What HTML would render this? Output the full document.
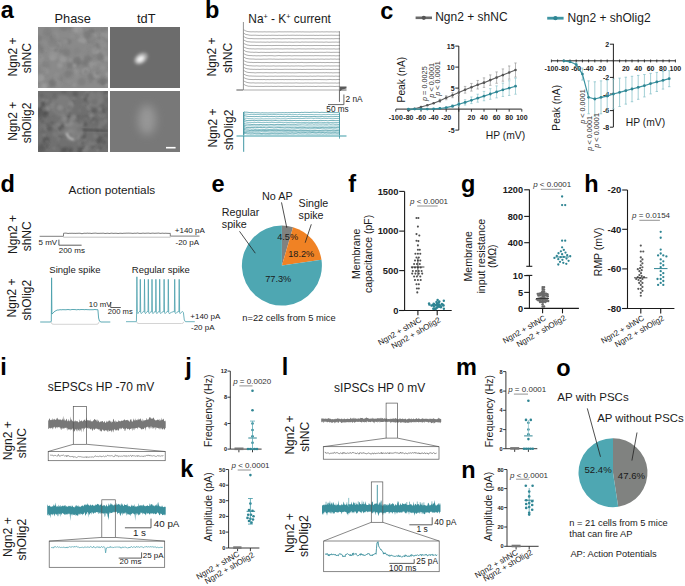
<!DOCTYPE html>
<html><head><meta charset="utf-8"><style>
html,body{margin:0;padding:0;background:#fff;}
svg{display:block;}
text{font-family:"Liberation Sans", sans-serif;}
</style></head><body>
<svg width="685" height="586" viewBox="0 0 685 586">
<rect width="685" height="586" fill="#fff"/>
<text x="0.82" y="18.16" font-size="23.5" font-weight="bold" fill="#000">a</text>
<text x="205.05" y="17.8" font-size="23.5" font-weight="bold" fill="#000">b</text>
<text x="380.3" y="18.5" font-size="23.5" font-weight="bold" fill="#000">c</text>
<text x="0.44" y="192.06" font-size="23.5" font-weight="bold" fill="#000">d</text>
<text x="211.4" y="191.56" font-size="23.5" font-weight="bold" fill="#000">e</text>
<text x="348.2" y="191.7" font-size="23.5" font-weight="bold" fill="#000">f</text>
<text x="461.1" y="191.8" font-size="23.5" font-weight="bold" fill="#000">g</text>
<text x="584.35" y="191.8" font-size="23.5" font-weight="bold" fill="#000">h</text>
<text x="0.35" y="375" font-size="23.5" font-weight="bold" fill="#000">i</text>
<text x="185.2" y="374.8" font-size="23.5" font-weight="bold" fill="#000">j</text>
<text x="180.35" y="476.8" font-size="23.5" font-weight="bold" fill="#000">k</text>
<text x="281.65" y="375.3" font-size="23.5" font-weight="bold" fill="#000">l</text>
<text x="456.05" y="374.5" font-size="23.5" font-weight="bold" fill="#000">m</text>
<text x="461.15" y="477.7" font-size="23.5" font-weight="bold" fill="#000">n</text>
<text x="556.2" y="375.8" font-size="23.5" font-weight="bold" fill="#000">o</text>
<text x="72.7" y="22.7" font-size="12.8" text-anchor="middle" fill="#1a1a1a">Phase</text>
<text x="146.3" y="22.7" font-size="12.8" text-anchor="middle" fill="#1a1a1a">tdT</text>
<defs>
<filter id="tex" x="0" y="0" width="1" height="1"><feTurbulence type="fractalNoise" baseFrequency="0.35" numOctaves="2" seed="3"/><feColorMatrix type="matrix" values="0 0 0 0 0.5  0 0 0 0 0.5  0 0 0 0 0.5  0 0 0 0.5 0"/><feComposite in2="SourceGraphic" operator="in"/></filter>
<filter id="grain" x="0" y="0" width="100%" height="100%"><feTurbulence type="fractalNoise" baseFrequency="0.55" numOctaves="2" seed="5" result="n"/><feColorMatrix in="n" type="matrix" values="0.33 0.33 0.33 0 0  0.33 0.33 0.33 0 0  0.33 0.33 0.33 0 0  0 0 0 0 1"/></filter>
<filter id="blur1" x="-50%" y="-50%" width="200%" height="200%"><feGaussianBlur stdDeviation="1.5"/></filter>
<filter id="blur05" x="-50%" y="-50%" width="200%" height="200%"><feGaussianBlur stdDeviation="0.8"/></filter>
<filter id="blur3" x="-100%" y="-100%" width="300%" height="300%"><feGaussianBlur stdDeviation="4"/></filter>
<clipPath id="c1"><rect x="38" y="27" width="70" height="61"/></clipPath>
<clipPath id="c2"><rect x="110" y="27" width="70" height="61"/></clipPath>
<clipPath id="c3"><rect x="38" y="91" width="70" height="61"/></clipPath>
<clipPath id="c4"><rect x="110" y="91" width="70" height="61"/></clipPath>
</defs>
<rect x="38" y="27" width="70" height="61" fill="#8a8a8a" stroke="none" stroke-width="1"/>
<g clip-path="url(#c1)">
<circle cx="81.76" cy="81.73" r="3.91" fill="rgb(119,119,119)" opacity="0.5" filter="url(#blur05)"/>
<circle cx="59.01" cy="80.29" r="1.22" fill="rgb(158,158,158)" opacity="0.5" filter="url(#blur05)"/>
<circle cx="93.79" cy="55.54" r="2.26" fill="rgb(123,123,123)" opacity="0.5" filter="url(#blur05)"/>
<circle cx="55.84" cy="54.15" r="2.97" fill="rgb(140,140,140)" opacity="0.5" filter="url(#blur05)"/>
<circle cx="107.69" cy="75.35" r="3.38" fill="rgb(169,169,169)" opacity="0.5" filter="url(#blur05)"/>
<circle cx="53.07" cy="36.77" r="3.34" fill="rgb(107,107,107)" opacity="0.5" filter="url(#blur05)"/>
<circle cx="40.5" cy="58.41" r="2.83" fill="rgb(164,164,164)" opacity="0.5" filter="url(#blur05)"/>
<circle cx="82.05" cy="58.36" r="2.94" fill="rgb(121,121,121)" opacity="0.5" filter="url(#blur05)"/>
<circle cx="38.83" cy="38.74" r="3.62" fill="rgb(118,118,118)" opacity="0.5" filter="url(#blur05)"/>
<circle cx="63.87" cy="27.23" r="4.11" fill="rgb(115,115,115)" opacity="0.5" filter="url(#blur05)"/>
<circle cx="56.73" cy="80.7" r="2.98" fill="rgb(160,160,160)" opacity="0.5" filter="url(#blur05)"/>
<circle cx="82.78" cy="72.25" r="1.52" fill="rgb(140,140,140)" opacity="0.5" filter="url(#blur05)"/>
<circle cx="73.54" cy="80.15" r="2.46" fill="rgb(143,143,143)" opacity="0.5" filter="url(#blur05)"/>
<circle cx="42.15" cy="50.65" r="2.33" fill="rgb(114,114,114)" opacity="0.5" filter="url(#blur05)"/>
<circle cx="95.14" cy="50.15" r="4.63" fill="rgb(143,143,143)" opacity="0.5" filter="url(#blur05)"/>
<circle cx="80.35" cy="65.92" r="3.57" fill="rgb(114,114,114)" opacity="0.5" filter="url(#blur05)"/>
<circle cx="68.82" cy="41.61" r="2.61" fill="rgb(111,111,111)" opacity="0.5" filter="url(#blur05)"/>
<circle cx="105.75" cy="40.12" r="3.55" fill="rgb(124,124,124)" opacity="0.5" filter="url(#blur05)"/>
<circle cx="99.19" cy="67.4" r="1.66" fill="rgb(159,159,159)" opacity="0.5" filter="url(#blur05)"/>
<circle cx="104.15" cy="82.14" r="3.19" fill="rgb(114,114,114)" opacity="0.5" filter="url(#blur05)"/>
<circle cx="51.47" cy="83.6" r="3.13" fill="rgb(116,116,116)" opacity="0.5" filter="url(#blur05)"/>
<circle cx="99.88" cy="66.14" r="3.19" fill="rgb(129,129,129)" opacity="0.5" filter="url(#blur05)"/>
<circle cx="66.77" cy="41.61" r="1.33" fill="rgb(161,161,161)" opacity="0.5" filter="url(#blur05)"/>
<circle cx="70.74" cy="60.41" r="2.33" fill="rgb(153,153,153)" opacity="0.5" filter="url(#blur05)"/>
<circle cx="39.76" cy="49.7" r="1.31" fill="rgb(112,112,112)" opacity="0.5" filter="url(#blur05)"/>
<circle cx="105.7" cy="67.12" r="2.7" fill="rgb(139,139,139)" opacity="0.5" filter="url(#blur05)"/>
<circle cx="99.1" cy="48" r="3.27" fill="rgb(149,149,149)" opacity="0.5" filter="url(#blur05)"/>
<circle cx="62.88" cy="58.67" r="3.88" fill="rgb(164,164,164)" opacity="0.5" filter="url(#blur05)"/>
<circle cx="48.57" cy="83.94" r="1.22" fill="rgb(153,153,153)" opacity="0.5" filter="url(#blur05)"/>
<circle cx="94.74" cy="35.34" r="2.67" fill="rgb(157,157,157)" opacity="0.5" filter="url(#blur05)"/>
<circle cx="39" cy="65.34" r="3.98" fill="rgb(138,138,138)" opacity="0.5" filter="url(#blur05)"/>
<circle cx="88.81" cy="40.81" r="1.89" fill="rgb(128,128,128)" opacity="0.5" filter="url(#blur05)"/>
<circle cx="50.56" cy="48.11" r="4.52" fill="rgb(142,142,142)" opacity="0.5" filter="url(#blur05)"/>
<circle cx="61.8" cy="43.56" r="4.53" fill="rgb(133,133,133)" opacity="0.5" filter="url(#blur05)"/>
<circle cx="106.63" cy="58.45" r="3.02" fill="rgb(163,163,163)" opacity="0.5" filter="url(#blur05)"/>
<circle cx="89.99" cy="62.42" r="2.69" fill="rgb(162,162,162)" opacity="0.5" filter="url(#blur05)"/>
<circle cx="66.82" cy="83.29" r="1.44" fill="rgb(132,132,132)" opacity="0.5" filter="url(#blur05)"/>
<circle cx="74.37" cy="85.01" r="2.08" fill="rgb(157,157,157)" opacity="0.5" filter="url(#blur05)"/>
<circle cx="85.35" cy="70.74" r="3.4" fill="rgb(168,168,168)" opacity="0.5" filter="url(#blur05)"/>
<circle cx="61.29" cy="51.29" r="1.91" fill="rgb(108,108,108)" opacity="0.5" filter="url(#blur05)"/>
<circle cx="52.9" cy="82.84" r="4.14" fill="rgb(112,112,112)" opacity="0.5" filter="url(#blur05)"/>
<circle cx="80.26" cy="56.23" r="3.28" fill="rgb(147,147,147)" opacity="0.5" filter="url(#blur05)"/>
<circle cx="59.47" cy="85.64" r="2.83" fill="rgb(145,145,145)" opacity="0.5" filter="url(#blur05)"/>
<circle cx="82.47" cy="38.22" r="1.42" fill="rgb(131,131,131)" opacity="0.5" filter="url(#blur05)"/>
<circle cx="91.48" cy="76.73" r="3.75" fill="rgb(112,112,112)" opacity="0.5" filter="url(#blur05)"/>
<circle cx="101.93" cy="75.92" r="4.27" fill="rgb(139,139,139)" opacity="0.5" filter="url(#blur05)"/>
<circle cx="102.09" cy="29.85" r="1.31" fill="rgb(106,106,106)" opacity="0.5" filter="url(#blur05)"/>
<circle cx="55.69" cy="42.16" r="1.86" fill="rgb(141,141,141)" opacity="0.5" filter="url(#blur05)"/>
<circle cx="40.73" cy="63.01" r="1.78" fill="rgb(149,149,149)" opacity="0.5" filter="url(#blur05)"/>
<circle cx="39.48" cy="45.94" r="4.48" fill="rgb(139,139,139)" opacity="0.5" filter="url(#blur05)"/>
<circle cx="94.81" cy="67.14" r="3.34" fill="rgb(117,117,117)" opacity="0.5" filter="url(#blur05)"/>
<circle cx="78.21" cy="29.42" r="4.01" fill="rgb(167,167,167)" opacity="0.5" filter="url(#blur05)"/>
<circle cx="97.78" cy="30.09" r="2.39" fill="rgb(125,125,125)" opacity="0.5" filter="url(#blur05)"/>
<circle cx="45.89" cy="65.22" r="3.99" fill="rgb(125,125,125)" opacity="0.5" filter="url(#blur05)"/>
<circle cx="98.4" cy="75.62" r="1.65" fill="rgb(154,154,154)" opacity="0.5" filter="url(#blur05)"/>
<circle cx="99.78" cy="39.03" r="3.21" fill="rgb(146,146,146)" opacity="0.5" filter="url(#blur05)"/>
<circle cx="80.65" cy="32.87" r="3.51" fill="rgb(146,146,146)" opacity="0.5" filter="url(#blur05)"/>
<circle cx="95.67" cy="76.01" r="2.35" fill="rgb(151,151,151)" opacity="0.5" filter="url(#blur05)"/>
<circle cx="98.71" cy="81.47" r="1.77" fill="rgb(106,106,106)" opacity="0.5" filter="url(#blur05)"/>
<circle cx="83.56" cy="40.1" r="3.17" fill="rgb(166,166,166)" opacity="0.5" filter="url(#blur05)"/>
<circle cx="64.55" cy="42.42" r="2.8" fill="rgb(147,147,147)" opacity="0.5" filter="url(#blur05)"/>
<circle cx="45.08" cy="50.22" r="1.67" fill="rgb(148,148,148)" opacity="0.5" filter="url(#blur05)"/>
<circle cx="96.14" cy="49.99" r="2.5" fill="rgb(140,140,140)" opacity="0.5" filter="url(#blur05)"/>
<circle cx="53.05" cy="42.09" r="2.35" fill="rgb(134,134,134)" opacity="0.5" filter="url(#blur05)"/>
<circle cx="43.71" cy="72.92" r="3.23" fill="rgb(124,124,124)" opacity="0.5" filter="url(#blur05)"/>
<circle cx="43.43" cy="73.55" r="1.66" fill="rgb(113,113,113)" opacity="0.5" filter="url(#blur05)"/>
<circle cx="47.15" cy="31.96" r="4.37" fill="rgb(122,122,122)" opacity="0.5" filter="url(#blur05)"/>
<circle cx="59.45" cy="77.8" r="3.37" fill="rgb(117,117,117)" opacity="0.5" filter="url(#blur05)"/>
<circle cx="68.44" cy="80.92" r="2.51" fill="rgb(151,151,151)" opacity="0.5" filter="url(#blur05)"/>
<circle cx="44.78" cy="71.37" r="3.92" fill="rgb(158,158,158)" opacity="0.5" filter="url(#blur05)"/>
<circle cx="85.19" cy="49.61" r="1.42" fill="rgb(138,138,138)" opacity="0.5" filter="url(#blur05)"/>
<circle cx="91.02" cy="38.64" r="2.13" fill="rgb(139,139,139)" opacity="0.5" filter="url(#blur05)"/>
<circle cx="90.38" cy="81.69" r="1.64" fill="rgb(116,116,116)" opacity="0.5" filter="url(#blur05)"/>
<circle cx="93.97" cy="66.32" r="3.72" fill="rgb(169,169,169)" opacity="0.5" filter="url(#blur05)"/>
<circle cx="103.74" cy="78.42" r="3.92" fill="rgb(130,130,130)" opacity="0.5" filter="url(#blur05)"/>
<circle cx="82.89" cy="38.25" r="3.86" fill="rgb(154,154,154)" opacity="0.5" filter="url(#blur05)"/>
<circle cx="88.49" cy="54.13" r="2.52" fill="rgb(132,132,132)" opacity="0.5" filter="url(#blur05)"/>
<circle cx="40.33" cy="78.5" r="3.1" fill="rgb(130,130,130)" opacity="0.5" filter="url(#blur05)"/>
<circle cx="76.36" cy="71.02" r="2.54" fill="rgb(158,158,158)" opacity="0.5" filter="url(#blur05)"/>
<circle cx="102.36" cy="50.63" r="1.68" fill="rgb(154,154,154)" opacity="0.5" filter="url(#blur05)"/>
<circle cx="107.51" cy="36.03" r="3.69" fill="rgb(158,158,158)" opacity="0.5" filter="url(#blur05)"/>
<circle cx="102.44" cy="34.53" r="1.52" fill="rgb(169,169,169)" opacity="0.5" filter="url(#blur05)"/>
<circle cx="46.17" cy="37.79" r="3.21" fill="rgb(134,134,134)" opacity="0.5" filter="url(#blur05)"/>
<circle cx="90.53" cy="38.62" r="4.4" fill="rgb(119,119,119)" opacity="0.5" filter="url(#blur05)"/>
<circle cx="91.84" cy="31.12" r="2.86" fill="rgb(107,107,107)" opacity="0.5" filter="url(#blur05)"/>
<circle cx="59.97" cy="46.05" r="3.72" fill="rgb(134,134,134)" opacity="0.5" filter="url(#blur05)"/>
<circle cx="41.97" cy="87.72" r="4.31" fill="rgb(164,164,164)" opacity="0.5" filter="url(#blur05)"/>
<circle cx="55.26" cy="51.04" r="2" fill="rgb(113,113,113)" opacity="0.5" filter="url(#blur05)"/>
<circle cx="40.31" cy="57.7" r="1.63" fill="rgb(116,116,116)" opacity="0.5" filter="url(#blur05)"/>
<circle cx="98.23" cy="56.54" r="1.84" fill="rgb(148,148,148)" opacity="0.5" filter="url(#blur05)"/>
<circle cx="56.61" cy="59.14" r="2.19" fill="rgb(138,138,138)" opacity="0.5" filter="url(#blur05)"/>
<circle cx="82" cy="59.71" r="2.58" fill="rgb(156,156,156)" opacity="0.5" filter="url(#blur05)"/>
<circle cx="99.14" cy="37.94" r="1.68" fill="rgb(112,112,112)" opacity="0.5" filter="url(#blur05)"/>
<circle cx="106.57" cy="84.44" r="2.01" fill="rgb(168,168,168)" opacity="0.5" filter="url(#blur05)"/>
<circle cx="52.55" cy="57.9" r="2.94" fill="rgb(164,164,164)" opacity="0.5" filter="url(#blur05)"/>
<circle cx="40.84" cy="46.24" r="3.3" fill="rgb(109,109,109)" opacity="0.5" filter="url(#blur05)"/>
<circle cx="54.56" cy="55.37" r="4.28" fill="rgb(154,154,154)" opacity="0.5" filter="url(#blur05)"/>
<circle cx="96.03" cy="73.43" r="3.68" fill="rgb(160,160,160)" opacity="0.5" filter="url(#blur05)"/>
<circle cx="85.7" cy="71.88" r="2.26" fill="rgb(115,115,115)" opacity="0.5" filter="url(#blur05)"/>
<circle cx="90.96" cy="37.12" r="4.42" fill="rgb(143,143,143)" opacity="0.5" filter="url(#blur05)"/>
<circle cx="61.06" cy="84.14" r="1.74" fill="rgb(138,138,138)" opacity="0.5" filter="url(#blur05)"/>
<circle cx="44.41" cy="85.89" r="3.21" fill="rgb(157,157,157)" opacity="0.5" filter="url(#blur05)"/>
<circle cx="57.73" cy="75.91" r="3.66" fill="rgb(146,146,146)" opacity="0.5" filter="url(#blur05)"/>
<circle cx="104.54" cy="53.44" r="2.65" fill="rgb(149,149,149)" opacity="0.5" filter="url(#blur05)"/>
<circle cx="96.45" cy="47.44" r="3.54" fill="rgb(118,118,118)" opacity="0.5" filter="url(#blur05)"/>
<circle cx="76.62" cy="73.92" r="1.43" fill="rgb(152,152,152)" opacity="0.5" filter="url(#blur05)"/>
<circle cx="39.08" cy="85.46" r="2.84" fill="rgb(131,131,131)" opacity="0.5" filter="url(#blur05)"/>
<circle cx="88.43" cy="58.92" r="3.76" fill="rgb(110,110,110)" opacity="0.5" filter="url(#blur05)"/>
<circle cx="77.4" cy="61.04" r="4.46" fill="rgb(107,107,107)" opacity="0.5" filter="url(#blur05)"/>
<circle cx="69.7" cy="65.5" r="3.13" fill="rgb(109,109,109)" opacity="0.5" filter="url(#blur05)"/>
<circle cx="79.53" cy="40.55" r="1.88" fill="rgb(162,162,162)" opacity="0.5" filter="url(#blur05)"/>
<circle cx="51.85" cy="54.71" r="3.83" fill="rgb(150,150,150)" opacity="0.5" filter="url(#blur05)"/>
<circle cx="76.74" cy="76.23" r="2.83" fill="rgb(145,145,145)" opacity="0.5" filter="url(#blur05)"/>
<circle cx="95.32" cy="68.36" r="3.45" fill="rgb(131,131,131)" opacity="0.5" filter="url(#blur05)"/>
<circle cx="77.08" cy="51.16" r="3.81" fill="rgb(129,129,129)" opacity="0.5" filter="url(#blur05)"/>
<circle cx="70.66" cy="73.08" r="2.96" fill="rgb(126,126,126)" opacity="0.5" filter="url(#blur05)"/>
<circle cx="95.88" cy="50.24" r="4.16" fill="rgb(156,156,156)" opacity="0.5" filter="url(#blur05)"/>
<circle cx="69.31" cy="70.49" r="1.32" fill="rgb(130,130,130)" opacity="0.5" filter="url(#blur05)"/>
<circle cx="98.22" cy="62.35" r="3.15" fill="rgb(148,148,148)" opacity="0.5" filter="url(#blur05)"/>
<circle cx="85.44" cy="62.6" r="2.67" fill="rgb(116,116,116)" opacity="0.5" filter="url(#blur05)"/>
<circle cx="58.48" cy="44.87" r="2.71" fill="rgb(169,169,169)" opacity="0.5" filter="url(#blur05)"/>
<circle cx="62.68" cy="54.29" r="2.5" fill="rgb(142,142,142)" opacity="0.5" filter="url(#blur05)"/>
<circle cx="104.35" cy="81.23" r="2.52" fill="rgb(122,122,122)" opacity="0.5" filter="url(#blur05)"/>
<circle cx="99.91" cy="57.12" r="3.6" fill="rgb(109,109,109)" opacity="0.5" filter="url(#blur05)"/>
<circle cx="98.66" cy="46.09" r="2.93" fill="rgb(117,117,117)" opacity="0.5" filter="url(#blur05)"/>
<circle cx="67.42" cy="77.51" r="4.1" fill="rgb(135,135,135)" opacity="0.5" filter="url(#blur05)"/>
<circle cx="91.75" cy="54.94" r="2.51" fill="rgb(140,140,140)" opacity="0.5" filter="url(#blur05)"/>
<circle cx="52.09" cy="46.31" r="3.67" fill="rgb(155,155,155)" opacity="0.5" filter="url(#blur05)"/>
<circle cx="41.97" cy="71.7" r="4.06" fill="rgb(133,133,133)" opacity="0.5" filter="url(#blur05)"/>
<circle cx="42.37" cy="68.66" r="2.06" fill="rgb(146,146,146)" opacity="0.5" filter="url(#blur05)"/>
<circle cx="64.36" cy="65.87" r="2.1" fill="rgb(135,135,135)" opacity="0.5" filter="url(#blur05)"/>
<circle cx="74.73" cy="65.49" r="1.91" fill="rgb(167,167,167)" opacity="0.5" filter="url(#blur05)"/>
<circle cx="58.24" cy="45.67" r="2.1" fill="rgb(109,109,109)" opacity="0.5" filter="url(#blur05)"/>
<circle cx="67.6" cy="74.08" r="3.68" fill="rgb(117,117,117)" opacity="0.5" filter="url(#blur05)"/>
<circle cx="47.59" cy="46.61" r="3.89" fill="rgb(136,136,136)" opacity="0.5" filter="url(#blur05)"/>
<circle cx="102.62" cy="67.04" r="3.37" fill="rgb(154,154,154)" opacity="0.5" filter="url(#blur05)"/>
<circle cx="90.52" cy="47.97" r="2.1" fill="rgb(133,133,133)" opacity="0.5" filter="url(#blur05)"/>
<circle cx="72.25" cy="35.65" r="2.74" fill="rgb(146,146,146)" opacity="0.5" filter="url(#blur05)"/>
<circle cx="47.5" cy="35.42" r="1.81" fill="rgb(123,123,123)" opacity="0.5" filter="url(#blur05)"/>
<circle cx="105.32" cy="28.57" r="1.84" fill="rgb(115,115,115)" opacity="0.5" filter="url(#blur05)"/>
<circle cx="71.2" cy="27.92" r="2.8" fill="rgb(115,115,115)" opacity="0.5" filter="url(#blur05)"/>
<circle cx="56.87" cy="75.34" r="1.84" fill="rgb(145,145,145)" opacity="0.5" filter="url(#blur05)"/>
<circle cx="66.44" cy="52.47" r="4.06" fill="rgb(115,115,115)" opacity="0.5" filter="url(#blur05)"/>
<circle cx="102.67" cy="81.5" r="3.54" fill="rgb(108,108,108)" opacity="0.5" filter="url(#blur05)"/>
<circle cx="84.43" cy="63.62" r="3.9" fill="rgb(118,118,118)" opacity="0.5" filter="url(#blur05)"/>
<circle cx="104.73" cy="81.06" r="1.6" fill="rgb(125,125,125)" opacity="0.5" filter="url(#blur05)"/>
<circle cx="40.27" cy="77.69" r="4.4" fill="rgb(169,169,169)" opacity="0.5" filter="url(#blur05)"/>
<circle cx="80.83" cy="67.63" r="3.57" fill="rgb(142,142,142)" opacity="0.5" filter="url(#blur05)"/>
<circle cx="104.67" cy="64.08" r="2.38" fill="rgb(138,138,138)" opacity="0.5" filter="url(#blur05)"/>
<circle cx="39.31" cy="71.17" r="3.63" fill="rgb(132,132,132)" opacity="0.5" filter="url(#blur05)"/>
<circle cx="97.6" cy="73.09" r="2.38" fill="rgb(110,110,110)" opacity="0.5" filter="url(#blur05)"/>
<circle cx="47.26" cy="38.24" r="2.26" fill="rgb(134,134,134)" opacity="0.5" filter="url(#blur05)"/>
<circle cx="102.96" cy="43.98" r="4.35" fill="rgb(149,149,149)" opacity="0.5" filter="url(#blur05)"/>
<circle cx="97.74" cy="51.6" r="1.21" fill="rgb(156,156,156)" opacity="0.5" filter="url(#blur05)"/>
<circle cx="55.18" cy="35.69" r="4" fill="rgb(149,149,149)" opacity="0.5" filter="url(#blur05)"/>
<circle cx="52.87" cy="43.32" r="4.49" fill="rgb(122,122,122)" opacity="0.5" filter="url(#blur05)"/>
<circle cx="87.17" cy="34.9" r="4.05" fill="rgb(112,112,112)" opacity="0.5" filter="url(#blur05)"/>
<circle cx="74.12" cy="29.15" r="3.13" fill="rgb(160,160,160)" opacity="0.5" filter="url(#blur05)"/>
<circle cx="43.91" cy="43.73" r="3.88" fill="rgb(144,144,144)" opacity="0.5" filter="url(#blur05)"/>
<circle cx="59.9" cy="65.36" r="2.79" fill="rgb(161,161,161)" opacity="0.5" filter="url(#blur05)"/>
</g>
<rect x="110" y="27" width="70" height="61" fill="#6c6c6c" stroke="none" stroke-width="1"/>
<g clip-path="url(#c2)">
<ellipse cx="141" cy="58.5" rx="7.5" ry="5" fill="#a8a8a8" filter="url(#blur1)" transform="rotate(-35 141 58.5)"/>
<ellipse cx="140.5" cy="59" rx="4.2" ry="2.8" fill="#f4f4f4" filter="url(#blur1)" transform="rotate(-35 140.5 59)"/>
</g>
<rect x="38" y="91" width="70" height="61" fill="#707070" stroke="none" stroke-width="1"/>
<g clip-path="url(#c3)">
<circle cx="58.51" cy="137.22" r="2.33" fill="rgb(132,132,132)" opacity="0.55" filter="url(#blur05)"/>
<circle cx="64.48" cy="135.22" r="2.48" fill="rgb(102,102,102)" opacity="0.55" filter="url(#blur05)"/>
<circle cx="39.85" cy="149.74" r="2.51" fill="rgb(87,87,87)" opacity="0.55" filter="url(#blur05)"/>
<circle cx="89.16" cy="108" r="1.93" fill="rgb(143,143,143)" opacity="0.55" filter="url(#blur05)"/>
<circle cx="69.37" cy="108.57" r="1.53" fill="rgb(76,76,76)" opacity="0.55" filter="url(#blur05)"/>
<circle cx="53.37" cy="107.54" r="1.22" fill="rgb(75,75,75)" opacity="0.55" filter="url(#blur05)"/>
<circle cx="70.61" cy="104.08" r="2.57" fill="rgb(148,148,148)" opacity="0.55" filter="url(#blur05)"/>
<circle cx="57.11" cy="125.91" r="2.02" fill="rgb(76,76,76)" opacity="0.55" filter="url(#blur05)"/>
<circle cx="46.74" cy="144.97" r="1.94" fill="rgb(138,138,138)" opacity="0.55" filter="url(#blur05)"/>
<circle cx="42.66" cy="127.28" r="2.88" fill="rgb(143,143,143)" opacity="0.55" filter="url(#blur05)"/>
<circle cx="38.4" cy="122.82" r="1.69" fill="rgb(134,134,134)" opacity="0.55" filter="url(#blur05)"/>
<circle cx="43.13" cy="107.16" r="2.75" fill="rgb(109,109,109)" opacity="0.55" filter="url(#blur05)"/>
<circle cx="69.72" cy="150.08" r="1.57" fill="rgb(73,73,73)" opacity="0.55" filter="url(#blur05)"/>
<circle cx="65.45" cy="100.36" r="1" fill="rgb(118,118,118)" opacity="0.55" filter="url(#blur05)"/>
<circle cx="104.75" cy="126.34" r="2.35" fill="rgb(97,97,97)" opacity="0.55" filter="url(#blur05)"/>
<circle cx="77.98" cy="136.89" r="2.21" fill="rgb(138,138,138)" opacity="0.55" filter="url(#blur05)"/>
<circle cx="76.53" cy="103.09" r="2.2" fill="rgb(111,111,111)" opacity="0.55" filter="url(#blur05)"/>
<circle cx="49.62" cy="128.77" r="2.76" fill="rgb(81,81,81)" opacity="0.55" filter="url(#blur05)"/>
<circle cx="76.15" cy="135.75" r="1.77" fill="rgb(92,92,92)" opacity="0.55" filter="url(#blur05)"/>
<circle cx="64.06" cy="124.04" r="2.45" fill="rgb(117,117,117)" opacity="0.55" filter="url(#blur05)"/>
<circle cx="45.49" cy="140.89" r="3.02" fill="rgb(78,78,78)" opacity="0.55" filter="url(#blur05)"/>
<circle cx="55.47" cy="101.59" r="2.84" fill="rgb(147,147,147)" opacity="0.55" filter="url(#blur05)"/>
<circle cx="41.1" cy="111.28" r="1.26" fill="rgb(109,109,109)" opacity="0.55" filter="url(#blur05)"/>
<circle cx="102.51" cy="95.28" r="1.21" fill="rgb(111,111,111)" opacity="0.55" filter="url(#blur05)"/>
<circle cx="74.68" cy="136.48" r="1.85" fill="rgb(81,81,81)" opacity="0.55" filter="url(#blur05)"/>
<circle cx="62.75" cy="150.91" r="2.6" fill="rgb(79,79,79)" opacity="0.55" filter="url(#blur05)"/>
<circle cx="94.57" cy="109.97" r="2.68" fill="rgb(71,71,71)" opacity="0.55" filter="url(#blur05)"/>
<circle cx="98.99" cy="100.9" r="1.89" fill="rgb(126,126,126)" opacity="0.55" filter="url(#blur05)"/>
<circle cx="73.55" cy="101.09" r="1.13" fill="rgb(94,94,94)" opacity="0.55" filter="url(#blur05)"/>
<circle cx="41.67" cy="104.21" r="1.11" fill="rgb(109,109,109)" opacity="0.55" filter="url(#blur05)"/>
<circle cx="62.96" cy="126.8" r="1.47" fill="rgb(72,72,72)" opacity="0.55" filter="url(#blur05)"/>
<circle cx="61.18" cy="137.07" r="1.41" fill="rgb(104,104,104)" opacity="0.55" filter="url(#blur05)"/>
<circle cx="90.85" cy="115.81" r="2.93" fill="rgb(148,148,148)" opacity="0.55" filter="url(#blur05)"/>
<circle cx="59.74" cy="135.89" r="1.41" fill="rgb(81,81,81)" opacity="0.55" filter="url(#blur05)"/>
<circle cx="68.65" cy="127.75" r="3.05" fill="rgb(82,82,82)" opacity="0.55" filter="url(#blur05)"/>
<circle cx="87.87" cy="120" r="1.12" fill="rgb(152,152,152)" opacity="0.55" filter="url(#blur05)"/>
<circle cx="86.7" cy="98.86" r="2.97" fill="rgb(78,78,78)" opacity="0.55" filter="url(#blur05)"/>
<circle cx="44.49" cy="111.22" r="3.05" fill="rgb(72,72,72)" opacity="0.55" filter="url(#blur05)"/>
<circle cx="102.27" cy="128.31" r="0.96" fill="rgb(118,118,118)" opacity="0.55" filter="url(#blur05)"/>
<circle cx="70.12" cy="125.4" r="2.57" fill="rgb(127,127,127)" opacity="0.55" filter="url(#blur05)"/>
<circle cx="107.81" cy="100.56" r="2.75" fill="rgb(104,104,104)" opacity="0.55" filter="url(#blur05)"/>
<circle cx="92.83" cy="145.4" r="3.18" fill="rgb(92,92,92)" opacity="0.55" filter="url(#blur05)"/>
<circle cx="69.71" cy="148.51" r="3.07" fill="rgb(101,101,101)" opacity="0.55" filter="url(#blur05)"/>
<circle cx="103.81" cy="115.76" r="1.7" fill="rgb(134,134,134)" opacity="0.55" filter="url(#blur05)"/>
<circle cx="70.98" cy="118.34" r="1.73" fill="rgb(106,106,106)" opacity="0.55" filter="url(#blur05)"/>
<circle cx="47.79" cy="94.72" r="2.61" fill="rgb(117,117,117)" opacity="0.55" filter="url(#blur05)"/>
<circle cx="85.03" cy="139.94" r="1.35" fill="rgb(89,89,89)" opacity="0.55" filter="url(#blur05)"/>
<circle cx="57.45" cy="109.54" r="2.63" fill="rgb(101,101,101)" opacity="0.55" filter="url(#blur05)"/>
<circle cx="60.62" cy="129.81" r="1.25" fill="rgb(79,79,79)" opacity="0.55" filter="url(#blur05)"/>
<circle cx="86.8" cy="137.14" r="1.51" fill="rgb(124,124,124)" opacity="0.55" filter="url(#blur05)"/>
<circle cx="40.39" cy="115.66" r="2.19" fill="rgb(91,91,91)" opacity="0.55" filter="url(#blur05)"/>
<circle cx="62.38" cy="128.18" r="2.22" fill="rgb(83,83,83)" opacity="0.55" filter="url(#blur05)"/>
<circle cx="87.46" cy="95.88" r="3.13" fill="rgb(87,87,87)" opacity="0.55" filter="url(#blur05)"/>
<circle cx="55.75" cy="103.22" r="3.18" fill="rgb(94,94,94)" opacity="0.55" filter="url(#blur05)"/>
<circle cx="80.37" cy="151.43" r="3.08" fill="rgb(73,73,73)" opacity="0.55" filter="url(#blur05)"/>
<circle cx="74.48" cy="127.68" r="2.49" fill="rgb(98,98,98)" opacity="0.55" filter="url(#blur05)"/>
<circle cx="60.95" cy="91.26" r="0.88" fill="rgb(116,116,116)" opacity="0.55" filter="url(#blur05)"/>
<circle cx="43.31" cy="103.35" r="1.6" fill="rgb(75,75,75)" opacity="0.55" filter="url(#blur05)"/>
<circle cx="40.16" cy="147.54" r="1.84" fill="rgb(87,87,87)" opacity="0.55" filter="url(#blur05)"/>
<circle cx="87.59" cy="91.58" r="1.39" fill="rgb(151,151,151)" opacity="0.55" filter="url(#blur05)"/>
<circle cx="100.84" cy="129.79" r="1.02" fill="rgb(97,97,97)" opacity="0.55" filter="url(#blur05)"/>
<circle cx="39.96" cy="104.37" r="0.86" fill="rgb(80,80,80)" opacity="0.55" filter="url(#blur05)"/>
<circle cx="82.33" cy="97.13" r="1.17" fill="rgb(146,146,146)" opacity="0.55" filter="url(#blur05)"/>
<circle cx="61.48" cy="111.31" r="1.01" fill="rgb(137,137,137)" opacity="0.55" filter="url(#blur05)"/>
<circle cx="85.35" cy="124.38" r="2.28" fill="rgb(78,78,78)" opacity="0.55" filter="url(#blur05)"/>
<circle cx="56.22" cy="126.6" r="3.09" fill="rgb(139,139,139)" opacity="0.55" filter="url(#blur05)"/>
<circle cx="82.85" cy="122.65" r="0.84" fill="rgb(145,145,145)" opacity="0.55" filter="url(#blur05)"/>
<circle cx="42.68" cy="98.87" r="2.46" fill="rgb(139,139,139)" opacity="0.55" filter="url(#blur05)"/>
<circle cx="93.06" cy="118.6" r="1.22" fill="rgb(73,73,73)" opacity="0.55" filter="url(#blur05)"/>
<circle cx="97.6" cy="150.64" r="1.39" fill="rgb(143,143,143)" opacity="0.55" filter="url(#blur05)"/>
<circle cx="66.18" cy="109.99" r="2.01" fill="rgb(70,70,70)" opacity="0.55" filter="url(#blur05)"/>
<circle cx="68.99" cy="103.17" r="2.51" fill="rgb(112,112,112)" opacity="0.55" filter="url(#blur05)"/>
<circle cx="98.82" cy="145.7" r="1.56" fill="rgb(93,93,93)" opacity="0.55" filter="url(#blur05)"/>
<circle cx="103.74" cy="121.74" r="1.03" fill="rgb(73,73,73)" opacity="0.55" filter="url(#blur05)"/>
<circle cx="107.33" cy="126.33" r="0.93" fill="rgb(113,113,113)" opacity="0.55" filter="url(#blur05)"/>
<circle cx="73.29" cy="117.56" r="3.08" fill="rgb(150,150,150)" opacity="0.55" filter="url(#blur05)"/>
<circle cx="46.75" cy="100.25" r="1.78" fill="rgb(140,140,140)" opacity="0.55" filter="url(#blur05)"/>
<circle cx="81.66" cy="135.52" r="2.18" fill="rgb(87,87,87)" opacity="0.55" filter="url(#blur05)"/>
<circle cx="95.24" cy="91.86" r="2.48" fill="rgb(86,86,86)" opacity="0.55" filter="url(#blur05)"/>
<circle cx="70.98" cy="150.48" r="2.09" fill="rgb(74,74,74)" opacity="0.55" filter="url(#blur05)"/>
<circle cx="68.01" cy="131.28" r="0.94" fill="rgb(91,91,91)" opacity="0.55" filter="url(#blur05)"/>
<circle cx="39.28" cy="123.94" r="1.72" fill="rgb(112,112,112)" opacity="0.55" filter="url(#blur05)"/>
<circle cx="58.71" cy="131.07" r="1.22" fill="rgb(147,147,147)" opacity="0.55" filter="url(#blur05)"/>
<circle cx="105.21" cy="121.07" r="1.92" fill="rgb(143,143,143)" opacity="0.55" filter="url(#blur05)"/>
<circle cx="58.29" cy="139.99" r="1.49" fill="rgb(131,131,131)" opacity="0.55" filter="url(#blur05)"/>
<circle cx="61.38" cy="127.76" r="3.02" fill="rgb(74,74,74)" opacity="0.55" filter="url(#blur05)"/>
<circle cx="94.51" cy="124.05" r="1.71" fill="rgb(99,99,99)" opacity="0.55" filter="url(#blur05)"/>
<circle cx="42.86" cy="106.76" r="2.3" fill="rgb(78,78,78)" opacity="0.55" filter="url(#blur05)"/>
<circle cx="84.86" cy="149.7" r="3.15" fill="rgb(145,145,145)" opacity="0.55" filter="url(#blur05)"/>
<circle cx="94.46" cy="101.86" r="3.13" fill="rgb(87,87,87)" opacity="0.55" filter="url(#blur05)"/>
<circle cx="98.83" cy="144.55" r="2.29" fill="rgb(114,114,114)" opacity="0.55" filter="url(#blur05)"/>
<circle cx="52.03" cy="122.69" r="1.5" fill="rgb(80,80,80)" opacity="0.55" filter="url(#blur05)"/>
<circle cx="46.97" cy="139.87" r="3.01" fill="rgb(82,82,82)" opacity="0.55" filter="url(#blur05)"/>
<circle cx="38.93" cy="107.08" r="1.12" fill="rgb(86,86,86)" opacity="0.55" filter="url(#blur05)"/>
<circle cx="78.83" cy="116.76" r="1.83" fill="rgb(87,87,87)" opacity="0.55" filter="url(#blur05)"/>
<circle cx="84.52" cy="108.66" r="1.76" fill="rgb(109,109,109)" opacity="0.55" filter="url(#blur05)"/>
<circle cx="101.31" cy="106.03" r="2.52" fill="rgb(96,96,96)" opacity="0.55" filter="url(#blur05)"/>
<circle cx="100.61" cy="115.04" r="2.01" fill="rgb(144,144,144)" opacity="0.55" filter="url(#blur05)"/>
<circle cx="85.09" cy="96.76" r="1.13" fill="rgb(154,154,154)" opacity="0.55" filter="url(#blur05)"/>
<circle cx="40.04" cy="109.35" r="3.1" fill="rgb(71,71,71)" opacity="0.55" filter="url(#blur05)"/>
<circle cx="49.3" cy="104.02" r="1.01" fill="rgb(110,110,110)" opacity="0.55" filter="url(#blur05)"/>
<circle cx="79.47" cy="110.42" r="1.06" fill="rgb(138,138,138)" opacity="0.55" filter="url(#blur05)"/>
<circle cx="94.31" cy="125.29" r="1.13" fill="rgb(116,116,116)" opacity="0.55" filter="url(#blur05)"/>
<circle cx="82.07" cy="117.13" r="2.87" fill="rgb(103,103,103)" opacity="0.55" filter="url(#blur05)"/>
<circle cx="73.76" cy="97.96" r="2.15" fill="rgb(135,135,135)" opacity="0.55" filter="url(#blur05)"/>
<circle cx="89.19" cy="106.68" r="3.18" fill="rgb(131,131,131)" opacity="0.55" filter="url(#blur05)"/>
<circle cx="67.66" cy="116.31" r="2.67" fill="rgb(84,84,84)" opacity="0.55" filter="url(#blur05)"/>
<circle cx="82.77" cy="134.85" r="2.04" fill="rgb(144,144,144)" opacity="0.55" filter="url(#blur05)"/>
<circle cx="70.8" cy="119.36" r="1.48" fill="rgb(148,148,148)" opacity="0.55" filter="url(#blur05)"/>
<circle cx="60.14" cy="133.41" r="1.78" fill="rgb(149,149,149)" opacity="0.55" filter="url(#blur05)"/>
<circle cx="104.36" cy="92.83" r="3.19" fill="rgb(121,121,121)" opacity="0.55" filter="url(#blur05)"/>
<circle cx="43.17" cy="121.32" r="0.92" fill="rgb(116,116,116)" opacity="0.55" filter="url(#blur05)"/>
<circle cx="50.98" cy="113.44" r="1.53" fill="rgb(121,121,121)" opacity="0.55" filter="url(#blur05)"/>
<circle cx="95.57" cy="148.13" r="1.59" fill="rgb(118,118,118)" opacity="0.55" filter="url(#blur05)"/>
<circle cx="38.41" cy="113.7" r="3.11" fill="rgb(80,80,80)" opacity="0.55" filter="url(#blur05)"/>
<circle cx="98.89" cy="130.8" r="1.51" fill="rgb(136,136,136)" opacity="0.55" filter="url(#blur05)"/>
<circle cx="58.25" cy="145.58" r="1" fill="rgb(80,80,80)" opacity="0.55" filter="url(#blur05)"/>
<circle cx="90.5" cy="118.4" r="1.15" fill="rgb(113,113,113)" opacity="0.55" filter="url(#blur05)"/>
<circle cx="58.79" cy="124.51" r="2.58" fill="rgb(142,142,142)" opacity="0.55" filter="url(#blur05)"/>
<circle cx="42.13" cy="127.13" r="3.16" fill="rgb(109,109,109)" opacity="0.55" filter="url(#blur05)"/>
<circle cx="91.87" cy="96.93" r="2.9" fill="rgb(119,119,119)" opacity="0.55" filter="url(#blur05)"/>
<circle cx="100.18" cy="139.01" r="2.89" fill="rgb(74,74,74)" opacity="0.55" filter="url(#blur05)"/>
<circle cx="88.09" cy="103.02" r="1.44" fill="rgb(97,97,97)" opacity="0.55" filter="url(#blur05)"/>
<circle cx="79.39" cy="129.3" r="3.04" fill="rgb(71,71,71)" opacity="0.55" filter="url(#blur05)"/>
<circle cx="51.54" cy="113.08" r="2.76" fill="rgb(116,116,116)" opacity="0.55" filter="url(#blur05)"/>
<circle cx="73.84" cy="137.37" r="2.37" fill="rgb(94,94,94)" opacity="0.55" filter="url(#blur05)"/>
<circle cx="44.1" cy="119.2" r="2.91" fill="rgb(120,120,120)" opacity="0.55" filter="url(#blur05)"/>
<circle cx="41.73" cy="117.84" r="1.72" fill="rgb(119,119,119)" opacity="0.55" filter="url(#blur05)"/>
<circle cx="79.1" cy="149.03" r="1.61" fill="rgb(104,104,104)" opacity="0.55" filter="url(#blur05)"/>
<circle cx="80.95" cy="145.07" r="2.49" fill="rgb(110,110,110)" opacity="0.55" filter="url(#blur05)"/>
<circle cx="95.02" cy="120.6" r="3.11" fill="rgb(94,94,94)" opacity="0.55" filter="url(#blur05)"/>
<circle cx="46.92" cy="141.65" r="1.51" fill="rgb(142,142,142)" opacity="0.55" filter="url(#blur05)"/>
<circle cx="80.66" cy="122.05" r="1.01" fill="rgb(136,136,136)" opacity="0.55" filter="url(#blur05)"/>
<circle cx="42.61" cy="149.87" r="2.9" fill="rgb(95,95,95)" opacity="0.55" filter="url(#blur05)"/>
<circle cx="46.95" cy="145.03" r="1.95" fill="rgb(80,80,80)" opacity="0.55" filter="url(#blur05)"/>
<circle cx="72.9" cy="106.06" r="1.78" fill="rgb(124,124,124)" opacity="0.55" filter="url(#blur05)"/>
<circle cx="102.08" cy="139.86" r="1.19" fill="rgb(110,110,110)" opacity="0.55" filter="url(#blur05)"/>
<circle cx="72.43" cy="151.36" r="1.01" fill="rgb(113,113,113)" opacity="0.55" filter="url(#blur05)"/>
<circle cx="102.01" cy="115.33" r="1.43" fill="rgb(117,117,117)" opacity="0.55" filter="url(#blur05)"/>
<circle cx="60.41" cy="147.55" r="1" fill="rgb(87,87,87)" opacity="0.55" filter="url(#blur05)"/>
<circle cx="43.87" cy="134.43" r="1.5" fill="rgb(146,146,146)" opacity="0.55" filter="url(#blur05)"/>
<circle cx="100.55" cy="148.12" r="1.41" fill="rgb(70,70,70)" opacity="0.55" filter="url(#blur05)"/>
<circle cx="65.13" cy="149.72" r="2.63" fill="rgb(75,75,75)" opacity="0.55" filter="url(#blur05)"/>
<circle cx="87.18" cy="146.94" r="3.12" fill="rgb(130,130,130)" opacity="0.55" filter="url(#blur05)"/>
<circle cx="98.41" cy="142.34" r="1.66" fill="rgb(78,78,78)" opacity="0.55" filter="url(#blur05)"/>
<circle cx="88.92" cy="99.35" r="1.72" fill="rgb(154,154,154)" opacity="0.55" filter="url(#blur05)"/>
<circle cx="77.18" cy="122.83" r="3.07" fill="rgb(94,94,94)" opacity="0.55" filter="url(#blur05)"/>
<circle cx="107.96" cy="146.63" r="1.67" fill="rgb(97,97,97)" opacity="0.55" filter="url(#blur05)"/>
<circle cx="46.86" cy="146.85" r="1.25" fill="rgb(70,70,70)" opacity="0.55" filter="url(#blur05)"/>
<circle cx="100.31" cy="127.49" r="2.41" fill="rgb(132,132,132)" opacity="0.55" filter="url(#blur05)"/>
<circle cx="40.99" cy="96.6" r="2" fill="rgb(74,74,74)" opacity="0.55" filter="url(#blur05)"/>
<circle cx="73.3" cy="135.92" r="2.38" fill="rgb(122,122,122)" opacity="0.55" filter="url(#blur05)"/>
<circle cx="41.25" cy="105.44" r="2.95" fill="rgb(80,80,80)" opacity="0.55" filter="url(#blur05)"/>
<circle cx="75.33" cy="94.05" r="3.05" fill="rgb(84,84,84)" opacity="0.55" filter="url(#blur05)"/>
<circle cx="66.7" cy="124.35" r="2.52" fill="rgb(149,149,149)" opacity="0.55" filter="url(#blur05)"/>
<circle cx="89.55" cy="112.19" r="0.98" fill="rgb(130,130,130)" opacity="0.55" filter="url(#blur05)"/>
<circle cx="106.08" cy="92.04" r="2.66" fill="rgb(84,84,84)" opacity="0.55" filter="url(#blur05)"/>
<circle cx="70.2" cy="122.88" r="2.27" fill="rgb(154,154,154)" opacity="0.55" filter="url(#blur05)"/>
<circle cx="86.12" cy="114.94" r="2.52" fill="rgb(109,109,109)" opacity="0.55" filter="url(#blur05)"/>
<circle cx="66.92" cy="113.3" r="1.98" fill="rgb(93,93,93)" opacity="0.55" filter="url(#blur05)"/>
<circle cx="54.95" cy="100.06" r="1.86" fill="rgb(94,94,94)" opacity="0.55" filter="url(#blur05)"/>
<circle cx="96.59" cy="142.72" r="1.63" fill="rgb(122,122,122)" opacity="0.55" filter="url(#blur05)"/>
<circle cx="101.16" cy="112.91" r="2.13" fill="rgb(107,107,107)" opacity="0.55" filter="url(#blur05)"/>
<circle cx="83.52" cy="149.55" r="1.13" fill="rgb(152,152,152)" opacity="0.55" filter="url(#blur05)"/>
<circle cx="84.6" cy="139.55" r="2.32" fill="rgb(143,143,143)" opacity="0.55" filter="url(#blur05)"/>
<circle cx="60.84" cy="134.19" r="1.43" fill="rgb(113,113,113)" opacity="0.55" filter="url(#blur05)"/>
<circle cx="85.7" cy="103.27" r="0.95" fill="rgb(137,137,137)" opacity="0.55" filter="url(#blur05)"/>
<circle cx="94.63" cy="131.61" r="1.57" fill="rgb(125,125,125)" opacity="0.55" filter="url(#blur05)"/>
<circle cx="43.87" cy="131.41" r="2.18" fill="rgb(122,122,122)" opacity="0.55" filter="url(#blur05)"/>
<circle cx="69.29" cy="104.73" r="2.54" fill="rgb(109,109,109)" opacity="0.55" filter="url(#blur05)"/>
<circle cx="90.18" cy="113.21" r="1.01" fill="rgb(116,116,116)" opacity="0.55" filter="url(#blur05)"/>
<circle cx="81.59" cy="147.23" r="2.93" fill="rgb(74,74,74)" opacity="0.55" filter="url(#blur05)"/>
<circle cx="92.03" cy="106.94" r="2.47" fill="rgb(102,102,102)" opacity="0.55" filter="url(#blur05)"/>
<circle cx="60.55" cy="120.79" r="2.07" fill="rgb(129,129,129)" opacity="0.55" filter="url(#blur05)"/>
<circle cx="82.65" cy="132.37" r="1.72" fill="rgb(127,127,127)" opacity="0.55" filter="url(#blur05)"/>
<circle cx="62.18" cy="128.06" r="1.9" fill="rgb(117,117,117)" opacity="0.55" filter="url(#blur05)"/>
<circle cx="39.23" cy="121.43" r="1.33" fill="rgb(102,102,102)" opacity="0.55" filter="url(#blur05)"/>
<circle cx="43.16" cy="131.07" r="2.94" fill="rgb(100,100,100)" opacity="0.55" filter="url(#blur05)"/>
<circle cx="45.35" cy="128.84" r="1.1" fill="rgb(145,145,145)" opacity="0.55" filter="url(#blur05)"/>
<circle cx="46.57" cy="113.07" r="1.99" fill="rgb(80,80,80)" opacity="0.55" filter="url(#blur05)"/>
<circle cx="60.31" cy="107.79" r="2.51" fill="rgb(153,153,153)" opacity="0.55" filter="url(#blur05)"/>
<circle cx="63.4" cy="139.23" r="1.14" fill="rgb(119,119,119)" opacity="0.55" filter="url(#blur05)"/>
<circle cx="68.29" cy="108.58" r="2.77" fill="rgb(133,133,133)" opacity="0.55" filter="url(#blur05)"/>
<circle cx="47.38" cy="108.84" r="2.77" fill="rgb(154,154,154)" opacity="0.55" filter="url(#blur05)"/>
<circle cx="80.81" cy="144.17" r="3.16" fill="rgb(132,132,132)" opacity="0.55" filter="url(#blur05)"/>
<circle cx="83.13" cy="104.5" r="1.69" fill="rgb(123,123,123)" opacity="0.55" filter="url(#blur05)"/>
<circle cx="102.85" cy="109.41" r="1.75" fill="rgb(71,71,71)" opacity="0.55" filter="url(#blur05)"/>
<circle cx="86.77" cy="118.06" r="2.71" fill="rgb(89,89,89)" opacity="0.55" filter="url(#blur05)"/>
<circle cx="84.18" cy="132.06" r="1.91" fill="rgb(86,86,86)" opacity="0.55" filter="url(#blur05)"/>
<circle cx="66.2" cy="136.45" r="1.25" fill="rgb(77,77,77)" opacity="0.55" filter="url(#blur05)"/>
<circle cx="70.39" cy="105.31" r="2.72" fill="rgb(139,139,139)" opacity="0.55" filter="url(#blur05)"/>
<circle cx="104.17" cy="142.23" r="2.35" fill="rgb(85,85,85)" opacity="0.55" filter="url(#blur05)"/>
<circle cx="95.61" cy="135.41" r="2.59" fill="rgb(129,129,129)" opacity="0.55" filter="url(#blur05)"/>
<circle cx="96.1" cy="109.17" r="2.41" fill="rgb(113,113,113)" opacity="0.55" filter="url(#blur05)"/>
<circle cx="61.65" cy="110.94" r="1.17" fill="rgb(111,111,111)" opacity="0.55" filter="url(#blur05)"/>
<circle cx="63.81" cy="116.71" r="2.84" fill="rgb(127,127,127)" opacity="0.55" filter="url(#blur05)"/>
<circle cx="85.62" cy="151.03" r="1.32" fill="rgb(113,113,113)" opacity="0.55" filter="url(#blur05)"/>
<circle cx="44.48" cy="114.96" r="3.08" fill="rgb(77,77,77)" opacity="0.55" filter="url(#blur05)"/>
<circle cx="91.04" cy="143.79" r="2.02" fill="rgb(137,137,137)" opacity="0.55" filter="url(#blur05)"/>
<circle cx="68.87" cy="112.55" r="2.01" fill="rgb(86,86,86)" opacity="0.55" filter="url(#blur05)"/>
<circle cx="59.52" cy="109.63" r="3.17" fill="rgb(98,98,98)" opacity="0.55" filter="url(#blur05)"/>
<circle cx="54.02" cy="148.33" r="1.13" fill="rgb(152,152,152)" opacity="0.55" filter="url(#blur05)"/>
<circle cx="97.73" cy="130.47" r="1.83" fill="rgb(86,86,86)" opacity="0.55" filter="url(#blur05)"/>
<circle cx="45.43" cy="97.32" r="1.64" fill="rgb(104,104,104)" opacity="0.55" filter="url(#blur05)"/>
<circle cx="102.66" cy="123.71" r="3.18" fill="rgb(131,131,131)" opacity="0.55" filter="url(#blur05)"/>
<circle cx="48.24" cy="124.77" r="1.18" fill="rgb(73,73,73)" opacity="0.55" filter="url(#blur05)"/>
<circle cx="104.07" cy="111.61" r="1.26" fill="rgb(78,78,78)" opacity="0.55" filter="url(#blur05)"/>
<circle cx="83.65" cy="119.13" r="0.83" fill="rgb(130,130,130)" opacity="0.55" filter="url(#blur05)"/>
<circle cx="55.97" cy="138.61" r="1.97" fill="rgb(115,115,115)" opacity="0.55" filter="url(#blur05)"/>
<circle cx="70" cy="132.23" r="3.18" fill="rgb(137,137,137)" opacity="0.55" filter="url(#blur05)"/>
<circle cx="42.84" cy="121.18" r="1.36" fill="rgb(78,78,78)" opacity="0.55" filter="url(#blur05)"/>
<circle cx="51.66" cy="106.13" r="3.1" fill="rgb(133,133,133)" opacity="0.55" filter="url(#blur05)"/>
<circle cx="97.71" cy="133.63" r="1.56" fill="rgb(103,103,103)" opacity="0.55" filter="url(#blur05)"/>
<circle cx="68.85" cy="108.9" r="1.81" fill="rgb(135,135,135)" opacity="0.55" filter="url(#blur05)"/>
<circle cx="43.3" cy="107.87" r="1.95" fill="rgb(127,127,127)" opacity="0.55" filter="url(#blur05)"/>
<circle cx="83.21" cy="135.22" r="1.05" fill="rgb(85,85,85)" opacity="0.55" filter="url(#blur05)"/>
<circle cx="59.63" cy="108.18" r="2.61" fill="rgb(154,154,154)" opacity="0.55" filter="url(#blur05)"/>
<circle cx="85.82" cy="93.02" r="1.51" fill="rgb(138,138,138)" opacity="0.55" filter="url(#blur05)"/>
<circle cx="102.7" cy="127.29" r="1.64" fill="rgb(100,100,100)" opacity="0.55" filter="url(#blur05)"/>
<circle cx="82.34" cy="143.72" r="1.62" fill="rgb(86,86,86)" opacity="0.55" filter="url(#blur05)"/>
<circle cx="38.2" cy="99.39" r="2.84" fill="rgb(123,123,123)" opacity="0.55" filter="url(#blur05)"/>
<circle cx="107.34" cy="95.24" r="1.68" fill="rgb(137,137,137)" opacity="0.55" filter="url(#blur05)"/>
<circle cx="84.28" cy="95.07" r="1.76" fill="rgb(124,124,124)" opacity="0.55" filter="url(#blur05)"/>
<circle cx="86.14" cy="118.55" r="1.25" fill="rgb(152,152,152)" opacity="0.55" filter="url(#blur05)"/>
<circle cx="70.66" cy="134.76" r="2.08" fill="rgb(76,76,76)" opacity="0.55" filter="url(#blur05)"/>
<circle cx="54.57" cy="94.84" r="1.26" fill="rgb(87,87,87)" opacity="0.55" filter="url(#blur05)"/>
<circle cx="67.04" cy="110.62" r="1.67" fill="rgb(139,139,139)" opacity="0.55" filter="url(#blur05)"/>
<circle cx="39.5" cy="97.31" r="2.74" fill="rgb(115,115,115)" opacity="0.55" filter="url(#blur05)"/>
<circle cx="68.72" cy="107.31" r="2.1" fill="rgb(88,88,88)" opacity="0.55" filter="url(#blur05)"/>
<circle cx="98.09" cy="141.27" r="1.57" fill="rgb(72,72,72)" opacity="0.55" filter="url(#blur05)"/>
<circle cx="100.14" cy="109.22" r="2.38" fill="rgb(142,142,142)" opacity="0.55" filter="url(#blur05)"/>
<circle cx="93.89" cy="143.61" r="1.97" fill="rgb(141,141,141)" opacity="0.55" filter="url(#blur05)"/>
<circle cx="70.28" cy="107.09" r="1.95" fill="rgb(98,98,98)" opacity="0.55" filter="url(#blur05)"/>
<circle cx="91.7" cy="141.73" r="1.14" fill="rgb(83,83,83)" opacity="0.55" filter="url(#blur05)"/>
<circle cx="64.86" cy="119.26" r="3.1" fill="rgb(150,150,150)" opacity="0.55" filter="url(#blur05)"/>
<circle cx="105.69" cy="135.52" r="2.43" fill="rgb(92,92,92)" opacity="0.55" filter="url(#blur05)"/>
<circle cx="64.09" cy="91.16" r="2.8" fill="rgb(93,93,93)" opacity="0.55" filter="url(#blur05)"/>
<circle cx="43.55" cy="110.25" r="1.58" fill="rgb(131,131,131)" opacity="0.55" filter="url(#blur05)"/>
<circle cx="38.4" cy="105.03" r="2.95" fill="rgb(142,142,142)" opacity="0.55" filter="url(#blur05)"/>
<circle cx="82.03" cy="125.1" r="1.33" fill="rgb(144,144,144)" opacity="0.55" filter="url(#blur05)"/>
<circle cx="91.25" cy="122.29" r="1.19" fill="rgb(88,88,88)" opacity="0.55" filter="url(#blur05)"/>
<circle cx="64.55" cy="111.2" r="0.95" fill="rgb(104,104,104)" opacity="0.55" filter="url(#blur05)"/>
<circle cx="69.41" cy="108.51" r="1.72" fill="rgb(98,98,98)" opacity="0.55" filter="url(#blur05)"/>
<circle cx="64.38" cy="128.76" r="1.99" fill="rgb(86,86,86)" opacity="0.55" filter="url(#blur05)"/>
<circle cx="93.67" cy="122.3" r="1.9" fill="rgb(130,130,130)" opacity="0.55" filter="url(#blur05)"/>
<circle cx="90.65" cy="142.79" r="2.75" fill="rgb(126,126,126)" opacity="0.55" filter="url(#blur05)"/>
<circle cx="88.48" cy="100.58" r="2.48" fill="rgb(91,91,91)" opacity="0.55" filter="url(#blur05)"/>
<circle cx="56.05" cy="98.33" r="1.75" fill="rgb(71,71,71)" opacity="0.55" filter="url(#blur05)"/>
<circle cx="83.99" cy="136.63" r="2.66" fill="rgb(80,80,80)" opacity="0.55" filter="url(#blur05)"/>
<circle cx="82.88" cy="142.14" r="0.89" fill="rgb(86,86,86)" opacity="0.55" filter="url(#blur05)"/>
<circle cx="56.74" cy="119.18" r="1.21" fill="rgb(115,115,115)" opacity="0.55" filter="url(#blur05)"/>
<circle cx="62.08" cy="130.96" r="2.08" fill="rgb(128,128,128)" opacity="0.55" filter="url(#blur05)"/>
<circle cx="55.24" cy="134.13" r="2.56" fill="rgb(131,131,131)" opacity="0.55" filter="url(#blur05)"/>
<circle cx="42.79" cy="148.72" r="2.18" fill="rgb(93,93,93)" opacity="0.55" filter="url(#blur05)"/>
<circle cx="68.39" cy="122.57" r="2.04" fill="rgb(91,91,91)" opacity="0.55" filter="url(#blur05)"/>
<circle cx="56.55" cy="113.18" r="2.67" fill="rgb(107,107,107)" opacity="0.55" filter="url(#blur05)"/>
<circle cx="40.7" cy="118.58" r="1.28" fill="rgb(71,71,71)" opacity="0.55" filter="url(#blur05)"/>
<circle cx="106.39" cy="108.92" r="2.09" fill="rgb(100,100,100)" opacity="0.55" filter="url(#blur05)"/>
<circle cx="41.74" cy="145.95" r="3.05" fill="rgb(85,85,85)" opacity="0.55" filter="url(#blur05)"/>
<circle cx="67.26" cy="113.79" r="1.2" fill="rgb(126,126,126)" opacity="0.55" filter="url(#blur05)"/>
<circle cx="62" cy="106" r="10" fill="#8c8c8c" stroke="#a0a0a0" stroke-width="1.2" opacity="0.45" filter="url(#blur1)"/>
<circle cx="95" cy="99" r="7.5" fill="#858585" stroke="#a5a5a5" stroke-width="1" opacity="0.5" filter="url(#blur1)"/>
<circle cx="73" cy="131" r="9.5" fill="#929292" stroke="#a0a0a0" stroke-width="1" opacity="0.55" filter="url(#blur1)"/>
<path d="M66.5,133 A9,9 0 0 0 74,139.6" fill="none" stroke="#d0d0d0" stroke-width="1.3" filter="url(#blur05)"/>
<path d="M82.5,129.6 L108,131" stroke="#4a4a4a" stroke-width="1.6" filter="url(#blur05)"/>
</g>
<rect x="110" y="91" width="70" height="61" fill="#787878" stroke="none" stroke-width="1"/>
<g clip-path="url(#c4)">
<ellipse cx="147" cy="120" rx="9" ry="15" fill="#979797" filter="url(#blur3)"/>
</g>
<line x1="166" y1="147.7" x2="175.6" y2="147.7" stroke="#fff" stroke-width="1.6"/>
<text x="0" y="0" font-size="12" text-anchor="middle" fill="#1a1a1a" transform="translate(16.59,57) rotate(-90)">Ngn2 +</text>
<text x="0" y="0" font-size="12" text-anchor="middle" fill="#1a1a1a" transform="translate(30.75,58.2) rotate(-90)">shNC</text>
<text x="0" y="0" font-size="12" text-anchor="middle" fill="#1a1a1a" transform="translate(16.59,121.2) rotate(-90)">Ngn2 +</text>
<text x="0" y="0" font-size="12" text-anchor="middle" fill="#1a1a1a" transform="translate(30.85,123) rotate(-90)">shOlig2</text>
<text x="289.6" y="22.6" font-size="11.9" text-anchor="middle" fill="#1a1a1a">Na<tspan font-size="7.3" dy="-3.6">+</tspan><tspan dy="3.6"> - K</tspan><tspan font-size="7.3" dy="-3.6">+</tspan><tspan dy="3.6"> current</tspan></text>
<text x="0" y="0" font-size="12" text-anchor="middle" fill="#1a1a1a" transform="translate(216.49,57) rotate(-90)">Ngn2 +</text>
<text x="0" y="0" font-size="12" text-anchor="middle" fill="#1a1a1a" transform="translate(231.75,57.9) rotate(-90)">shNC</text>
<text x="0" y="0" font-size="12" text-anchor="middle" fill="#1a1a1a" transform="translate(216.99,128) rotate(-90)">Ngn2 +</text>
<text x="0" y="0" font-size="12" text-anchor="middle" fill="#1a1a1a" transform="translate(232.55,130) rotate(-90)">shOlig2</text>
<path d="M243.6,29.7 L244,29.86 L245,30.55 L246,31.05 L247,31.31 L248,31.64 L249,31.64 L250,31.82 L251,31.8 L252,31.86 L253,31.74 L254,31.85 L255,31.87 L256,31.87 L257,31.74 L258,31.95 L259,31.87 L260,31.87 L261,31.88 L262,31.88 L263,31.93 L264,31.81 L265,31.83 L266,31.92 L267,31.91 L268,31.87 L269,31.86 L270,31.84 L271,31.9 L272,31.98 L273,31.83 L274,32.01 L275,31.96 L276,31.87 L277,31.95 L278,31.8 L279,31.78 L280,31.81 L281,31.87 L282,31.88 L283,31.86 L284,31.91 L285,31.75 L286,31.93 L287,31.8 L288,31.85 L289,31.87 L290,31.82 L291,31.8 L292,31.83 L293,31.9 L294,31.94 L295,31.94 L296,31.83 L297,31.84 L298,31.84 L299,31.93 L300,31.76 L301,31.99 L302,31.87 L303,31.85 L304,31.92 L305,31.97 L306,31.92 L307,31.97 L308,31.91 L309,31.99 L310,31.99 L311,31.89 L312,32 L313,31.91 L314,31.91 L315,31.84 L316,31.88 L317,31.95 L318,31.81 L319,31.95 L320,31.92 L321,31.92 L322,31.75 L323,31.89 L324,31.95 L325,31.85 L326,31.91 L327,31.73 L328,31.95 L329,31.85 L330,31.96 L331,31.77 L332,31.95 L333,31.88 L334,31.96 L335,31.84 L336,31.86 L337,32.06 L338,31.84 L339,31.85 L340,31.88 L339.5,31.9" stroke="#6c6c6c" stroke-width="0.55" fill="none"/>
<path d="M243.6,33.11 L244,33.23 L245,34.05 L246,34.53 L247,34.65 L248,34.78 L249,35.12 L250,35.2 L251,35.24 L252,35.31 L253,35.19 L254,35.26 L255,35.18 L256,35.19 L257,35.36 L258,35.25 L259,35.46 L260,35.31 L261,35.26 L262,35.36 L263,35.43 L264,35.34 L265,35.22 L266,35.33 L267,35.4 L268,35.27 L269,35.25 L270,35.38 L271,35.32 L272,35.23 L273,35.28 L274,35.25 L275,35.33 L276,35.31 L277,35.39 L278,35.36 L279,35.2 L280,35.33 L281,35.37 L282,35.34 L283,35.38 L284,35.27 L285,35.24 L286,35.37 L287,35.23 L288,35.16 L289,35.38 L290,35.26 L291,35.28 L292,35.21 L293,35.21 L294,35.23 L295,35.28 L296,35.33 L297,35.15 L298,35.36 L299,35.22 L300,35.23 L301,35.35 L302,35.3 L303,35.2 L304,35.44 L305,35.25 L306,35.32 L307,35.32 L308,35.41 L309,35.27 L310,35.38 L311,35.25 L312,35.38 L313,35.25 L314,35.28 L315,35.44 L316,35.33 L317,35.31 L318,35.46 L319,35.33 L320,35.25 L321,35.36 L322,35.22 L323,35.39 L324,35.39 L325,35.27 L326,35.26 L327,35.32 L328,35.31 L329,35.24 L330,35.35 L331,35.16 L332,35.28 L333,35.28 L334,35.29 L335,35.33 L336,35.22 L337,35.35 L338,35.29 L339,35.26 L340,35.21 L339.5,35.31" stroke="#6c6c6c" stroke-width="0.55" fill="none"/>
<path d="M243.6,36.51 L244,36.63 L245,37.4 L246,37.75 L247,38.11 L248,38.38 L249,38.51 L250,38.64 L251,38.57 L252,38.56 L253,38.73 L254,38.7 L255,38.77 L256,38.7 L257,38.79 L258,38.76 L259,38.76 L260,38.74 L261,38.74 L262,38.73 L263,38.73 L264,38.78 L265,38.68 L266,38.83 L267,38.7 L268,38.78 L269,38.71 L270,38.7 L271,38.85 L272,38.69 L273,38.62 L274,38.66 L275,38.69 L276,38.86 L277,38.73 L278,38.78 L279,38.64 L280,38.74 L281,38.76 L282,38.84 L283,38.66 L284,38.75 L285,38.73 L286,38.64 L287,38.71 L288,38.69 L289,38.55 L290,38.75 L291,38.75 L292,38.68 L293,38.62 L294,38.82 L295,38.73 L296,38.78 L297,38.81 L298,38.68 L299,38.77 L300,38.7 L301,38.71 L302,38.71 L303,38.71 L304,38.79 L305,38.72 L306,38.7 L307,38.69 L308,38.74 L309,38.65 L310,38.68 L311,38.71 L312,38.67 L313,38.7 L314,38.67 L315,38.85 L316,38.81 L317,38.74 L318,38.71 L319,38.87 L320,38.74 L321,38.71 L322,38.73 L323,38.73 L324,38.81 L325,38.71 L326,38.86 L327,38.65 L328,38.76 L329,38.64 L330,38.84 L331,38.69 L332,38.71 L333,38.78 L334,38.8 L335,38.63 L336,38.69 L337,38.61 L338,38.72 L339,38.71 L340,38.69 L339.5,38.71" stroke="#6c6c6c" stroke-width="0.55" fill="none"/>
<path d="M243.6,39.92 L244,40.07 L245,40.75 L246,41.17 L247,41.55 L248,41.82 L249,41.71 L250,41.93 L251,41.97 L252,42.07 L253,42 L254,42.07 L255,42.02 L256,42.15 L257,42.11 L258,42.1 L259,42.14 L260,42.1 L261,42.01 L262,42.16 L263,42.14 L264,42.11 L265,42.19 L266,42.2 L267,42.04 L268,42.06 L269,42.23 L270,42.22 L271,42.07 L272,42.04 L273,42.07 L274,42.08 L275,42.01 L276,42.12 L277,42.03 L278,42.03 L279,42.18 L280,42.07 L281,42.11 L282,42.16 L283,42.18 L284,42.1 L285,42.12 L286,42.06 L287,42.24 L288,42.16 L289,42.04 L290,42.12 L291,42.17 L292,42.15 L293,42.25 L294,42.21 L295,42.08 L296,42.11 L297,42.03 L298,42.14 L299,42.13 L300,42.31 L301,42.13 L302,41.97 L303,42.07 L304,42.13 L305,42.03 L306,42.06 L307,42.09 L308,42.14 L309,42.11 L310,42.06 L311,42.17 L312,42.08 L313,42.08 L314,42.02 L315,42.06 L316,42.16 L317,42.01 L318,42.11 L319,42.17 L320,42.09 L321,42.14 L322,42.04 L323,42.21 L324,42.2 L325,42.14 L326,42 L327,42.05 L328,42.19 L329,42.24 L330,42.14 L331,42.21 L332,42.08 L333,42.11 L334,42.12 L335,42.15 L336,42.01 L337,42.18 L338,42.21 L339,42.04 L340,42.02 L339.5,42.12" stroke="#6c6c6c" stroke-width="0.55" fill="none"/>
<path d="M243.6,43.32 L244,43.55 L245,44.14 L246,44.46 L247,44.98 L248,45.13 L249,45.22 L250,45.49 L251,45.41 L252,45.39 L253,45.48 L254,45.42 L255,45.45 L256,45.54 L257,45.48 L258,45.49 L259,45.64 L260,45.58 L261,45.58 L262,45.56 L263,45.56 L264,45.63 L265,45.52 L266,45.65 L267,45.46 L268,45.51 L269,45.43 L270,45.5 L271,45.56 L272,45.63 L273,45.48 L274,45.53 L275,45.5 L276,45.47 L277,45.44 L278,45.53 L279,45.4 L280,45.53 L281,45.53 L282,45.48 L283,45.45 L284,45.43 L285,45.66 L286,45.43 L287,45.63 L288,45.57 L289,45.5 L290,45.44 L291,45.6 L292,45.65 L293,45.46 L294,45.5 L295,45.6 L296,45.55 L297,45.66 L298,45.49 L299,45.56 L300,45.44 L301,45.67 L302,45.47 L303,45.37 L304,45.52 L305,45.52 L306,45.66 L307,45.5 L308,45.52 L309,45.57 L310,45.64 L311,45.52 L312,45.6 L313,45.56 L314,45.5 L315,45.53 L316,45.53 L317,45.46 L318,45.61 L319,45.43 L320,45.61 L321,45.59 L322,45.52 L323,45.47 L324,45.51 L325,45.56 L326,45.58 L327,45.55 L328,45.59 L329,45.49 L330,45.54 L331,45.42 L332,45.58 L333,45.54 L334,45.5 L335,45.61 L336,45.57 L337,45.33 L338,45.53 L339,45.42 L340,45.6 L339.5,45.52" stroke="#6c6c6c" stroke-width="0.55" fill="none"/>
<path d="M243.6,46.73 L244,47.11 L245,47.55 L246,48.04 L247,48.31 L248,48.55 L249,48.71 L250,48.84 L251,48.74 L252,48.96 L253,48.81 L254,48.91 L255,48.99 L256,48.96 L257,48.85 L258,48.87 L259,48.89 L260,48.92 L261,49.01 L262,48.84 L263,48.96 L264,48.97 L265,48.97 L266,48.96 L267,49.04 L268,48.97 L269,48.99 L270,48.97 L271,49.06 L272,48.8 L273,49.02 L274,48.91 L275,48.91 L276,48.86 L277,48.8 L278,48.9 L279,48.88 L280,48.97 L281,48.83 L282,49.03 L283,48.95 L284,48.91 L285,48.88 L286,48.88 L287,48.85 L288,48.89 L289,48.93 L290,48.92 L291,48.83 L292,48.91 L293,48.87 L294,48.94 L295,49.06 L296,48.98 L297,48.91 L298,48.82 L299,48.83 L300,48.81 L301,48.98 L302,48.88 L303,48.94 L304,48.89 L305,48.94 L306,49.03 L307,48.88 L308,48.91 L309,48.87 L310,48.99 L311,48.86 L312,48.85 L313,48.83 L314,48.83 L315,48.96 L316,49.11 L317,48.86 L318,49 L319,48.95 L320,48.85 L321,48.91 L322,48.91 L323,48.88 L324,49.07 L325,48.8 L326,48.96 L327,48.95 L328,48.89 L329,48.94 L330,48.99 L331,48.94 L332,48.96 L333,48.98 L334,48.79 L335,49.03 L336,49.09 L337,49 L338,49 L339,48.83 L340,48.92 L339.5,48.93" stroke="#6c6c6c" stroke-width="0.55" fill="none"/>
<path d="M243.6,50.14 L244,50.28 L245,50.96 L246,51.51 L247,51.68 L248,51.92 L249,51.93 L250,52.14 L251,52.22 L252,52.21 L253,52.23 L254,52.43 L255,52.23 L256,52.25 L257,52.27 L258,52.41 L259,52.48 L260,52.36 L261,52.29 L262,52.31 L263,52.41 L264,52.27 L265,52.44 L266,52.44 L267,52.34 L268,52.38 L269,52.39 L270,52.45 L271,52.26 L272,52.42 L273,52.31 L274,52.28 L275,52.34 L276,52.32 L277,52.27 L278,52.23 L279,52.27 L280,52.44 L281,52.47 L282,52.38 L283,52.42 L284,52.3 L285,52.33 L286,52.36 L287,52.26 L288,52.27 L289,52.34 L290,52.32 L291,52.26 L292,52.36 L293,52.32 L294,52.41 L295,52.34 L296,52.32 L297,52.35 L298,52.33 L299,52.29 L300,52.31 L301,52.39 L302,52.38 L303,52.43 L304,52.22 L305,52.31 L306,52.31 L307,52.35 L308,52.31 L309,52.3 L310,52.39 L311,52.35 L312,52.26 L313,52.43 L314,52.41 L315,52.3 L316,52.4 L317,52.29 L318,52.42 L319,52.32 L320,52.28 L321,52.31 L322,52.28 L323,52.35 L324,52.35 L325,52.34 L326,52.3 L327,52.08 L328,52.34 L329,52.2 L330,52.35 L331,52.42 L332,52.36 L333,52.31 L334,52.32 L335,52.33 L336,52.3 L337,52.3 L338,52.27 L339,52.42 L340,52.34 L339.5,52.34" stroke="#6c6c6c" stroke-width="0.55" fill="none"/>
<path d="M243.6,53.54 L244,53.81 L245,54.39 L246,54.85 L247,55.13 L248,55.37 L249,55.53 L250,55.58 L251,55.57 L252,55.61 L253,55.81 L254,55.69 L255,55.7 L256,55.83 L257,55.81 L258,55.77 L259,55.71 L260,55.91 L261,55.77 L262,55.78 L263,55.73 L264,55.64 L265,55.65 L266,55.77 L267,55.77 L268,55.73 L269,55.66 L270,55.64 L271,55.72 L272,55.64 L273,55.81 L274,55.82 L275,55.94 L276,55.81 L277,55.7 L278,55.68 L279,55.5 L280,55.7 L281,55.73 L282,55.81 L283,55.79 L284,55.78 L285,55.76 L286,55.79 L287,55.85 L288,55.67 L289,55.71 L290,55.65 L291,55.86 L292,55.83 L293,55.8 L294,55.66 L295,55.76 L296,55.73 L297,55.75 L298,55.73 L299,55.78 L300,55.72 L301,55.8 L302,55.76 L303,55.72 L304,55.74 L305,55.71 L306,55.8 L307,55.72 L308,55.76 L309,55.72 L310,55.64 L311,55.81 L312,55.67 L313,55.79 L314,55.77 L315,55.63 L316,55.68 L317,55.71 L318,55.69 L319,55.66 L320,55.8 L321,55.73 L322,55.77 L323,55.71 L324,55.77 L325,55.69 L326,55.74 L327,55.78 L328,55.75 L329,55.71 L330,55.67 L331,55.76 L332,55.77 L333,55.73 L334,55.69 L335,55.78 L336,55.92 L337,55.72 L338,55.77 L339,55.77 L340,55.56 L339.5,55.74" stroke="#6c6c6c" stroke-width="0.55" fill="none"/>
<path d="M243.6,56.95 L244,57.16 L245,57.76 L246,58.35 L247,58.53 L248,58.69 L249,58.86 L250,58.98 L251,58.99 L252,59.06 L253,59 L254,59.1 L255,59.18 L256,59.27 L257,59.19 L258,59.16 L259,59.23 L260,59.22 L261,59.26 L262,59.22 L263,59.14 L264,59.17 L265,59.16 L266,59.17 L267,59.16 L268,59.1 L269,59 L270,59.1 L271,59.01 L272,59.15 L273,59.15 L274,59.03 L275,59.2 L276,59.21 L277,59.16 L278,59.27 L279,59.28 L280,59.07 L281,59.22 L282,59.18 L283,59.18 L284,59.22 L285,59.1 L286,59.11 L287,59.09 L288,59.1 L289,59.14 L290,59.05 L291,59.08 L292,59.19 L293,59.15 L294,59.18 L295,59.02 L296,59.1 L297,59.11 L298,59.15 L299,59.11 L300,59.22 L301,59.15 L302,59.15 L303,59.15 L304,59.2 L305,59.12 L306,59.23 L307,59.18 L308,59.16 L309,59.15 L310,59.19 L311,59.22 L312,59.22 L313,59.18 L314,59.21 L315,59.16 L316,59.24 L317,59.15 L318,59 L319,59.24 L320,59.16 L321,59.07 L322,59.14 L323,59.09 L324,59.3 L325,59.18 L326,59.04 L327,59.19 L328,59.12 L329,59.28 L330,59.08 L331,58.99 L332,59.15 L333,59.13 L334,59.12 L335,59 L336,59.18 L337,59.27 L338,59.02 L339,59.23 L340,59.11 L339.5,59.15" stroke="#6c6c6c" stroke-width="0.55" fill="none"/>
<path d="M243.6,60.36 L244,60.72 L245,61.25 L246,61.64 L247,62.03 L248,62.19 L249,62.24 L250,62.42 L251,62.4 L252,62.35 L253,62.64 L254,62.5 L255,62.49 L256,62.56 L257,62.44 L258,62.45 L259,62.52 L260,62.52 L261,62.56 L262,62.63 L263,62.52 L264,62.59 L265,62.6 L266,62.48 L267,62.57 L268,62.49 L269,62.63 L270,62.59 L271,62.56 L272,62.46 L273,62.56 L274,62.5 L275,62.61 L276,62.55 L277,62.5 L278,62.62 L279,62.61 L280,62.51 L281,62.64 L282,62.54 L283,62.53 L284,62.56 L285,62.5 L286,62.53 L287,62.55 L288,62.66 L289,62.66 L290,62.54 L291,62.67 L292,62.55 L293,62.58 L294,62.62 L295,62.58 L296,62.73 L297,62.57 L298,62.47 L299,62.65 L300,62.53 L301,62.53 L302,62.35 L303,62.63 L304,62.61 L305,62.61 L306,62.62 L307,62.67 L308,62.55 L309,62.62 L310,62.5 L311,62.53 L312,62.63 L313,62.58 L314,62.46 L315,62.58 L316,62.54 L317,62.5 L318,62.59 L319,62.53 L320,62.45 L321,62.48 L322,62.68 L323,62.45 L324,62.57 L325,62.6 L326,62.6 L327,62.47 L328,62.53 L329,62.57 L330,62.61 L331,62.51 L332,62.47 L333,62.63 L334,62.63 L335,62.58 L336,62.51 L337,62.58 L338,62.56 L339,62.61 L340,62.47 L339.5,62.56" stroke="#6c6c6c" stroke-width="0.55" fill="none"/>
<path d="M243.6,63.76 L244,63.97 L245,64.61 L246,64.99 L247,65.38 L248,65.56 L249,65.66 L250,65.81 L251,65.74 L252,65.88 L253,65.94 L254,65.95 L255,66.01 L256,65.86 L257,65.85 L258,65.97 L259,65.99 L260,66.11 L261,66 L262,65.9 L263,66.02 L264,65.9 L265,65.86 L266,66.14 L267,65.99 L268,66.01 L269,66 L270,66.09 L271,65.98 L272,66.05 L273,65.89 L274,65.87 L275,66.06 L276,66.07 L277,66 L278,65.98 L279,65.97 L280,65.91 L281,66.07 L282,66.01 L283,66 L284,65.99 L285,66.04 L286,66 L287,66.01 L288,65.88 L289,66 L290,66.12 L291,65.93 L292,65.95 L293,66.02 L294,66.03 L295,66.01 L296,65.85 L297,66 L298,65.88 L299,65.9 L300,66 L301,65.94 L302,66.02 L303,66.18 L304,66.02 L305,66.01 L306,65.9 L307,65.92 L308,65.89 L309,65.93 L310,65.89 L311,65.92 L312,65.95 L313,65.89 L314,65.86 L315,65.87 L316,65.99 L317,65.97 L318,66.03 L319,66.04 L320,65.94 L321,66.01 L322,65.86 L323,66.12 L324,66.05 L325,65.95 L326,65.88 L327,65.99 L328,65.83 L329,65.91 L330,66.01 L331,65.97 L332,65.93 L333,66.03 L334,65.89 L335,65.98 L336,65.93 L337,65.9 L338,65.99 L339,65.89 L340,66.1 L339.5,65.96" stroke="#6c6c6c" stroke-width="0.55" fill="none"/>
<path d="M243.6,67.17 L244,67.33 L245,68.17 L246,68.39 L247,68.81 L248,68.88 L249,69 L250,69.2 L251,69.29 L252,69.2 L253,69.4 L254,69.28 L255,69.35 L256,69.38 L257,69.4 L258,69.24 L259,69.48 L260,69.4 L261,69.34 L262,69.3 L263,69.25 L264,69.27 L265,69.41 L266,69.34 L267,69.29 L268,69.33 L269,69.48 L270,69.35 L271,69.33 L272,69.46 L273,69.4 L274,69.37 L275,69.33 L276,69.26 L277,69.29 L278,69.34 L279,69.35 L280,69.39 L281,69.41 L282,69.38 L283,69.38 L284,69.3 L285,69.22 L286,69.33 L287,69.3 L288,69.32 L289,69.35 L290,69.28 L291,69.29 L292,69.36 L293,69.38 L294,69.32 L295,69.4 L296,69.35 L297,69.3 L298,69.37 L299,69.5 L300,69.32 L301,69.45 L302,69.47 L303,69.47 L304,69.31 L305,69.51 L306,69.38 L307,69.35 L308,69.35 L309,69.41 L310,69.37 L311,69.36 L312,69.46 L313,69.32 L314,69.3 L315,69.42 L316,69.42 L317,69.45 L318,69.29 L319,69.44 L320,69.4 L321,69.49 L322,69.28 L323,69.38 L324,69.35 L325,69.26 L326,69.32 L327,69.45 L328,69.34 L329,69.32 L330,69.43 L331,69.44 L332,69.44 L333,69.31 L334,69.36 L335,69.44 L336,69.32 L337,69.32 L338,69.43 L339,69.48 L340,69.29 L339.5,69.37" stroke="#6c6c6c" stroke-width="0.55" fill="none"/>
<path d="M243.6,70.58 L244,70.59 L245,71.33 L246,71.81 L247,72.16 L248,72.41 L249,72.49 L250,72.54 L251,72.66 L252,72.63 L253,72.72 L254,72.69 L255,72.94 L256,72.82 L257,72.71 L258,72.7 L259,72.74 L260,72.66 L261,72.72 L262,72.72 L263,72.84 L264,72.74 L265,72.72 L266,72.68 L267,72.69 L268,72.77 L269,72.76 L270,72.85 L271,72.73 L272,72.85 L273,72.79 L274,72.77 L275,72.63 L276,72.68 L277,72.83 L278,72.87 L279,72.79 L280,72.83 L281,72.75 L282,72.75 L283,72.73 L284,72.84 L285,72.8 L286,72.76 L287,72.75 L288,72.81 L289,72.8 L290,72.72 L291,72.9 L292,72.79 L293,72.78 L294,72.88 L295,72.85 L296,72.77 L297,72.81 L298,72.7 L299,72.73 L300,72.62 L301,72.86 L302,72.64 L303,72.82 L304,72.72 L305,72.71 L306,72.76 L307,72.79 L308,72.82 L309,72.9 L310,72.8 L311,72.84 L312,72.73 L313,72.82 L314,72.79 L315,72.74 L316,72.77 L317,72.77 L318,72.79 L319,72.8 L320,72.74 L321,72.72 L322,72.83 L323,72.66 L324,72.73 L325,72.88 L326,72.59 L327,72.73 L328,72.82 L329,72.66 L330,72.96 L331,72.59 L332,72.88 L333,72.88 L334,72.84 L335,72.76 L336,72.8 L337,72.71 L338,72.83 L339,72.7 L340,72.76 L339.5,72.78" stroke="#6c6c6c" stroke-width="0.55" fill="none"/>
<path d="M243.6,73.98 L244,74.25 L245,74.76 L246,75.26 L247,75.59 L248,75.68 L249,75.99 L250,76.02 L251,75.95 L252,76.1 L253,76.07 L254,76.1 L255,76.16 L256,76.12 L257,76.24 L258,76.12 L259,76.25 L260,76.17 L261,76.24 L262,76.14 L263,76.14 L264,76.1 L265,76.22 L266,76.25 L267,76.33 L268,76.27 L269,76.2 L270,76.17 L271,76.21 L272,76.18 L273,76.28 L274,76.25 L275,76.12 L276,76.13 L277,76.28 L278,76.2 L279,76.17 L280,76.26 L281,76.15 L282,76.16 L283,76.15 L284,76.04 L285,76.24 L286,76.1 L287,76.14 L288,76.13 L289,76.23 L290,76.18 L291,76.18 L292,76.06 L293,76.18 L294,76.08 L295,76.2 L296,76.21 L297,76.18 L298,76.32 L299,76.22 L300,76.22 L301,76.19 L302,76.17 L303,76.25 L304,76.26 L305,76.09 L306,76.26 L307,76.22 L308,76.25 L309,76.21 L310,76.09 L311,76.1 L312,76.31 L313,76.2 L314,76.08 L315,76.21 L316,76.16 L317,76.05 L318,76.02 L319,76.07 L320,76.2 L321,76.18 L322,76.16 L323,76.2 L324,76.22 L325,76.03 L326,76.16 L327,76.12 L328,76.09 L329,76.14 L330,76.17 L331,76.16 L332,76.08 L333,76.15 L334,76.32 L335,76.11 L336,76.06 L337,76.2 L338,76.22 L339,76.21 L340,76.1 L339.5,76.18" stroke="#6c6c6c" stroke-width="0.55" fill="none"/>
<path d="M243.6,77.39 L244,77.66 L245,78.19 L246,78.61 L247,78.94 L248,79.18 L249,79.37 L250,79.45 L251,79.46 L252,79.57 L253,79.54 L254,79.61 L255,79.46 L256,79.46 L257,79.63 L258,79.48 L259,79.56 L260,79.58 L261,79.55 L262,79.55 L263,79.68 L264,79.41 L265,79.65 L266,79.75 L267,79.59 L268,79.59 L269,79.64 L270,79.72 L271,79.5 L272,79.59 L273,79.57 L274,79.63 L275,79.6 L276,79.63 L277,79.56 L278,79.59 L279,79.54 L280,79.54 L281,79.58 L282,79.58 L283,79.51 L284,79.7 L285,79.58 L286,79.49 L287,79.66 L288,79.54 L289,79.62 L290,79.59 L291,79.61 L292,79.6 L293,79.55 L294,79.59 L295,79.73 L296,79.43 L297,79.59 L298,79.62 L299,79.51 L300,79.49 L301,79.74 L302,79.56 L303,79.73 L304,79.63 L305,79.59 L306,79.62 L307,79.63 L308,79.67 L309,79.62 L310,79.6 L311,79.6 L312,79.68 L313,79.64 L314,79.52 L315,79.54 L316,79.61 L317,79.54 L318,79.56 L319,79.52 L320,79.57 L321,79.62 L322,79.66 L323,79.59 L324,79.73 L325,79.58 L326,79.81 L327,79.66 L328,79.62 L329,79.55 L330,79.39 L331,79.58 L332,79.6 L333,79.72 L334,79.49 L335,79.72 L336,79.57 L337,79.64 L338,79.41 L339,79.6 L340,79.56 L339.5,79.59" stroke="#6c6c6c" stroke-width="0.55" fill="none"/>
<path d="M243.6,80.79 L244,81.04 L245,81.66 L246,82.02 L247,82.46 L248,82.64 L249,82.76 L250,82.88 L251,82.95 L252,82.91 L253,82.84 L254,82.86 L255,83.06 L256,83.03 L257,82.99 L258,82.96 L259,82.99 L260,82.99 L261,82.97 L262,82.94 L263,83.14 L264,83.01 L265,82.95 L266,82.9 L267,82.94 L268,83.04 L269,83.05 L270,82.98 L271,83 L272,82.97 L273,82.92 L274,83.08 L275,83.02 L276,83.17 L277,82.94 L278,82.98 L279,83.06 L280,82.98 L281,82.9 L282,82.93 L283,83 L284,83.02 L285,82.99 L286,83.06 L287,83.06 L288,83.02 L289,83 L290,82.98 L291,83.03 L292,83.06 L293,83 L294,83.03 L295,82.97 L296,82.89 L297,82.92 L298,83.05 L299,83.03 L300,83.11 L301,83 L302,83.05 L303,83.09 L304,83.06 L305,82.95 L306,82.98 L307,83 L308,82.92 L309,83.03 L310,83.07 L311,82.96 L312,83.13 L313,82.97 L314,82.98 L315,82.98 L316,82.94 L317,83.02 L318,83 L319,83.11 L320,83.04 L321,83.03 L322,82.98 L323,82.89 L324,82.99 L325,82.93 L326,83.06 L327,82.99 L328,83.11 L329,83.05 L330,83.05 L331,83.01 L332,83.01 L333,83.04 L334,83.06 L335,82.94 L336,83.03 L337,83.18 L338,82.99 L339,82.98 L340,82.95 L339.5,82.99" stroke="#6c6c6c" stroke-width="0.55" fill="none"/>
<path d="M243.6,84.2 L244,84.3 L245,85.14 L246,85.51 L247,85.82 L248,86.13 L249,86.3 L250,86.16 L251,86.35 L252,86.36 L253,86.37 L254,86.4 L255,86.37 L256,86.49 L257,86.43 L258,86.42 L259,86.48 L260,86.46 L261,86.43 L262,86.42 L263,86.52 L264,86.44 L265,86.39 L266,86.34 L267,86.38 L268,86.33 L269,86.41 L270,86.42 L271,86.26 L272,86.4 L273,86.45 L274,86.41 L275,86.33 L276,86.49 L277,86.35 L278,86.31 L279,86.32 L280,86.4 L281,86.47 L282,86.48 L283,86.41 L284,86.32 L285,86.35 L286,86.34 L287,86.39 L288,86.28 L289,86.41 L290,86.45 L291,86.39 L292,86.43 L293,86.33 L294,86.3 L295,86.36 L296,86.48 L297,86.47 L298,86.37 L299,86.48 L300,86.38 L301,86.51 L302,86.43 L303,86.37 L304,86.46 L305,86.35 L306,86.33 L307,86.3 L308,86.42 L309,86.4 L310,86.39 L311,86.37 L312,86.5 L313,86.37 L314,86.35 L315,86.49 L316,86.5 L317,86.42 L318,86.28 L319,86.36 L320,86.44 L321,86.4 L322,86.51 L323,86.3 L324,86.45 L325,86.36 L326,86.49 L327,86.39 L328,86.47 L329,86.35 L330,86.3 L331,86.32 L332,86.36 L333,86.33 L334,86.48 L335,86.49 L336,86.42 L337,86.33 L338,86.39 L339,86.35 L340,86.5 L339.5,86.4" stroke="#6c6c6c" stroke-width="0.55" fill="none"/>
<line x1="244" y1="90" x2="339.5" y2="90" stroke="#c8c8c8" stroke-width="1.5"/>
<line x1="236.4" y1="90" x2="243.4" y2="90" stroke="#666" stroke-width="1.1"/>
<line x1="243.4" y1="22" x2="243.4" y2="90" stroke="#777" stroke-width="0.8"/>
<line x1="339.5" y1="90" x2="346.5" y2="90" stroke="#777" stroke-width="1.2"/>
<path d="M339.5,86.4 L346.5,86.4 L346.5,88.6 L342,89.4 L340.5,91 L339.5,91 Z" fill="#5a5a5a"/>
<line x1="339.4" y1="31.5" x2="339.4" y2="101.5" stroke="#777" stroke-width="0.7"/>
<line x1="339.5" y1="90" x2="339.5" y2="102" stroke="#666" stroke-width="0.8"/>
<path d="M328,104.6 L343.9,104.6 L343.9,94.5" stroke="#666" stroke-width="1" fill="none"/>
<text x="345.5" y="101.9" font-size="8.3" fill="#1a1a1a">2 nA</text>
<text x="337.5" y="111.7" font-size="8.2" text-anchor="middle" fill="#1a1a1a">50 ms</text>
<path d="M243.7,113.6 L244,111.84 L245,112.11 L246,112.18 L247,112.12 L248,112.38 L249,112.41 L250,112.65 L251,112.67 L252,112.6 L253,112.68 L254,112.94 L255,112.67 L256,112.69 L257,112.79 L258,112.75 L259,112.8 L260,112.92 L261,113.08 L262,112.66 L263,112.88 L264,112.9 L265,112.88 L266,112.88 L267,112.86 L268,113.02 L269,112.84 L270,112.88 L271,112.89 L272,112.9 L273,112.86 L274,112.99 L275,112.86 L276,112.87 L277,112.84 L278,112.71 L279,112.72 L280,112.68 L281,112.81 L282,112.69 L283,112.63 L284,112.77 L285,112.78 L286,112.49 L287,112.88 L288,112.67 L289,112.63 L290,112.75 L291,112.61 L292,112.51 L293,112.83 L294,112.41 L295,112.51 L296,112.61 L297,112.36 L298,112.46 L299,112.5 L300,112.72 L301,112.31 L302,112.4 L303,112.47 L304,112.38 L305,112.22 L306,112.4 L307,112.35 L308,112.38 L309,112.46 L310,112.44 L311,112.36 L312,112.34 L313,112.17 L314,112.28 L315,112.33 L316,112.25 L317,112.32 L318,112.21 L319,112.5 L320,112.58 L321,112.28 L322,112.38 L323,112.32 L324,112.51 L325,112.42 L326,112.39 L327,112.37 L328,112.43 L329,112.31 L330,112.52 L331,112.37 L332,112.54 L333,112.51 L334,112.65 L335,112.53 L336,112.68 L337,112.46 L338,112.67 L339,112.59 L339.5,112.6" stroke="#3f93a0" stroke-width="0.7" fill="none"/>
<path d="M243.7,115.6 L244,113.82 L245,114.04 L246,114.3 L247,114.06 L248,114.43 L249,114.27 L250,114.64 L251,114.29 L252,114.42 L253,114.36 L254,114.77 L255,114.42 L256,114.6 L257,114.53 L258,114.38 L259,114.55 L260,114.68 L261,114.58 L262,114.71 L263,114.56 L264,114.6 L265,114.55 L266,114.64 L267,114.83 L268,114.64 L269,114.62 L270,114.53 L271,114.51 L272,114.78 L273,114.47 L274,114.49 L275,114.59 L276,114.55 L277,114.83 L278,114.32 L279,114.64 L280,114.69 L281,114.47 L282,114.52 L283,114.65 L284,114.8 L285,114.49 L286,114.41 L287,114.72 L288,114.78 L289,114.56 L290,114.33 L291,114.77 L292,114.58 L293,114.73 L294,114.59 L295,114.55 L296,114.55 L297,114.78 L298,114.77 L299,114.34 L300,114.49 L301,114.81 L302,114.56 L303,114.44 L304,114.6 L305,114.59 L306,114.59 L307,114.54 L308,114.56 L309,114.55 L310,114.64 L311,114.5 L312,114.57 L313,114.58 L314,114.76 L315,114.64 L316,114.59 L317,114.66 L318,114.65 L319,114.73 L320,114.66 L321,114.82 L322,114.76 L323,114.6 L324,114.55 L325,114.71 L326,114.66 L327,114.59 L328,114.42 L329,114.38 L330,114.64 L331,114.69 L332,114.7 L333,114.45 L334,114.72 L335,114.54 L336,114.65 L337,114.65 L338,114.5 L339,114.53 L339.5,114.6" stroke="#5aa7b3" stroke-width="0.7" fill="none"/>
<path d="M243.7,117.6 L244,115.55 L245,115.92 L246,115.97 L247,116.36 L248,116.4 L249,116.56 L250,116.53 L251,116.45 L252,116.59 L253,116.51 L254,116.64 L255,116.62 L256,116.47 L257,116.59 L258,116.6 L259,116.56 L260,116.7 L261,116.8 L262,116.55 L263,116.56 L264,116.33 L265,116.58 L266,116.55 L267,116.34 L268,116.63 L269,116.67 L270,116.51 L271,116.56 L272,116.48 L273,116.69 L274,116.42 L275,116.56 L276,116.83 L277,116.61 L278,116.66 L279,116.58 L280,116.46 L281,116.6 L282,116.65 L283,116.48 L284,116.64 L285,116.75 L286,116.73 L287,116.41 L288,116.48 L289,116.41 L290,116.73 L291,116.67 L292,116.68 L293,116.49 L294,116.46 L295,116.61 L296,116.61 L297,116.5 L298,116.62 L299,116.68 L300,116.63 L301,116.48 L302,116.35 L303,116.57 L304,116.62 L305,116.57 L306,116.55 L307,116.52 L308,116.69 L309,116.59 L310,116.61 L311,116.48 L312,116.53 L313,116.62 L314,116.48 L315,116.45 L316,116.56 L317,116.74 L318,116.62 L319,116.78 L320,116.58 L321,116.56 L322,116.43 L323,116.53 L324,116.77 L325,116.64 L326,116.69 L327,116.68 L328,116.6 L329,116.58 L330,116.61 L331,116.68 L332,116.65 L333,116.66 L334,116.62 L335,116.51 L336,116.57 L337,116.49 L338,116.72 L339,116.35 L339.5,116.6" stroke="#3f93a0" stroke-width="0.7" fill="none"/>
<path d="M243.7,119.6 L244,117.77 L245,118.33 L246,118.19 L247,118.23 L248,118.47 L249,118.7 L250,118.59 L251,118.73 L252,118.71 L253,118.68 L254,119.14 L255,118.79 L256,118.74 L257,118.76 L258,118.88 L259,118.9 L260,118.95 L261,118.89 L262,118.71 L263,118.95 L264,118.85 L265,118.86 L266,118.72 L267,118.83 L268,118.81 L269,118.89 L270,118.72 L271,118.9 L272,118.9 L273,118.75 L274,118.8 L275,118.76 L276,118.96 L277,118.54 L278,118.79 L279,118.62 L280,118.75 L281,118.89 L282,118.7 L283,118.77 L284,118.64 L285,118.95 L286,118.81 L287,118.82 L288,118.5 L289,118.51 L290,118.75 L291,118.58 L292,118.55 L293,118.6 L294,118.39 L295,118.62 L296,118.51 L297,118.54 L298,118.39 L299,118.51 L300,118.35 L301,118.53 L302,118.54 L303,118.5 L304,118.43 L305,118.44 L306,118.02 L307,118.44 L308,118.3 L309,118.33 L310,118.28 L311,118.14 L312,118.24 L313,118.38 L314,118.47 L315,118.23 L316,118.19 L317,118.48 L318,118.2 L319,118.56 L320,118.32 L321,118.22 L322,118.45 L323,118.55 L324,118.18 L325,118.56 L326,118.35 L327,118.57 L328,118.36 L329,118.24 L330,118.5 L331,118.57 L332,118.73 L333,118.7 L334,118.6 L335,118.51 L336,118.49 L337,118.54 L338,118.5 L339,118.58 L339.5,118.6" stroke="#5aa7b3" stroke-width="0.7" fill="none"/>
<path d="M243.7,121.6 L244,119.49 L245,120.05 L246,120.19 L247,120.61 L248,120.48 L249,120.39 L250,120.56 L251,120.38 L252,120.47 L253,120.34 L254,120.74 L255,120.65 L256,120.44 L257,120.58 L258,120.71 L259,120.65 L260,120.64 L261,120.49 L262,120.52 L263,120.61 L264,120.71 L265,120.5 L266,120.46 L267,120.74 L268,120.49 L269,120.73 L270,120.63 L271,120.71 L272,120.81 L273,120.68 L274,120.69 L275,120.49 L276,120.52 L277,120.68 L278,120.78 L279,120.77 L280,120.88 L281,120.64 L282,120.62 L283,120.72 L284,120.6 L285,120.59 L286,120.47 L287,120.72 L288,120.47 L289,120.66 L290,120.43 L291,120.73 L292,120.48 L293,120.7 L294,120.41 L295,120.55 L296,120.74 L297,120.5 L298,120.61 L299,120.54 L300,120.32 L301,120.64 L302,120.65 L303,120.47 L304,120.67 L305,120.5 L306,120.48 L307,120.6 L308,120.52 L309,120.88 L310,120.41 L311,120.69 L312,120.72 L313,120.36 L314,120.39 L315,120.67 L316,120.54 L317,120.65 L318,120.74 L319,120.56 L320,120.47 L321,120.27 L322,120.62 L323,120.49 L324,120.64 L325,120.63 L326,120.43 L327,120.81 L328,120.73 L329,120.7 L330,120.46 L331,120.55 L332,120.53 L333,120.55 L334,120.47 L335,120.65 L336,120.63 L337,120.64 L338,120.54 L339,120.75 L339.5,120.6" stroke="#3f93a0" stroke-width="0.7" fill="none"/>
<path d="M243.7,123.5 L244,121.72 L245,121.6 L246,122.01 L247,122.2 L248,122.4 L249,122.31 L250,122.36 L251,122.34 L252,122.52 L253,122.41 L254,122.4 L255,122.39 L256,122.55 L257,122.43 L258,122.29 L259,122.57 L260,122.41 L261,122.54 L262,122.54 L263,122.64 L264,122.62 L265,122.43 L266,122.48 L267,122.34 L268,122.7 L269,122.55 L270,122.67 L271,122.46 L272,122.25 L273,122.68 L274,122.51 L275,122.52 L276,122.51 L277,122.58 L278,122.56 L279,122.31 L280,122.63 L281,122.44 L282,122.44 L283,122.71 L284,122.61 L285,122.46 L286,122.28 L287,122.52 L288,122.56 L289,122.49 L290,122.35 L291,122.41 L292,122.35 L293,122.53 L294,122.6 L295,122.62 L296,122.41 L297,122.53 L298,122.57 L299,122.44 L300,122.48 L301,122.75 L302,122.52 L303,122.61 L304,122.45 L305,122.51 L306,122.29 L307,122.5 L308,122.64 L309,122.75 L310,122.64 L311,122.58 L312,122.51 L313,122.43 L314,122.48 L315,122.57 L316,122.41 L317,122.61 L318,122.38 L319,122.29 L320,122.38 L321,122.3 L322,122.34 L323,122.64 L324,122.48 L325,122.53 L326,122.64 L327,122.65 L328,122.44 L329,122.66 L330,122.55 L331,122.5 L332,122.55 L333,122.33 L334,122.41 L335,122.49 L336,122.57 L337,122.46 L338,122.48 L339,122.62 L339.5,122.5" stroke="#5aa7b3" stroke-width="0.7" fill="none"/>
<path d="M243.7,125.3 L244,123.67 L245,123.84 L246,124.08 L247,124.02 L248,124.13 L249,124.29 L250,124.27 L251,124.3 L252,124.6 L253,124.41 L254,124.34 L255,124.54 L256,124.72 L257,124.53 L258,124.68 L259,124.49 L260,124.5 L261,124.49 L262,124.56 L263,124.81 L264,124.45 L265,124.79 L266,124.48 L267,124.57 L268,124.7 L269,124.67 L270,124.63 L271,124.39 L272,124.63 L273,124.46 L274,124.88 L275,124.54 L276,124.58 L277,124.4 L278,124.47 L279,124.36 L280,124.62 L281,124.46 L282,124.54 L283,124.37 L284,124.38 L285,124.57 L286,124.28 L287,124.17 L288,124.41 L289,124.21 L290,124.27 L291,124.41 L292,124.18 L293,124.37 L294,124.16 L295,124.4 L296,124.36 L297,124.13 L298,124.14 L299,124.05 L300,124.16 L301,124.25 L302,123.93 L303,124.2 L304,123.91 L305,123.96 L306,123.83 L307,124.29 L308,124.04 L309,124.05 L310,123.93 L311,124.14 L312,123.75 L313,124.01 L314,124.27 L315,123.95 L316,124 L317,124.08 L318,123.91 L319,124.02 L320,124.13 L321,124.05 L322,124.08 L323,124 L324,124.09 L325,124.07 L326,124.26 L327,124.18 L328,124.08 L329,123.83 L330,124.23 L331,124.25 L332,124.07 L333,123.96 L334,124.08 L335,124.35 L336,124.13 L337,124.22 L338,124.32 L339,124.46 L339.5,124.3" stroke="#3f93a0" stroke-width="0.7" fill="none"/>
<path d="M243.7,127 L244,125.2 L245,125.41 L246,125.52 L247,125.9 L248,125.92 L249,125.84 L250,125.72 L251,125.83 L252,126.01 L253,125.87 L254,126.08 L255,126.02 L256,126.02 L257,126.07 L258,126.05 L259,125.89 L260,125.96 L261,126.28 L262,125.85 L263,125.94 L264,126.13 L265,125.98 L266,125.9 L267,125.84 L268,126.06 L269,126.12 L270,126.17 L271,126.01 L272,126.13 L273,125.88 L274,126.02 L275,125.92 L276,126.02 L277,126.09 L278,126.13 L279,125.88 L280,126.15 L281,125.94 L282,125.88 L283,125.98 L284,125.82 L285,126 L286,126.03 L287,125.98 L288,126.06 L289,125.96 L290,126 L291,125.83 L292,126.01 L293,125.9 L294,125.95 L295,125.99 L296,126.02 L297,125.8 L298,125.81 L299,125.96 L300,126.06 L301,126.04 L302,126.11 L303,126.16 L304,126.06 L305,126 L306,125.88 L307,125.89 L308,125.94 L309,126.03 L310,126.03 L311,126 L312,125.98 L313,126.08 L314,126.02 L315,126.04 L316,126.04 L317,125.93 L318,125.88 L319,126.06 L320,126.05 L321,125.97 L322,125.95 L323,126.27 L324,125.91 L325,125.97 L326,126.03 L327,125.86 L328,126.01 L329,126.22 L330,126.11 L331,126.08 L332,126.07 L333,126.01 L334,126.12 L335,125.98 L336,125.95 L337,126.01 L338,126.11 L339,126.04 L339.5,126" stroke="#5aa7b3" stroke-width="0.7" fill="none"/>
<path d="M243.7,128.6 L244,126.88 L245,126.78 L246,127.33 L247,127.59 L248,127.55 L249,127.41 L250,127.39 L251,127.56 L252,127.43 L253,127.65 L254,127.51 L255,127.69 L256,127.75 L257,127.35 L258,127.63 L259,127.51 L260,127.43 L261,127.52 L262,127.57 L263,127.72 L264,127.42 L265,127.73 L266,127.84 L267,127.67 L268,127.67 L269,127.6 L270,127.46 L271,127.66 L272,127.65 L273,127.69 L274,127.91 L275,127.69 L276,127.65 L277,127.79 L278,127.44 L279,127.46 L280,127.55 L281,127.52 L282,127.68 L283,127.56 L284,127.81 L285,127.78 L286,127.69 L287,127.55 L288,127.67 L289,127.7 L290,127.47 L291,127.64 L292,127.68 L293,127.63 L294,127.79 L295,127.75 L296,127.5 L297,127.61 L298,127.5 L299,127.67 L300,127.5 L301,127.71 L302,127.65 L303,127.72 L304,127.58 L305,127.43 L306,127.81 L307,127.58 L308,127.77 L309,127.65 L310,127.68 L311,127.82 L312,127.64 L313,127.77 L314,127.42 L315,127.7 L316,127.57 L317,127.58 L318,127.6 L319,127.64 L320,127.8 L321,127.38 L322,127.61 L323,127.51 L324,127.74 L325,127.55 L326,127.65 L327,127.55 L328,127.68 L329,127.72 L330,127.55 L331,127.61 L332,127.43 L333,127.64 L334,127.7 L335,127.53 L336,127.73 L337,127.35 L338,127.38 L339,127.43 L339.5,127.6" stroke="#3f93a0" stroke-width="0.7" fill="none"/>
<path d="M243.7,130.1 L244,128.24 L245,128.55 L246,128.72 L247,128.86 L248,129.06 L249,128.99 L250,128.96 L251,129.01 L252,129.45 L253,128.95 L254,129.24 L255,129.46 L256,129.36 L257,129.22 L258,129.33 L259,129.45 L260,129.5 L261,129.26 L262,129.47 L263,129.42 L264,129.52 L265,129.56 L266,129.36 L267,129.23 L268,129.45 L269,129.61 L270,129.48 L271,129.42 L272,129.68 L273,129.26 L274,129.48 L275,129.3 L276,129.36 L277,129.35 L278,129.51 L279,129.2 L280,129.24 L281,129.1 L282,129.33 L283,129.2 L284,129.29 L285,129.09 L286,129.16 L287,129.31 L288,129.14 L289,129.22 L290,129.19 L291,129.06 L292,128.9 L293,129.18 L294,129.06 L295,129.14 L296,128.76 L297,128.79 L298,128.71 L299,128.84 L300,129.06 L301,128.98 L302,128.9 L303,128.9 L304,128.96 L305,128.82 L306,128.9 L307,128.86 L308,128.57 L309,128.78 L310,128.98 L311,128.76 L312,128.79 L313,128.73 L314,128.74 L315,128.93 L316,128.77 L317,128.68 L318,128.43 L319,128.74 L320,128.58 L321,128.61 L322,128.93 L323,128.93 L324,128.63 L325,128.97 L326,128.94 L327,128.8 L328,129 L329,128.73 L330,128.8 L331,128.79 L332,128.85 L333,129.1 L334,128.86 L335,128.9 L336,128.94 L337,129.1 L338,129.05 L339,129.22 L339.5,129.1" stroke="#5aa7b3" stroke-width="0.7" fill="none"/>
<path d="M243.7,131.5 L244,129.61 L245,129.77 L246,130.03 L247,130.21 L248,130.18 L249,130.38 L250,130.61 L251,130.35 L252,130.45 L253,130.62 L254,130.39 L255,130.38 L256,130.35 L257,130.54 L258,130.55 L259,130.48 L260,130.5 L261,130.65 L262,130.6 L263,130.33 L264,130.5 L265,130.51 L266,130.58 L267,130.47 L268,130.42 L269,130.44 L270,130.28 L271,130.49 L272,130.43 L273,130.55 L274,130.37 L275,130.44 L276,130.38 L277,130.37 L278,130.58 L279,130.44 L280,130.55 L281,130.36 L282,130.51 L283,130.29 L284,130.44 L285,130.44 L286,130.57 L287,130.52 L288,130.47 L289,130.6 L290,130.52 L291,130.56 L292,130.59 L293,130.49 L294,130.46 L295,130.53 L296,130.44 L297,130.54 L298,130.63 L299,130.6 L300,130.45 L301,130.34 L302,130.49 L303,130.48 L304,130.63 L305,130.45 L306,130.47 L307,130.58 L308,130.44 L309,130.48 L310,130.7 L311,130.67 L312,130.57 L313,130.53 L314,130.38 L315,130.56 L316,130.5 L317,130.52 L318,130.43 L319,130.49 L320,130.47 L321,130.53 L322,130.67 L323,130.54 L324,130.3 L325,130.38 L326,130.3 L327,130.4 L328,130.56 L329,130.54 L330,130.42 L331,130.53 L332,130.4 L333,130.32 L334,130.33 L335,130.39 L336,130.66 L337,130.33 L338,130.64 L339,130.65 L339.5,130.5" stroke="#3f93a0" stroke-width="0.7" fill="none"/>
<path d="M243.7,132.8 L244,130.97 L245,131.22 L246,131.31 L247,131.5 L248,131.66 L249,131.64 L250,131.81 L251,131.86 L252,131.78 L253,131.79 L254,131.76 L255,131.81 L256,131.65 L257,131.83 L258,131.81 L259,131.69 L260,132.05 L261,131.67 L262,131.69 L263,131.83 L264,131.56 L265,131.7 L266,131.61 L267,131.68 L268,131.78 L269,131.83 L270,131.93 L271,131.89 L272,131.94 L273,131.86 L274,131.74 L275,131.93 L276,131.74 L277,131.72 L278,131.98 L279,131.89 L280,131.82 L281,131.88 L282,131.9 L283,131.63 L284,131.78 L285,131.65 L286,131.81 L287,131.71 L288,131.96 L289,131.86 L290,131.7 L291,131.79 L292,131.65 L293,131.8 L294,131.86 L295,131.82 L296,131.56 L297,131.75 L298,131.85 L299,131.83 L300,131.93 L301,131.64 L302,131.86 L303,131.72 L304,131.82 L305,131.84 L306,131.88 L307,131.72 L308,131.82 L309,131.65 L310,131.62 L311,131.86 L312,131.79 L313,131.6 L314,131.69 L315,131.8 L316,131.98 L317,131.92 L318,131.89 L319,131.58 L320,131.78 L321,131.85 L322,131.84 L323,131.84 L324,131.77 L325,132 L326,131.97 L327,131.78 L328,131.68 L329,132.04 L330,131.73 L331,131.94 L332,132.02 L333,131.68 L334,131.83 L335,131.75 L336,131.85 L337,131.83 L338,132.03 L339,131.86 L339.5,131.8" stroke="#5aa7b3" stroke-width="0.7" fill="none"/>
<path d="M243.7,134 L244,132.19 L245,132.57 L246,132.59 L247,132.71 L248,133.13 L249,132.84 L250,132.94 L251,133.06 L252,132.96 L253,132.87 L254,133.28 L255,133.08 L256,133.13 L257,133.17 L258,133.11 L259,133.11 L260,133.27 L261,133.55 L262,133.36 L263,133.37 L264,133.1 L265,133.28 L266,133.15 L267,133.39 L268,133.27 L269,133.3 L270,133.28 L271,133.21 L272,133.1 L273,133.34 L274,133.1 L275,133.12 L276,133.21 L277,133.15 L278,133.25 L279,133.33 L280,133.23 L281,133.2 L282,133.17 L283,133.25 L284,132.91 L285,133.16 L286,132.98 L287,132.93 L288,133.06 L289,132.99 L290,133.09 L291,133.13 L292,132.7 L293,132.95 L294,133.17 L295,133.02 L296,133.07 L297,132.89 L298,132.69 L299,132.71 L300,132.91 L301,132.92 L302,132.71 L303,132.75 L304,132.8 L305,132.54 L306,132.7 L307,132.93 L308,132.98 L309,132.7 L310,132.93 L311,132.64 L312,132.6 L313,132.43 L314,132.81 L315,132.65 L316,132.97 L317,132.74 L318,132.72 L319,132.49 L320,132.89 L321,132.68 L322,132.71 L323,132.47 L324,132.86 L325,132.88 L326,132.7 L327,132.8 L328,132.85 L329,132.94 L330,132.85 L331,133.06 L332,132.84 L333,132.82 L334,132.85 L335,132.62 L336,132.85 L337,133.09 L338,133.02 L339,132.91 L339.5,133" stroke="#3f93a0" stroke-width="0.7" fill="none"/>
<path d="M243.7,135.1 L244,133.34 L245,133.28 L246,133.65 L247,133.86 L248,133.97 L249,133.85 L250,134.09 L251,134.24 L252,133.99 L253,134.14 L254,133.88 L255,133.84 L256,134.15 L257,134.09 L258,134.11 L259,134.02 L260,134.05 L261,134.19 L262,134.3 L263,134.07 L264,133.89 L265,134.25 L266,134.17 L267,134.18 L268,134.12 L269,134.37 L270,134.1 L271,134.16 L272,133.87 L273,134.02 L274,134.01 L275,134.09 L276,134.14 L277,134 L278,134.3 L279,133.97 L280,134.04 L281,134.12 L282,133.94 L283,134.16 L284,134.17 L285,134.06 L286,134.32 L287,134.1 L288,134.13 L289,133.98 L290,133.89 L291,134.02 L292,134.06 L293,134.04 L294,134.19 L295,133.81 L296,133.96 L297,133.87 L298,134.25 L299,134.03 L300,134.03 L301,133.96 L302,134.2 L303,134.04 L304,134.12 L305,133.85 L306,134.23 L307,134.14 L308,134.16 L309,134.24 L310,134.07 L311,134.07 L312,134.18 L313,134.15 L314,134.06 L315,134.1 L316,134.03 L317,134.18 L318,134.21 L319,134.09 L320,134.32 L321,133.91 L322,134.07 L323,134.3 L324,134.04 L325,133.9 L326,134.26 L327,134.16 L328,133.95 L329,134.19 L330,133.97 L331,133.93 L332,134.08 L333,134.04 L334,133.96 L335,134.05 L336,133.97 L337,134.1 L338,134.09 L339,134.18 L339.5,134.1" stroke="#5aa7b3" stroke-width="0.7" fill="none"/>
<line x1="243.7" y1="112" x2="243.7" y2="136" stroke="#3a8f9c" stroke-width="1"/>
<line x1="339.5" y1="112.6" x2="339.5" y2="136" stroke="#3a8f9c" stroke-width="0.9"/>
<line x1="236.5" y1="136" x2="346.5" y2="136" stroke="#7dbcc5" stroke-width="1.4"/>
<line x1="243.7" y1="136" x2="243.7" y2="151.8" stroke="#3f97a4" stroke-width="1"/>
<line x1="339.5" y1="136" x2="339.5" y2="138.7" stroke="#3f97a4" stroke-width="0.8"/>
<line x1="415.6" y1="17.8" x2="432" y2="17.8" stroke="#6a6a6a" stroke-width="2.6"/>
<circle cx="423.8" cy="17.8" r="2.1" fill="#555"/>
<text x="435.2" y="21.3" font-size="12" fill="#1a1a1a">Ngn2 + shNC</text>
<line x1="547.2" y1="18.2" x2="563.6" y2="18.2" stroke="#3f95a2" stroke-width="2.8"/>
<circle cx="555.4" cy="18.2" r="2.1" fill="#2f8593"/>
<text x="567.5" y="21.6" font-size="12" fill="#1a1a1a">Ngn2 + shOlig2</text>
<line x1="396" y1="109.1" x2="521.6" y2="109.1" stroke="#222" stroke-width="1"/>
<line x1="395.8" y1="109.1" x2="395.8" y2="111.7" stroke="#222" stroke-width="0.9"/>
<line x1="408.4" y1="109.1" x2="408.4" y2="111.7" stroke="#222" stroke-width="0.9"/>
<line x1="421" y1="109.1" x2="421" y2="111.7" stroke="#222" stroke-width="0.9"/>
<line x1="433.6" y1="109.1" x2="433.6" y2="111.7" stroke="#222" stroke-width="0.9"/>
<line x1="446.2" y1="109.1" x2="446.2" y2="111.7" stroke="#222" stroke-width="0.9"/>
<line x1="458.8" y1="109.1" x2="458.8" y2="111.7" stroke="#222" stroke-width="0.9"/>
<line x1="471.4" y1="109.1" x2="471.4" y2="111.7" stroke="#222" stroke-width="0.9"/>
<line x1="484" y1="109.1" x2="484" y2="111.7" stroke="#222" stroke-width="0.9"/>
<line x1="496.6" y1="109.1" x2="496.6" y2="111.7" stroke="#222" stroke-width="0.9"/>
<line x1="509.2" y1="109.1" x2="509.2" y2="111.7" stroke="#222" stroke-width="0.9"/>
<line x1="521.8" y1="109.1" x2="521.8" y2="111.7" stroke="#222" stroke-width="0.9"/>
<text x="395.8" y="119.8" font-size="7" font-weight="bold" text-anchor="middle" fill="#222">-100</text>
<text x="408.4" y="119.8" font-size="7" font-weight="bold" text-anchor="middle" fill="#222">-80</text>
<text x="421" y="119.8" font-size="7" font-weight="bold" text-anchor="middle" fill="#222">-60</text>
<text x="433.6" y="119.8" font-size="7" font-weight="bold" text-anchor="middle" fill="#222">-40</text>
<text x="446.2" y="119.8" font-size="7" font-weight="bold" text-anchor="middle" fill="#222">-20</text>
<text x="471.4" y="119.8" font-size="7" font-weight="bold" text-anchor="middle" fill="#222">20</text>
<text x="484" y="119.8" font-size="7" font-weight="bold" text-anchor="middle" fill="#222">40</text>
<text x="496.6" y="119.8" font-size="7" font-weight="bold" text-anchor="middle" fill="#222">60</text>
<text x="509.2" y="119.8" font-size="7" font-weight="bold" text-anchor="middle" fill="#222">80</text>
<text x="521.8" y="119.8" font-size="7" font-weight="bold" text-anchor="middle" fill="#222">100</text>
<line x1="458.8" y1="46" x2="458.8" y2="130.1" stroke="#222" stroke-width="1"/>
<line x1="455.3" y1="46.1" x2="458.8" y2="46.1" stroke="#222" stroke-width="1"/>
<text x="454.6" y="48.6" font-size="7" font-weight="bold" text-anchor="end" fill="#222">15</text>
<line x1="455.3" y1="67.1" x2="458.8" y2="67.1" stroke="#222" stroke-width="1"/>
<text x="454.6" y="69.6" font-size="7" font-weight="bold" text-anchor="end" fill="#222">10</text>
<line x1="455.3" y1="88.1" x2="458.8" y2="88.1" stroke="#222" stroke-width="1"/>
<text x="454.6" y="90.6" font-size="7" font-weight="bold" text-anchor="end" fill="#222">5</text>
<line x1="455.3" y1="130.1" x2="458.8" y2="130.1" stroke="#222" stroke-width="1"/>
<text x="454.6" y="132.6" font-size="7" font-weight="bold" text-anchor="end" fill="#222">-5</text>
<line x1="439.9" y1="99.19" x2="439.9" y2="102.21" stroke="#9a9a9a" stroke-width="0.7"/>
<line x1="438.7" y1="99.19" x2="441.1" y2="99.19" stroke="#9a9a9a" stroke-width="0.7"/>
<line x1="438.7" y1="102.21" x2="441.1" y2="102.21" stroke="#9a9a9a" stroke-width="0.7"/>
<line x1="446.2" y1="95.79" x2="446.2" y2="99.73" stroke="#9a9a9a" stroke-width="0.7"/>
<line x1="445" y1="95.79" x2="447.4" y2="95.79" stroke="#9a9a9a" stroke-width="0.7"/>
<line x1="445" y1="99.73" x2="447.4" y2="99.73" stroke="#9a9a9a" stroke-width="0.7"/>
<line x1="452.5" y1="92.8" x2="452.5" y2="97.68" stroke="#9a9a9a" stroke-width="0.7"/>
<line x1="451.3" y1="92.8" x2="453.7" y2="92.8" stroke="#9a9a9a" stroke-width="0.7"/>
<line x1="451.3" y1="97.68" x2="453.7" y2="97.68" stroke="#9a9a9a" stroke-width="0.7"/>
<line x1="458.8" y1="89.61" x2="458.8" y2="95.41" stroke="#9a9a9a" stroke-width="0.7"/>
<line x1="457.6" y1="89.61" x2="460" y2="89.61" stroke="#9a9a9a" stroke-width="0.7"/>
<line x1="457.6" y1="95.41" x2="460" y2="95.41" stroke="#9a9a9a" stroke-width="0.7"/>
<line x1="465.1" y1="86.42" x2="465.1" y2="93.14" stroke="#9a9a9a" stroke-width="0.7"/>
<line x1="463.9" y1="86.42" x2="466.3" y2="86.42" stroke="#9a9a9a" stroke-width="0.7"/>
<line x1="463.9" y1="93.14" x2="466.3" y2="93.14" stroke="#9a9a9a" stroke-width="0.7"/>
<line x1="471.4" y1="83.44" x2="471.4" y2="91.08" stroke="#9a9a9a" stroke-width="0.7"/>
<line x1="470.2" y1="83.44" x2="472.6" y2="83.44" stroke="#9a9a9a" stroke-width="0.7"/>
<line x1="470.2" y1="91.08" x2="472.6" y2="91.08" stroke="#9a9a9a" stroke-width="0.7"/>
<line x1="477.7" y1="80.46" x2="477.7" y2="89.02" stroke="#9a9a9a" stroke-width="0.7"/>
<line x1="476.5" y1="80.46" x2="478.9" y2="80.46" stroke="#9a9a9a" stroke-width="0.7"/>
<line x1="476.5" y1="89.02" x2="478.9" y2="89.02" stroke="#9a9a9a" stroke-width="0.7"/>
<line x1="484" y1="77.89" x2="484" y2="87.39" stroke="#9a9a9a" stroke-width="0.7"/>
<line x1="482.8" y1="77.89" x2="485.2" y2="77.89" stroke="#9a9a9a" stroke-width="0.7"/>
<line x1="482.8" y1="87.39" x2="485.2" y2="87.39" stroke="#9a9a9a" stroke-width="0.7"/>
<line x1="490.3" y1="74.91" x2="490.3" y2="85.33" stroke="#9a9a9a" stroke-width="0.7"/>
<line x1="489.1" y1="74.91" x2="491.5" y2="74.91" stroke="#9a9a9a" stroke-width="0.7"/>
<line x1="489.1" y1="85.33" x2="491.5" y2="85.33" stroke="#9a9a9a" stroke-width="0.7"/>
<line x1="496.6" y1="71.93" x2="496.6" y2="83.27" stroke="#9a9a9a" stroke-width="0.7"/>
<line x1="495.4" y1="71.93" x2="497.8" y2="71.93" stroke="#9a9a9a" stroke-width="0.7"/>
<line x1="495.4" y1="83.27" x2="497.8" y2="83.27" stroke="#9a9a9a" stroke-width="0.7"/>
<line x1="502.9" y1="68.95" x2="502.9" y2="81.21" stroke="#9a9a9a" stroke-width="0.7"/>
<line x1="501.7" y1="68.95" x2="504.1" y2="68.95" stroke="#9a9a9a" stroke-width="0.7"/>
<line x1="501.7" y1="81.21" x2="504.1" y2="81.21" stroke="#9a9a9a" stroke-width="0.7"/>
<line x1="509.2" y1="65.97" x2="509.2" y2="79.15" stroke="#9a9a9a" stroke-width="0.7"/>
<line x1="508" y1="65.97" x2="510.4" y2="65.97" stroke="#9a9a9a" stroke-width="0.7"/>
<line x1="508" y1="79.15" x2="510.4" y2="79.15" stroke="#9a9a9a" stroke-width="0.7"/>
<line x1="515.5" y1="62.98" x2="515.5" y2="77.1" stroke="#9a9a9a" stroke-width="0.7"/>
<line x1="514.3" y1="62.98" x2="516.7" y2="62.98" stroke="#9a9a9a" stroke-width="0.7"/>
<line x1="514.3" y1="77.1" x2="516.7" y2="77.1" stroke="#9a9a9a" stroke-width="0.7"/>
<line x1="452.5" y1="104.86" x2="452.5" y2="107.46" stroke="#8cc4cc" stroke-width="0.7"/>
<line x1="451.3" y1="104.86" x2="453.7" y2="104.86" stroke="#8cc4cc" stroke-width="0.7"/>
<line x1="451.3" y1="107.46" x2="453.7" y2="107.46" stroke="#8cc4cc" stroke-width="0.7"/>
<line x1="458.8" y1="102.3" x2="458.8" y2="106.24" stroke="#8cc4cc" stroke-width="0.7"/>
<line x1="457.6" y1="102.3" x2="460" y2="102.3" stroke="#8cc4cc" stroke-width="0.7"/>
<line x1="457.6" y1="106.24" x2="460" y2="106.24" stroke="#8cc4cc" stroke-width="0.7"/>
<line x1="465.1" y1="99.73" x2="465.1" y2="105.03" stroke="#8cc4cc" stroke-width="0.7"/>
<line x1="463.9" y1="99.73" x2="466.3" y2="99.73" stroke="#8cc4cc" stroke-width="0.7"/>
<line x1="463.9" y1="105.03" x2="466.3" y2="105.03" stroke="#8cc4cc" stroke-width="0.7"/>
<line x1="471.4" y1="96.96" x2="471.4" y2="103.6" stroke="#8cc4cc" stroke-width="0.7"/>
<line x1="470.2" y1="96.96" x2="472.6" y2="96.96" stroke="#8cc4cc" stroke-width="0.7"/>
<line x1="470.2" y1="103.6" x2="472.6" y2="103.6" stroke="#8cc4cc" stroke-width="0.7"/>
<line x1="477.7" y1="94.19" x2="477.7" y2="102.17" stroke="#8cc4cc" stroke-width="0.7"/>
<line x1="476.5" y1="94.19" x2="478.9" y2="94.19" stroke="#8cc4cc" stroke-width="0.7"/>
<line x1="476.5" y1="102.17" x2="478.9" y2="102.17" stroke="#8cc4cc" stroke-width="0.7"/>
<line x1="484" y1="91.42" x2="484" y2="100.74" stroke="#8cc4cc" stroke-width="0.7"/>
<line x1="482.8" y1="91.42" x2="485.2" y2="91.42" stroke="#8cc4cc" stroke-width="0.7"/>
<line x1="482.8" y1="100.74" x2="485.2" y2="100.74" stroke="#8cc4cc" stroke-width="0.7"/>
<line x1="490.3" y1="88.65" x2="490.3" y2="99.31" stroke="#8cc4cc" stroke-width="0.7"/>
<line x1="489.1" y1="88.65" x2="491.5" y2="88.65" stroke="#8cc4cc" stroke-width="0.7"/>
<line x1="489.1" y1="99.31" x2="491.5" y2="99.31" stroke="#8cc4cc" stroke-width="0.7"/>
<line x1="496.6" y1="85.87" x2="496.6" y2="97.89" stroke="#8cc4cc" stroke-width="0.7"/>
<line x1="495.4" y1="85.87" x2="497.8" y2="85.87" stroke="#8cc4cc" stroke-width="0.7"/>
<line x1="495.4" y1="97.89" x2="497.8" y2="97.89" stroke="#8cc4cc" stroke-width="0.7"/>
<line x1="502.9" y1="83.1" x2="502.9" y2="96.46" stroke="#8cc4cc" stroke-width="0.7"/>
<line x1="501.7" y1="83.1" x2="504.1" y2="83.1" stroke="#8cc4cc" stroke-width="0.7"/>
<line x1="501.7" y1="96.46" x2="504.1" y2="96.46" stroke="#8cc4cc" stroke-width="0.7"/>
<line x1="509.2" y1="80.75" x2="509.2" y2="95.45" stroke="#8cc4cc" stroke-width="0.7"/>
<line x1="508" y1="80.75" x2="510.4" y2="80.75" stroke="#8cc4cc" stroke-width="0.7"/>
<line x1="508" y1="95.45" x2="510.4" y2="95.45" stroke="#8cc4cc" stroke-width="0.7"/>
<line x1="515.5" y1="78.19" x2="515.5" y2="94.23" stroke="#8cc4cc" stroke-width="0.7"/>
<line x1="514.3" y1="78.19" x2="516.7" y2="78.19" stroke="#8cc4cc" stroke-width="0.7"/>
<line x1="514.3" y1="94.23" x2="516.7" y2="94.23" stroke="#8cc4cc" stroke-width="0.7"/>
<path d="M408.4,110.15 L414.7,108.68 L421,107 L427.3,105.32 L433.6,103.22 L439.9,100.7 L446.2,97.76 L452.5,95.24 L458.8,92.51 L465.1,89.78 L471.4,87.26 L477.7,84.74 L484,82.64 L490.3,80.12 L496.6,77.6 L502.9,75.08 L509.2,72.56 L515.5,70.04" stroke="#5c5c5c" stroke-width="1.1" fill="none"/>
<circle cx="408.4" cy="110.15" r="1.3" fill="#555"/>
<circle cx="414.7" cy="108.68" r="1.3" fill="#555"/>
<circle cx="421" cy="107" r="1.3" fill="#555"/>
<circle cx="427.3" cy="105.32" r="1.3" fill="#555"/>
<circle cx="433.6" cy="103.22" r="1.3" fill="#555"/>
<circle cx="439.9" cy="100.7" r="1.3" fill="#555"/>
<circle cx="446.2" cy="97.76" r="1.3" fill="#555"/>
<circle cx="452.5" cy="95.24" r="1.3" fill="#555"/>
<circle cx="458.8" cy="92.51" r="1.3" fill="#555"/>
<circle cx="465.1" cy="89.78" r="1.3" fill="#555"/>
<circle cx="471.4" cy="87.26" r="1.3" fill="#555"/>
<circle cx="477.7" cy="84.74" r="1.3" fill="#555"/>
<circle cx="484" cy="82.64" r="1.3" fill="#555"/>
<circle cx="490.3" cy="80.12" r="1.3" fill="#555"/>
<circle cx="496.6" cy="77.6" r="1.3" fill="#555"/>
<circle cx="502.9" cy="75.08" r="1.3" fill="#555"/>
<circle cx="509.2" cy="72.56" r="1.3" fill="#555"/>
<circle cx="515.5" cy="70.04" r="1.3" fill="#555"/>
<path d="M408.4,109.1 L414.7,109.1 L421,109.1 L427.3,109.1 L433.6,108.89 L439.9,108.47 L446.2,107.63 L452.5,106.16 L458.8,104.27 L465.1,102.38 L471.4,100.28 L477.7,98.18 L484,96.08 L490.3,93.98 L496.6,91.88 L502.9,89.78 L509.2,88.1 L515.5,86.21" stroke="#3a93a0" stroke-width="1.2" fill="none"/>
<circle cx="408.4" cy="109.1" r="1.4" fill="#2f8593"/>
<circle cx="414.7" cy="109.1" r="1.4" fill="#2f8593"/>
<circle cx="421" cy="109.1" r="1.4" fill="#2f8593"/>
<circle cx="427.3" cy="109.1" r="1.4" fill="#2f8593"/>
<circle cx="433.6" cy="108.89" r="1.4" fill="#2f8593"/>
<circle cx="439.9" cy="108.47" r="1.4" fill="#2f8593"/>
<circle cx="446.2" cy="107.63" r="1.4" fill="#2f8593"/>
<circle cx="452.5" cy="106.16" r="1.4" fill="#2f8593"/>
<circle cx="458.8" cy="104.27" r="1.4" fill="#2f8593"/>
<circle cx="465.1" cy="102.38" r="1.4" fill="#2f8593"/>
<circle cx="471.4" cy="100.28" r="1.4" fill="#2f8593"/>
<circle cx="477.7" cy="98.18" r="1.4" fill="#2f8593"/>
<circle cx="484" cy="96.08" r="1.4" fill="#2f8593"/>
<circle cx="490.3" cy="93.98" r="1.4" fill="#2f8593"/>
<circle cx="496.6" cy="91.88" r="1.4" fill="#2f8593"/>
<circle cx="502.9" cy="89.78" r="1.4" fill="#2f8593"/>
<circle cx="509.2" cy="88.1" r="1.4" fill="#2f8593"/>
<circle cx="515.5" cy="86.21" r="1.4" fill="#2f8593"/>
<text x="0" y="0" font-size="10.3" text-anchor="middle" fill="#1a1a1a" transform="translate(405.4,79.6) rotate(-90)">Peak (nA)</text>
<text x="505.5" y="138.6" font-size="10.3" text-anchor="middle" fill="#1a1a1a">HP (mV)</text>
<text x="0" y="0" font-size="7.3" fill="#333" transform="translate(427,101) rotate(-90)"><tspan font-style="italic">p</tspan> = 0.0025</text>
<text x="0" y="0" font-size="7.3" fill="#333" transform="translate(434.2,97.7) rotate(-90)"><tspan font-style="italic">p</tspan> &lt; 0.0001</text>
<text x="0" y="0" font-size="7.3" fill="#333" transform="translate(440.4,95.8) rotate(-90)"><tspan font-style="italic">p</tspan> &lt; 0.0001</text>
<line x1="551.6" y1="60.8" x2="675.4" y2="60.8" stroke="#222" stroke-width="1"/>
<line x1="551.4" y1="59.5" x2="551.4" y2="62.4" stroke="#222" stroke-width="0.9"/>
<line x1="557.6" y1="59.5" x2="557.6" y2="62.4" stroke="#222" stroke-width="0.9"/>
<line x1="563.8" y1="59.5" x2="563.8" y2="62.4" stroke="#222" stroke-width="0.9"/>
<line x1="570" y1="59.5" x2="570" y2="62.4" stroke="#222" stroke-width="0.9"/>
<line x1="576.2" y1="59.5" x2="576.2" y2="62.4" stroke="#222" stroke-width="0.9"/>
<line x1="582.4" y1="59.5" x2="582.4" y2="62.4" stroke="#222" stroke-width="0.9"/>
<line x1="588.6" y1="59.5" x2="588.6" y2="62.4" stroke="#222" stroke-width="0.9"/>
<line x1="594.8" y1="59.5" x2="594.8" y2="62.4" stroke="#222" stroke-width="0.9"/>
<line x1="601" y1="59.5" x2="601" y2="62.4" stroke="#222" stroke-width="0.9"/>
<line x1="607.2" y1="59.5" x2="607.2" y2="62.4" stroke="#222" stroke-width="0.9"/>
<line x1="613.4" y1="59.5" x2="613.4" y2="62.4" stroke="#222" stroke-width="0.9"/>
<line x1="619.6" y1="59.5" x2="619.6" y2="62.4" stroke="#222" stroke-width="0.9"/>
<line x1="625.8" y1="59.5" x2="625.8" y2="62.4" stroke="#222" stroke-width="0.9"/>
<line x1="632" y1="59.5" x2="632" y2="62.4" stroke="#222" stroke-width="0.9"/>
<line x1="638.2" y1="59.5" x2="638.2" y2="62.4" stroke="#222" stroke-width="0.9"/>
<line x1="644.4" y1="59.5" x2="644.4" y2="62.4" stroke="#222" stroke-width="0.9"/>
<line x1="650.6" y1="59.5" x2="650.6" y2="62.4" stroke="#222" stroke-width="0.9"/>
<line x1="656.8" y1="59.5" x2="656.8" y2="62.4" stroke="#222" stroke-width="0.9"/>
<line x1="663" y1="59.5" x2="663" y2="62.4" stroke="#222" stroke-width="0.9"/>
<line x1="669.2" y1="59.5" x2="669.2" y2="62.4" stroke="#222" stroke-width="0.9"/>
<line x1="675.4" y1="59.5" x2="675.4" y2="62.4" stroke="#222" stroke-width="0.9"/>
<text x="551.4" y="70.9" font-size="7" font-weight="bold" text-anchor="middle" fill="#222">-100</text>
<text x="563.8" y="70.9" font-size="7" font-weight="bold" text-anchor="middle" fill="#222">-80</text>
<text x="576.2" y="70.9" font-size="7" font-weight="bold" text-anchor="middle" fill="#222">-60</text>
<text x="588.6" y="70.9" font-size="7" font-weight="bold" text-anchor="middle" fill="#222">-40</text>
<text x="601" y="70.9" font-size="7" font-weight="bold" text-anchor="middle" fill="#222">-20</text>
<text x="625.8" y="70.9" font-size="7" font-weight="bold" text-anchor="middle" fill="#222">20</text>
<text x="638.2" y="70.9" font-size="7" font-weight="bold" text-anchor="middle" fill="#222">40</text>
<text x="650.6" y="70.9" font-size="7" font-weight="bold" text-anchor="middle" fill="#222">60</text>
<text x="663" y="70.9" font-size="7" font-weight="bold" text-anchor="middle" fill="#222">80</text>
<text x="675.4" y="70.9" font-size="7" font-weight="bold" text-anchor="middle" fill="#222">100</text>
<line x1="613.4" y1="43.8" x2="613.4" y2="127" stroke="#222" stroke-width="1"/>
<line x1="609.9" y1="44.2" x2="613.4" y2="44.2" stroke="#222" stroke-width="1"/>
<text x="609.2" y="46.7" font-size="7" font-weight="bold" text-anchor="end" fill="#222">2</text>
<line x1="609.9" y1="77.4" x2="613.4" y2="77.4" stroke="#222" stroke-width="1"/>
<text x="609.2" y="79.9" font-size="7" font-weight="bold" text-anchor="end" fill="#222">-2</text>
<line x1="609.9" y1="94" x2="613.4" y2="94" stroke="#222" stroke-width="1"/>
<text x="609.2" y="96.5" font-size="7" font-weight="bold" text-anchor="end" fill="#222">-4</text>
<line x1="609.9" y1="110.6" x2="613.4" y2="110.6" stroke="#222" stroke-width="1"/>
<text x="609.2" y="113.1" font-size="7" font-weight="bold" text-anchor="end" fill="#222">-6</text>
<line x1="609.9" y1="127.2" x2="613.4" y2="127.2" stroke="#222" stroke-width="1"/>
<text x="609.2" y="129.7" font-size="7" font-weight="bold" text-anchor="end" fill="#222">-8</text>
<line x1="576.2" y1="62.85" x2="576.2" y2="66.22" stroke="#8cc4cc" stroke-width="0.8"/>
<line x1="575" y1="62.85" x2="577.4" y2="62.85" stroke="#8cc4cc" stroke-width="0.8"/>
<line x1="575" y1="66.22" x2="577.4" y2="66.22" stroke="#8cc4cc" stroke-width="0.8"/>
<line x1="582.4" y1="68.1" x2="582.4" y2="80.06" stroke="#8cc4cc" stroke-width="0.8"/>
<line x1="581.2" y1="68.1" x2="583.6" y2="68.1" stroke="#8cc4cc" stroke-width="0.8"/>
<line x1="581.2" y1="80.06" x2="583.6" y2="80.06" stroke="#8cc4cc" stroke-width="0.8"/>
<line x1="588.6" y1="80.89" x2="588.6" y2="113.75" stroke="#8cc4cc" stroke-width="0.8"/>
<line x1="587.4" y1="80.89" x2="589.8" y2="80.89" stroke="#8cc4cc" stroke-width="0.8"/>
<line x1="587.4" y1="113.75" x2="589.8" y2="113.75" stroke="#8cc4cc" stroke-width="0.8"/>
<line x1="594.8" y1="81.8" x2="594.8" y2="116.16" stroke="#8cc4cc" stroke-width="0.8"/>
<line x1="593.6" y1="81.8" x2="596" y2="81.8" stroke="#8cc4cc" stroke-width="0.8"/>
<line x1="593.6" y1="116.16" x2="596" y2="116.16" stroke="#8cc4cc" stroke-width="0.8"/>
<line x1="601" y1="80.89" x2="601" y2="113.75" stroke="#8cc4cc" stroke-width="0.8"/>
<line x1="599.8" y1="80.89" x2="602.2" y2="80.89" stroke="#8cc4cc" stroke-width="0.8"/>
<line x1="599.8" y1="113.75" x2="602.2" y2="113.75" stroke="#8cc4cc" stroke-width="0.8"/>
<line x1="607.2" y1="80.2" x2="607.2" y2="111.95" stroke="#8cc4cc" stroke-width="0.8"/>
<line x1="606" y1="80.2" x2="608.4" y2="80.2" stroke="#8cc4cc" stroke-width="0.8"/>
<line x1="606" y1="111.95" x2="608.4" y2="111.95" stroke="#8cc4cc" stroke-width="0.8"/>
<line x1="613.4" y1="79.06" x2="613.4" y2="108.94" stroke="#8cc4cc" stroke-width="0.8"/>
<line x1="612.2" y1="79.06" x2="614.6" y2="79.06" stroke="#8cc4cc" stroke-width="0.8"/>
<line x1="612.2" y1="108.94" x2="614.6" y2="108.94" stroke="#8cc4cc" stroke-width="0.8"/>
<line x1="619.6" y1="78.15" x2="619.6" y2="106.53" stroke="#8cc4cc" stroke-width="0.8"/>
<line x1="618.4" y1="78.15" x2="620.8" y2="78.15" stroke="#8cc4cc" stroke-width="0.8"/>
<line x1="618.4" y1="106.53" x2="620.8" y2="106.53" stroke="#8cc4cc" stroke-width="0.8"/>
<line x1="625.8" y1="77.23" x2="625.8" y2="104.13" stroke="#8cc4cc" stroke-width="0.8"/>
<line x1="624.6" y1="77.23" x2="627" y2="77.23" stroke="#8cc4cc" stroke-width="0.8"/>
<line x1="624.6" y1="104.13" x2="627" y2="104.13" stroke="#8cc4cc" stroke-width="0.8"/>
<line x1="632" y1="76.32" x2="632" y2="101.72" stroke="#8cc4cc" stroke-width="0.8"/>
<line x1="630.8" y1="76.32" x2="633.2" y2="76.32" stroke="#8cc4cc" stroke-width="0.8"/>
<line x1="630.8" y1="101.72" x2="633.2" y2="101.72" stroke="#8cc4cc" stroke-width="0.8"/>
<line x1="638.2" y1="75.41" x2="638.2" y2="99.31" stroke="#8cc4cc" stroke-width="0.8"/>
<line x1="637" y1="75.41" x2="639.4" y2="75.41" stroke="#8cc4cc" stroke-width="0.8"/>
<line x1="637" y1="99.31" x2="639.4" y2="99.31" stroke="#8cc4cc" stroke-width="0.8"/>
<line x1="644.4" y1="74.5" x2="644.4" y2="96.91" stroke="#8cc4cc" stroke-width="0.8"/>
<line x1="643.2" y1="74.5" x2="645.6" y2="74.5" stroke="#8cc4cc" stroke-width="0.8"/>
<line x1="643.2" y1="96.91" x2="645.6" y2="96.91" stroke="#8cc4cc" stroke-width="0.8"/>
<line x1="650.6" y1="73.35" x2="650.6" y2="93.9" stroke="#8cc4cc" stroke-width="0.8"/>
<line x1="649.4" y1="73.35" x2="651.8" y2="73.35" stroke="#8cc4cc" stroke-width="0.8"/>
<line x1="649.4" y1="93.9" x2="651.8" y2="93.9" stroke="#8cc4cc" stroke-width="0.8"/>
<line x1="656.8" y1="72.44" x2="656.8" y2="91.49" stroke="#8cc4cc" stroke-width="0.8"/>
<line x1="655.6" y1="72.44" x2="658" y2="72.44" stroke="#8cc4cc" stroke-width="0.8"/>
<line x1="655.6" y1="91.49" x2="658" y2="91.49" stroke="#8cc4cc" stroke-width="0.8"/>
<line x1="663" y1="71.53" x2="663" y2="89.08" stroke="#8cc4cc" stroke-width="0.8"/>
<line x1="661.8" y1="71.53" x2="664.2" y2="71.53" stroke="#8cc4cc" stroke-width="0.8"/>
<line x1="661.8" y1="89.08" x2="664.2" y2="89.08" stroke="#8cc4cc" stroke-width="0.8"/>
<line x1="669.2" y1="70.61" x2="669.2" y2="86.68" stroke="#8cc4cc" stroke-width="0.8"/>
<line x1="668" y1="70.61" x2="670.4" y2="70.61" stroke="#8cc4cc" stroke-width="0.8"/>
<line x1="668" y1="86.68" x2="670.4" y2="86.68" stroke="#8cc4cc" stroke-width="0.8"/>
<path d="M563.8,60.8 L570,61.8 L576.2,64.53 L582.4,74.08 L588.6,97.32 L594.8,98.98 L601,97.32 L607.2,96.08 L613.4,94 L619.6,92.34 L625.8,90.68 L632,89.02 L638.2,87.36 L644.4,85.7 L650.6,83.62 L656.8,81.97 L663,80.31 L669.2,78.64" stroke="#3a93a0" stroke-width="1.2" fill="none"/>
<circle cx="563.8" cy="60.8" r="1.4" fill="#2f8593"/>
<circle cx="570" cy="61.8" r="1.4" fill="#2f8593"/>
<circle cx="576.2" cy="64.53" r="1.4" fill="#2f8593"/>
<circle cx="582.4" cy="74.08" r="1.4" fill="#2f8593"/>
<circle cx="588.6" cy="97.32" r="1.4" fill="#2f8593"/>
<circle cx="594.8" cy="98.98" r="1.4" fill="#2f8593"/>
<circle cx="601" cy="97.32" r="1.4" fill="#2f8593"/>
<circle cx="607.2" cy="96.08" r="1.4" fill="#2f8593"/>
<circle cx="613.4" cy="94" r="1.4" fill="#2f8593"/>
<circle cx="619.6" cy="92.34" r="1.4" fill="#2f8593"/>
<circle cx="625.8" cy="90.68" r="1.4" fill="#2f8593"/>
<circle cx="632" cy="89.02" r="1.4" fill="#2f8593"/>
<circle cx="638.2" cy="87.36" r="1.4" fill="#2f8593"/>
<circle cx="644.4" cy="85.7" r="1.4" fill="#2f8593"/>
<circle cx="650.6" cy="83.62" r="1.4" fill="#2f8593"/>
<circle cx="656.8" cy="81.97" r="1.4" fill="#2f8593"/>
<circle cx="663" cy="80.31" r="1.4" fill="#2f8593"/>
<circle cx="669.2" cy="78.64" r="1.4" fill="#2f8593"/>
<text x="0" y="0" font-size="7.3" text-anchor="middle" fill="#333" transform="translate(584.5,106.5) rotate(-90)"><tspan font-style="italic">p</tspan> &lt; 0.0001</text>
<text x="0" y="0" font-size="7.3" text-anchor="middle" fill="#333" transform="translate(592.2,133.3) rotate(-90)"><tspan font-style="italic">p</tspan> &lt; 0.0001</text>
<text x="0" y="0" font-size="7.3" text-anchor="middle" fill="#333" transform="translate(598.6,130.4) rotate(-90)"><tspan font-style="italic">p</tspan> &lt; 0.0001</text>
<text x="0" y="0" font-size="10.3" text-anchor="middle" fill="#1a1a1a" transform="translate(559.5,107.8) rotate(-90)">Peak (nA)</text>
<text x="645.5" y="125.6" font-size="10.3" text-anchor="middle" fill="#1a1a1a">HP (mV)</text>
<text x="68.6" y="194.4" font-size="11.8" fill="#1a1a1a">Action potentials</text>
<text x="0" y="0" font-size="12" text-anchor="middle" fill="#1a1a1a" transform="translate(16.69,234.4) rotate(-90)">Ngn2 +</text>
<text x="0" y="0" font-size="12" text-anchor="middle" fill="#1a1a1a" transform="translate(31.05,236.3) rotate(-90)">shNC</text>
<text x="0" y="0" font-size="12" text-anchor="middle" fill="#1a1a1a" transform="translate(16.49,297.9) rotate(-90)">Ngn2 +</text>
<text x="0" y="0" font-size="12" text-anchor="middle" fill="#1a1a1a" transform="translate(31.15,300.2) rotate(-90)">shOlig2</text>
<path d="M39.6,236.3 L63.5,236.3 L63.5,233.3 L64,233.24 L65,233.13 L66,233.14 L67,233.26 L68,233.48 L69,233.4 L70,233.22 L71,233.41 L72,233.15 L73,233.42 L74,233.25 L75,233.39 L76,233.37 L77,233.26 L78,233.33 L79,233.17 L80,233.29 L81,233.42 L82,233.79 L83,233.38 L84,233.3 L85,233.17 L86,233.42 L87,233.1 L88,233.2 L89,233.34 L90,233.15 L91,233.48 L92,233.43 L93,233.23 L94,233.23 L95,233.14 L96,233.13 L97,233.35 L98,233.37 L99,233.34 L100,233.33 L101,233.23 L102,233.34 L103,233.12 L104,233.3 L105,233.47 L106,233.45 L107,233.24 L108,233.25 L109,233.46 L110,233.51 L111,233.11 L112,233.24 L113,233.32 L114,233.44 L115,233.19 L116,233.37 L117,233.26 L118,233.58 L119,233.35 L120,233.28 L121,233.25 L122,233.42 L123,233.38 L124,233.16 L125,233.32 L126,233.13 L127,233.2 L128,233.14 L129,233.13 L130,233.21 L131,233.18 L132,233.36 L133,233.39 L134,233.27 L135,233.16 L136,233.39 L137,233.05 L138,233.06 L139,233.38 L140,233.37 L141,233.41 L142,233.27 L143,233.14 L144,233.23 L145,233.36 L146,233.2 L147,233.21 L148,233.13 L149,233.15 L150,233.4 L151,233.35 L152,233.15 L153,233.16 L154,233.23 L155,233.36 L156,233.15 L157,233.27 L158,233.04 L159,233.14 L160,233.35 L161,233.4 L162,233.16 L163,233.2 L164,233.39 L165,233.25 L166,233.23 L167,233.36 L168,233.32 L169,233.43 L170,233.39 L170.3,233.3 L170.3,236.1 L199.5,236.1" stroke="#707070" stroke-width="0.9" fill="none"/>
<path d="M63.5,236.3 L63.5,237.2 L170.3,237.2 L170.3,236.1" stroke="#bbbbbb" stroke-width="0.9" fill="none"/>
<text x="38.5" y="245.3" font-size="8" fill="#1a1a1a">5 mV</text>
<path d="M58.9,239.6 L58.9,245.2 L81.6,245.2" stroke="#333" stroke-width="0.8" fill="none"/>
<text x="58.7" y="253.2" font-size="8" fill="#1a1a1a">200 ms</text>
<text x="174.8" y="233" font-size="8" fill="#1a1a1a">+140 pA</text>
<text x="175.5" y="244.6" font-size="8" fill="#1a1a1a">-20 pA</text>
<text x="49.3" y="272.8" font-size="9.5" fill="#1a1a1a">Single spike</text>
<text x="131.8" y="273.1" font-size="9.5" fill="#1a1a1a">Regular spike</text>
<path d="M40.2,322 L50.8,322 L51.3,321 L51.6,277.8 L51.9,314 L53,313.2 L54,311.92 L55,311.19 L56,310.67 L57,310.12 L58,309.93 L59,310.07 L60,309.57 L61,309.89 L62,309.73 L63,309.64 L64,309.72 L65,309.69 L66,309.8 L67,309.55 L68,309.57 L69,309.56 L70,309.88 L71,309.74 L72,309.46 L73,309.54 L74,309.49 L75,309.6 L76,309.63 L77,309.94 L78,309.32 L79,309.75 L80,309.66 L81,309.49 L82,309.57 L83,309.52 L84,309.6 L85,309.75 L86,309.37 L87,309.79 L88,309.54 L89,309.82 L90,309.66 L91,309.78 L92,309.68 L93,309.76 L94,309.6 L95,309.47 L96,309.7 L97,309.7 L97.9,309.7 L98.6,318 L99.5,321.2 L101,322 L110.3,322" stroke="#4a9fac" stroke-width="0.9" fill="none"/>
<path d="M51,322 L52,324 L54,324.3 L96,324.3 L98,324 L99,322" stroke="#c9c9c9" stroke-width="0.8" fill="none"/>
<text x="88.8" y="307.4" font-size="7.8" fill="#1a1a1a">10 mV</text>
<path d="M110.7,302 L110.7,307.5 L120.8,307.5" stroke="#333" stroke-width="0.8" fill="none"/>
<text x="107.8" y="314.3" font-size="7.6" fill="#1a1a1a">200 ms</text>
<path d="M126,321.7 L136.4,321.7 L136.6,313 L136.6,311.8 L136.9,276.8 L137.3,312.5 L137.9,313.6 L138.6,312.3 L139.5,311.5 L140,311.8 L140.3,279.3 L140.7,312.5 L141.3,313.6 L142.4,312.3 L143.7,311.5 L144.2,311.8 L144.5,279.3 L144.9,312.5 L145.5,313.6 L146.4,312.3 L147.5,311.5 L148,311.8 L148.3,279.3 L148.7,312.5 L149.3,313.6 L150.15,312.3 L151.2,311.5 L151.7,311.8 L152,279.3 L152.4,312.5 L153,313.6 L153.95,312.3 L155.1,311.5 L155.6,311.8 L155.9,279.3 L156.3,312.5 L156.9,313.6 L157.8,312.3 L158.9,311.5 L159.4,311.8 L159.7,279.3 L160.1,312.5 L160.7,313.6 L161.9,312.3 L163.3,311.5 L163.8,311.8 L164.1,279.3 L164.5,312.5 L165.1,313.6 L166.2,312.3 L167.5,311.5 L168,311.8 L168.3,279.3 L168.7,312.5 L169.3,313.6 L171.5,312.3 L173.9,311.5 L174.4,311.8 L174.7,279.3 L175.1,312.5 L175.7,313.6 L176.95,312.3 L178.4,311.5 L178.9,311.8 L179.2,279.3 L179.6,312.5 L180.2,313.6 L181.3,312.3 L182.6,311.5 L183.4,312.5 L184.3,320 L185.5,321.7 L194.8,321.7" stroke="#4a9fac" stroke-width="0.8" fill="none"/>
<path d="M136.6,321.7 L137.5,323.3 L139,323.5 L181.5,323.5 L183,323.2 L184,321.7" stroke="#c9c9c9" stroke-width="0.8" fill="none"/>
<text x="190.3" y="318.7" font-size="8" fill="#1a1a1a">+140 pA</text>
<text x="191" y="330.1" font-size="8" fill="#1a1a1a">-20 pA</text>
<path d="M281.9,265.6 L281.9,225.6 A40,40 0 0 1 293.06,227.19 Z" fill="#808280"/>
<path d="M281.9,265.6 L293.06,227.19 A40,40 0 0 1 321.48,259.84 Z" fill="#f08224"/>
<path d="M281.9,265.6 L321.48,259.84 A40,40 0 1 1 281.9,225.6 Z" fill="#4ea7b2"/>
<text x="277.2" y="240.4" font-size="9.2" fill="#1a1a1a">4.5%</text>
<text x="288.2" y="256.7" font-size="9.2" fill="#1a1a1a">18.2%</text>
<text x="278.2" y="281.7" font-size="9.2" text-anchor="middle" fill="#1a1a1a">77.3%</text>
<text x="262" y="199.8" font-size="10.8" fill="#1a1a1a">No AP</text>
<text x="298.6" y="207.1" font-size="10.7" fill="#1a1a1a">Single</text>
<text x="298.6" y="219.2" font-size="10.7" fill="#1a1a1a">spike</text>
<text x="221.8" y="215.9" font-size="10.7" fill="#1a1a1a">Regular</text>
<text x="221.8" y="228.2" font-size="10.7" fill="#1a1a1a">spike</text>
<line x1="281.5" y1="202.4" x2="286.8" y2="227.8" stroke="#222" stroke-width="0.8"/>
<line x1="311.3" y1="224.3" x2="305.2" y2="242.7" stroke="#222" stroke-width="0.8"/>
<line x1="239.5" y1="231.3" x2="255.3" y2="253.2" stroke="#222" stroke-width="0.8"/>
<text x="242.3" y="320.5" font-size="9.3" fill="#1a1a1a">n=22 cells from 5 mice</text>
<line x1="404.6" y1="191.4" x2="404.6" y2="310.5" stroke="#1a1a1a" stroke-width="1.1"/>
<line x1="399.2" y1="191.4" x2="404.6" y2="191.4" stroke="#1a1a1a" stroke-width="1.1"/>
<text x="398.5" y="194.77" font-size="9.4" font-weight="bold" text-anchor="end" fill="#1a1a1a">1500</text>
<line x1="399.2" y1="231.1" x2="404.6" y2="231.1" stroke="#1a1a1a" stroke-width="1.1"/>
<text x="398.5" y="234.47" font-size="9.4" font-weight="bold" text-anchor="end" fill="#1a1a1a">1000</text>
<line x1="399.2" y1="270.6" x2="404.6" y2="270.6" stroke="#1a1a1a" stroke-width="1.1"/>
<text x="398.5" y="273.97" font-size="9.4" font-weight="bold" text-anchor="end" fill="#1a1a1a">500</text>
<line x1="399.2" y1="310.5" x2="404.6" y2="310.5" stroke="#1a1a1a" stroke-width="1.1"/>
<text x="398.5" y="313.87" font-size="9.4" font-weight="bold" text-anchor="end" fill="#1a1a1a">0</text>
<line x1="399.2" y1="310.5" x2="451.7" y2="310.5" stroke="#1a1a1a" stroke-width="1.1"/>
<line x1="417.9" y1="310.5" x2="417.9" y2="315.3" stroke="#1a1a1a" stroke-width="1.1"/>
<line x1="437.2" y1="310.5" x2="437.2" y2="315.3" stroke="#1a1a1a" stroke-width="1.1"/>
<text x="0" y="0" font-size="10.5" text-anchor="middle" fill="#1a1a1a" transform="translate(360,253.8) rotate(-90)">Membrane</text>
<text x="0" y="0" font-size="10.5" text-anchor="middle" fill="#1a1a1a" transform="translate(371.8,253.9) rotate(-90)">capacitance (pF)</text>
<text x="410" y="203.8" font-size="8" fill="#333"><tspan font-style="italic">p</tspan> &lt; 0.0001</text>
<line x1="417.2" y1="206" x2="437.7" y2="206" stroke="#777" stroke-width="0.8"/>
<circle cx="416.5" cy="218" r="1.05" fill="#505050"/>
<circle cx="418.4" cy="218" r="1.05" fill="#505050"/>
<circle cx="417.9" cy="226.6" r="1.05" fill="#505050"/>
<circle cx="416.5" cy="234.1" r="1.05" fill="#505050"/>
<circle cx="419.3" cy="235.5" r="1.05" fill="#505050"/>
<circle cx="416.5" cy="240.7" r="1.05" fill="#505050"/>
<circle cx="418.4" cy="241.1" r="1.05" fill="#505050"/>
<circle cx="417.9" cy="245.4" r="1.05" fill="#505050"/>
<circle cx="417.9" cy="249.7" r="1.05" fill="#505050"/>
<circle cx="419.8" cy="249.7" r="1.05" fill="#505050"/>
<circle cx="415.4" cy="253.7" r="1.05" fill="#505050"/>
<circle cx="417.9" cy="253.7" r="1.05" fill="#505050"/>
<circle cx="420.3" cy="253.7" r="1.05" fill="#505050"/>
<circle cx="416.5" cy="257.5" r="1.05" fill="#505050"/>
<circle cx="418.8" cy="257.5" r="1.05" fill="#505050"/>
<circle cx="415" cy="260.5" r="1.05" fill="#505050"/>
<circle cx="417.9" cy="260.5" r="1.05" fill="#505050"/>
<circle cx="420.3" cy="260.5" r="1.05" fill="#505050"/>
<circle cx="414.1" cy="264" r="1.05" fill="#505050"/>
<circle cx="416.9" cy="264" r="1.05" fill="#505050"/>
<circle cx="419.8" cy="264" r="1.05" fill="#505050"/>
<circle cx="412.2" cy="267.5" r="1.05" fill="#505050"/>
<circle cx="415" cy="267.5" r="1.05" fill="#505050"/>
<circle cx="417.9" cy="267.5" r="1.05" fill="#505050"/>
<circle cx="420.7" cy="267.5" r="1.05" fill="#505050"/>
<circle cx="412.8" cy="271" r="1.05" fill="#505050"/>
<circle cx="416" cy="271" r="1.05" fill="#505050"/>
<circle cx="418.8" cy="271" r="1.05" fill="#505050"/>
<circle cx="421.6" cy="271" r="1.05" fill="#505050"/>
<circle cx="412.2" cy="273.6" r="1.05" fill="#505050"/>
<circle cx="415.4" cy="273.6" r="1.05" fill="#505050"/>
<circle cx="418.8" cy="273.6" r="1.05" fill="#505050"/>
<circle cx="422.2" cy="273.6" r="1.05" fill="#505050"/>
<circle cx="414.1" cy="276.5" r="1.05" fill="#505050"/>
<circle cx="416.9" cy="276.5" r="1.05" fill="#505050"/>
<circle cx="420.3" cy="276.5" r="1.05" fill="#505050"/>
<circle cx="415" cy="280" r="1.05" fill="#505050"/>
<circle cx="417.9" cy="280" r="1.05" fill="#505050"/>
<circle cx="420.7" cy="280" r="1.05" fill="#505050"/>
<circle cx="416.5" cy="284.3" r="1.05" fill="#505050"/>
<circle cx="418.8" cy="284.3" r="1.05" fill="#505050"/>
<circle cx="416.9" cy="288.5" r="1.05" fill="#505050"/>
<circle cx="418.8" cy="288.5" r="1.05" fill="#505050"/>
<circle cx="417.3" cy="292.4" r="1.05" fill="#505050"/>
<line x1="410.9" y1="267" x2="424.4" y2="267" stroke="#333" stroke-width="0.9"/>
<line x1="417.9" y1="258" x2="417.9" y2="276" stroke="#333" stroke-width="0.8"/>
<circle cx="443.82" cy="300.8" r="1.2" fill="#2f8593"/>
<circle cx="436.45" cy="307.87" r="1.2" fill="#2f8593"/>
<circle cx="433.07" cy="304.9" r="1.2" fill="#2f8593"/>
<circle cx="443.88" cy="308.69" r="1.2" fill="#2f8593"/>
<circle cx="434.27" cy="308.71" r="1.2" fill="#2f8593"/>
<circle cx="440.89" cy="307.22" r="1.2" fill="#2f8593"/>
<circle cx="438.32" cy="305.98" r="1.2" fill="#2f8593"/>
<circle cx="434.31" cy="304.24" r="1.2" fill="#2f8593"/>
<circle cx="439.45" cy="305.75" r="1.2" fill="#2f8593"/>
<circle cx="443.03" cy="304.66" r="1.2" fill="#2f8593"/>
<circle cx="429.41" cy="304.66" r="1.2" fill="#2f8593"/>
<circle cx="437.99" cy="306.31" r="1.2" fill="#2f8593"/>
<circle cx="437.32" cy="303.54" r="1.2" fill="#2f8593"/>
<circle cx="441.9" cy="303.9" r="1.2" fill="#2f8593"/>
<circle cx="439.39" cy="304.77" r="1.2" fill="#2f8593"/>
<circle cx="433.27" cy="308.69" r="1.2" fill="#2f8593"/>
<circle cx="429.07" cy="303.48" r="1.2" fill="#2f8593"/>
<circle cx="438.5" cy="304.62" r="1.2" fill="#2f8593"/>
<circle cx="439.52" cy="305.21" r="1.2" fill="#2f8593"/>
<circle cx="435.67" cy="309" r="1.2" fill="#2f8593"/>
<circle cx="436.42" cy="305.08" r="1.2" fill="#2f8593"/>
<circle cx="433.66" cy="303.73" r="1.2" fill="#2f8593"/>
<circle cx="439.21" cy="306.75" r="1.2" fill="#2f8593"/>
<circle cx="437.13" cy="303.84" r="1.2" fill="#2f8593"/>
<circle cx="439.33" cy="301.53" r="1.2" fill="#2f8593"/>
<circle cx="436.04" cy="304.87" r="1.2" fill="#2f8593"/>
<circle cx="437.6" cy="299.9" r="1.25" fill="#2f8593"/>
<circle cx="436.5" cy="302" r="1.25" fill="#2f8593"/>
<circle cx="438.8" cy="302.5" r="1.25" fill="#2f8593"/>
<circle cx="431.5" cy="305.5" r="1.25" fill="#2f8593"/>
<circle cx="443.5" cy="305.5" r="1.25" fill="#2f8593"/>
<circle cx="434" cy="306.5" r="1.25" fill="#2f8593"/>
<circle cx="441" cy="306.8" r="1.25" fill="#2f8593"/>
<circle cx="437.2" cy="307.5" r="1.25" fill="#2f8593"/>
<line x1="431" y1="305.8" x2="443.5" y2="305.8" stroke="#2f8593" stroke-width="1"/>
<text x="0" y="0" font-size="8" text-anchor="end" fill="#1a1a1a" transform="translate(421.9,321.4) rotate(-30)">Ngn2 + shNC</text>
<text x="0" y="0" font-size="8" text-anchor="end" fill="#1a1a1a" transform="translate(441.2,321.4) rotate(-30)">Ngn2 + shOlig2</text>
<line x1="529.4" y1="189.5" x2="529.4" y2="266.3" stroke="#1a1a1a" stroke-width="1.1"/>
<line x1="524.2" y1="189.8" x2="529.4" y2="189.8" stroke="#1a1a1a" stroke-width="1.1"/>
<text x="523.1" y="193.1" font-size="9.2" font-weight="bold" text-anchor="end" fill="#1a1a1a">1200</text>
<line x1="524.2" y1="216.4" x2="529.4" y2="216.4" stroke="#1a1a1a" stroke-width="1.1"/>
<text x="523.1" y="219.7" font-size="9.2" font-weight="bold" text-anchor="end" fill="#1a1a1a">800</text>
<line x1="524.2" y1="242.7" x2="529.4" y2="242.7" stroke="#1a1a1a" stroke-width="1.1"/>
<text x="523.1" y="246" font-size="9.2" font-weight="bold" text-anchor="end" fill="#1a1a1a">400</text>
<line x1="526.3" y1="266.3" x2="532.3" y2="266.3" stroke="#1a1a1a" stroke-width="1.1"/>
<line x1="529.4" y1="275.4" x2="529.4" y2="308.4" stroke="#1a1a1a" stroke-width="1.1"/>
<line x1="526.3" y1="275.4" x2="532.3" y2="275.4" stroke="#1a1a1a" stroke-width="1.1"/>
<line x1="524.2" y1="275.6" x2="529.4" y2="275.6" stroke="#1a1a1a" stroke-width="1.1"/>
<text x="523.1" y="278.9" font-size="9.2" font-weight="bold" text-anchor="end" fill="#1a1a1a">10</text>
<line x1="524.2" y1="292.4" x2="529.4" y2="292.4" stroke="#1a1a1a" stroke-width="1.1"/>
<text x="523.1" y="295.7" font-size="9.2" font-weight="bold" text-anchor="end" fill="#1a1a1a">5</text>
<line x1="524.2" y1="308.4" x2="529.4" y2="308.4" stroke="#1a1a1a" stroke-width="1.1"/>
<text x="523.1" y="311.7" font-size="9.2" font-weight="bold" text-anchor="end" fill="#1a1a1a">0</text>
<line x1="524.2" y1="308.4" x2="578.9" y2="308.4" stroke="#1a1a1a" stroke-width="1.1"/>
<line x1="542.6" y1="308.4" x2="542.6" y2="313.3" stroke="#1a1a1a" stroke-width="1.1"/>
<line x1="562.5" y1="308.4" x2="562.5" y2="313.3" stroke="#1a1a1a" stroke-width="1.1"/>
<text x="0" y="0" font-size="10.5" text-anchor="middle" fill="#1a1a1a" transform="translate(471.7,256.3) rotate(-90)">Membrane</text>
<text x="0" y="0" font-size="10.7" text-anchor="middle" fill="#1a1a1a" transform="translate(484.7,256.2) rotate(-90)">input resistance</text>
<text x="0" y="0" font-size="10.5" text-anchor="middle" fill="#1a1a1a" transform="translate(495.7,256.3) rotate(-90)">(M&#937;)</text>
<text x="533.2" y="187.2" font-size="8" fill="#333"><tspan font-style="italic">p</tspan> &lt; 0.0001</text>
<line x1="540.9" y1="189.3" x2="561.6" y2="189.3" stroke="#777" stroke-width="0.8"/>
<circle cx="562.1" cy="196.5" r="1.15" fill="#2f8593"/>
<circle cx="562.1" cy="205.08" r="1.15" fill="#2f8593"/>
<circle cx="565.2" cy="205.08" r="1.15" fill="#2f8593"/>
<circle cx="562.1" cy="240.72" r="1.15" fill="#2f8593"/>
<circle cx="565.2" cy="240.72" r="1.15" fill="#2f8593"/>
<circle cx="562.1" cy="247.32" r="1.15" fill="#2f8593"/>
<circle cx="563.8" cy="249.96" r="1.15" fill="#2f8593"/>
<circle cx="560.9" cy="251.28" r="1.15" fill="#2f8593"/>
<circle cx="565.5" cy="252.6" r="1.15" fill="#2f8593"/>
<circle cx="558.5" cy="253.26" r="1.15" fill="#2f8593"/>
<circle cx="562.1" cy="254.25" r="1.15" fill="#2f8593"/>
<circle cx="567.2" cy="255.24" r="1.15" fill="#2f8593"/>
<circle cx="556.8" cy="255.9" r="1.15" fill="#2f8593"/>
<circle cx="570.2" cy="256.23" r="1.15" fill="#2f8593"/>
<circle cx="563.8" cy="256.89" r="1.15" fill="#2f8593"/>
<circle cx="560.7" cy="257.22" r="1.15" fill="#2f8593"/>
<circle cx="554.4" cy="257.88" r="1.15" fill="#2f8593"/>
<circle cx="566.5" cy="258.54" r="1.15" fill="#2f8593"/>
<circle cx="558.3" cy="259.2" r="1.15" fill="#2f8593"/>
<circle cx="562.4" cy="259.86" r="1.15" fill="#2f8593"/>
<circle cx="568.6" cy="260.85" r="1.15" fill="#2f8593"/>
<circle cx="560" cy="261.84" r="1.15" fill="#2f8593"/>
<circle cx="563.3" cy="262.83" r="1.15" fill="#2f8593"/>
<circle cx="566.3" cy="263.82" r="1.15" fill="#2f8593"/>
<circle cx="558.3" cy="264.48" r="1.15" fill="#2f8593"/>
<line x1="555.5" y1="257" x2="569" y2="257" stroke="#2f8593" stroke-width="1"/>
<circle cx="542.6" cy="287.08" r="1.2" fill="#6a6a6a"/>
<circle cx="544.1" cy="287.08" r="1.2" fill="#6a6a6a"/>
<circle cx="542.6" cy="288.9" r="1.2" fill="#6a6a6a"/>
<circle cx="544" cy="289.38" r="1.2" fill="#6a6a6a"/>
<circle cx="542.6" cy="291.24" r="1.2" fill="#6a6a6a"/>
<circle cx="544.1" cy="291.4" r="1.2" fill="#6a6a6a"/>
<circle cx="541.9" cy="292.56" r="1.2" fill="#6a6a6a"/>
<circle cx="543.4" cy="292.75" r="1.2" fill="#6a6a6a"/>
<circle cx="540.6" cy="293.33" r="1.2" fill="#6a6a6a"/>
<circle cx="544.6" cy="293.57" r="1.2" fill="#6a6a6a"/>
<circle cx="546.1" cy="293.64" r="1.2" fill="#6a6a6a"/>
<circle cx="539.2" cy="293.71" r="1.2" fill="#6a6a6a"/>
<circle cx="537.7" cy="293.85" r="1.2" fill="#6a6a6a"/>
<circle cx="542.5" cy="293.94" r="1.2" fill="#6a6a6a"/>
<circle cx="547.5" cy="294.17" r="1.2" fill="#6a6a6a"/>
<circle cx="541.2" cy="294.66" r="1.2" fill="#6a6a6a"/>
<circle cx="543.6" cy="294.97" r="1.2" fill="#6a6a6a"/>
<circle cx="545" cy="295.38" r="1.2" fill="#6a6a6a"/>
<circle cx="539.9" cy="295.42" r="1.2" fill="#6a6a6a"/>
<circle cx="546.5" cy="295.49" r="1.2" fill="#6a6a6a"/>
<circle cx="538.4" cy="295.59" r="1.2" fill="#6a6a6a"/>
<circle cx="542.5" cy="296" r="1.2" fill="#6a6a6a"/>
<circle cx="547.8" cy="296.18" r="1.2" fill="#6a6a6a"/>
<circle cx="543.8" cy="296.68" r="1.2" fill="#6a6a6a"/>
<circle cx="542.6" cy="297.55" r="1.2" fill="#6a6a6a"/>
<circle cx="541.2" cy="298.01" r="1.2" fill="#6a6a6a"/>
<circle cx="544.2" cy="298.09" r="1.2" fill="#6a6a6a"/>
<circle cx="539.8" cy="298.41" r="1.2" fill="#6a6a6a"/>
<circle cx="545.6" cy="298.52" r="1.2" fill="#6a6a6a"/>
<circle cx="538.3" cy="298.67" r="1.2" fill="#6a6a6a"/>
<circle cx="547.1" cy="298.82" r="1.2" fill="#6a6a6a"/>
<circle cx="542.6" cy="299.21" r="1.2" fill="#6a6a6a"/>
<circle cx="536.9" cy="299.25" r="1.2" fill="#6a6a6a"/>
<circle cx="541.1" cy="299.54" r="1.2" fill="#6a6a6a"/>
<circle cx="544.1" cy="299.55" r="1.2" fill="#6a6a6a"/>
<circle cx="545.5" cy="300.12" r="1.2" fill="#6a6a6a"/>
<circle cx="539.8" cy="300.23" r="1.2" fill="#6a6a6a"/>
<circle cx="538.3" cy="300.28" r="1.2" fill="#6a6a6a"/>
<circle cx="542.6" cy="300.77" r="1.2" fill="#6a6a6a"/>
<circle cx="546.7" cy="300.96" r="1.2" fill="#6a6a6a"/>
<circle cx="548.2" cy="300.96" r="1.2" fill="#6a6a6a"/>
<circle cx="544" cy="301.38" r="1.2" fill="#6a6a6a"/>
<circle cx="541.5" cy="301.82" r="1.2" fill="#6a6a6a"/>
<circle cx="540" cy="301.93" r="1.2" fill="#6a6a6a"/>
<circle cx="545.3" cy="302.11" r="1.2" fill="#6a6a6a"/>
<circle cx="542.8" cy="302.6" r="1.2" fill="#6a6a6a"/>
<circle cx="542.6" cy="304.33" r="1.2" fill="#6a6a6a"/>
<circle cx="542.6" cy="306.43" r="1.2" fill="#6a6a6a"/>
<circle cx="544.1" cy="306.43" r="1.2" fill="#6a6a6a"/>
<line x1="536" y1="298.5" x2="549" y2="298.5" stroke="#333" stroke-width="0.9"/>
<text x="0" y="0" font-size="8" text-anchor="end" fill="#1a1a1a" transform="translate(546.6,319.6) rotate(-30)">Ngn2 + shNC</text>
<text x="0" y="0" font-size="8" text-anchor="end" fill="#1a1a1a" transform="translate(566.5,319.6) rotate(-30)">Ngn2 + shOlig2</text>
<line x1="627.5" y1="190" x2="627.5" y2="308.5" stroke="#1a1a1a" stroke-width="1.1"/>
<line x1="622.2" y1="190" x2="627.5" y2="190" stroke="#1a1a1a" stroke-width="1.1"/>
<text x="621.3" y="193.4" font-size="9.5" font-weight="bold" text-anchor="end" fill="#1a1a1a">-20</text>
<line x1="622.2" y1="229.3" x2="627.5" y2="229.3" stroke="#1a1a1a" stroke-width="1.1"/>
<text x="621.3" y="232.7" font-size="9.5" font-weight="bold" text-anchor="end" fill="#1a1a1a">-40</text>
<line x1="622.2" y1="268.9" x2="627.5" y2="268.9" stroke="#1a1a1a" stroke-width="1.1"/>
<text x="621.3" y="272.3" font-size="9.5" font-weight="bold" text-anchor="end" fill="#1a1a1a">-60</text>
<line x1="622.2" y1="308.5" x2="627.5" y2="308.5" stroke="#1a1a1a" stroke-width="1.1"/>
<text x="621.3" y="311.9" font-size="9.5" font-weight="bold" text-anchor="end" fill="#1a1a1a">-80</text>
<line x1="622.2" y1="308.5" x2="674.4" y2="308.5" stroke="#1a1a1a" stroke-width="1.1"/>
<line x1="640.8" y1="308.5" x2="640.8" y2="313.4" stroke="#1a1a1a" stroke-width="1.1"/>
<line x1="660.7" y1="308.5" x2="660.7" y2="313.4" stroke="#1a1a1a" stroke-width="1.1"/>
<text x="0" y="0" font-size="10.5" text-anchor="middle" fill="#1a1a1a" transform="translate(601.5,251.8) rotate(-90)">RMP (mV)</text>
<text x="632" y="218.3" font-size="8" fill="#333"><tspan font-style="italic">p</tspan> = 0.0154</text>
<line x1="639.4" y1="220.3" x2="659.9" y2="220.3" stroke="#777" stroke-width="0.8"/>
<circle cx="640.8" cy="245.62" r="1.1" fill="#5a5a5a"/>
<circle cx="640.8" cy="251.51" r="1.1" fill="#5a5a5a"/>
<circle cx="643.3" cy="251.51" r="1.1" fill="#5a5a5a"/>
<circle cx="640.8" cy="257.41" r="1.1" fill="#5a5a5a"/>
<circle cx="642.4" cy="259.38" r="1.1" fill="#5a5a5a"/>
<circle cx="640.8" cy="261.34" r="1.1" fill="#5a5a5a"/>
<circle cx="642.4" cy="263.31" r="1.1" fill="#5a5a5a"/>
<circle cx="640.8" cy="265.27" r="1.1" fill="#5a5a5a"/>
<circle cx="642.4" cy="267.24" r="1.1" fill="#5a5a5a"/>
<circle cx="640.1" cy="268.22" r="1.1" fill="#5a5a5a"/>
<circle cx="637.8" cy="269.2" r="1.1" fill="#5a5a5a"/>
<circle cx="641.7" cy="270.18" r="1.1" fill="#5a5a5a"/>
<circle cx="639.4" cy="271.17" r="1.1" fill="#5a5a5a"/>
<circle cx="641" cy="273.13" r="1.1" fill="#5a5a5a"/>
<circle cx="639.4" cy="275.1" r="1.1" fill="#5a5a5a"/>
<circle cx="641.7" cy="276.08" r="1.1" fill="#5a5a5a"/>
<circle cx="637.8" cy="277.06" r="1.1" fill="#5a5a5a"/>
<circle cx="644" cy="277.06" r="1.1" fill="#5a5a5a"/>
<circle cx="640.1" cy="278.04" r="1.1" fill="#5a5a5a"/>
<circle cx="642.4" cy="279.02" r="1.1" fill="#5a5a5a"/>
<circle cx="636.2" cy="279.02" r="1.1" fill="#5a5a5a"/>
<circle cx="638.5" cy="280.01" r="1.1" fill="#5a5a5a"/>
<circle cx="640.8" cy="280.99" r="1.1" fill="#5a5a5a"/>
<circle cx="642.4" cy="282.95" r="1.1" fill="#5a5a5a"/>
<circle cx="639.2" cy="282.95" r="1.1" fill="#5a5a5a"/>
<circle cx="640.8" cy="284.92" r="1.1" fill="#5a5a5a"/>
<circle cx="642.4" cy="286.88" r="1.1" fill="#5a5a5a"/>
<circle cx="640.8" cy="288.85" r="1.1" fill="#5a5a5a"/>
<circle cx="638.3" cy="288.85" r="1.1" fill="#5a5a5a"/>
<circle cx="642.4" cy="290.81" r="1.1" fill="#5a5a5a"/>
<circle cx="640.8" cy="292.78" r="1.1" fill="#5a5a5a"/>
<circle cx="640.8" cy="295.73" r="1.1" fill="#5a5a5a"/>
<line x1="634" y1="277.8" x2="647.4" y2="277.8" stroke="#333" stroke-width="0.9"/>
<circle cx="660.7" cy="231.87" r="1.15" fill="#2f8593"/>
<circle cx="660.7" cy="237.76" r="1.15" fill="#2f8593"/>
<circle cx="660.7" cy="249.55" r="1.15" fill="#2f8593"/>
<circle cx="660.7" cy="253.48" r="1.15" fill="#2f8593"/>
<circle cx="663.3" cy="255.44" r="1.15" fill="#2f8593"/>
<circle cx="658.1" cy="255.44" r="1.15" fill="#2f8593"/>
<circle cx="666.4" cy="256.43" r="1.15" fill="#2f8593"/>
<circle cx="660.7" cy="259.38" r="1.15" fill="#2f8593"/>
<circle cx="663.3" cy="261.34" r="1.15" fill="#2f8593"/>
<circle cx="660.7" cy="263.31" r="1.15" fill="#2f8593"/>
<circle cx="663.3" cy="265.27" r="1.15" fill="#2f8593"/>
<circle cx="660.7" cy="267.24" r="1.15" fill="#2f8593"/>
<circle cx="660.7" cy="271.17" r="1.15" fill="#2f8593"/>
<circle cx="663.3" cy="273.13" r="1.15" fill="#2f8593"/>
<circle cx="660.7" cy="275.1" r="1.15" fill="#2f8593"/>
<circle cx="663.3" cy="277.06" r="1.15" fill="#2f8593"/>
<circle cx="660.7" cy="279.02" r="1.15" fill="#2f8593"/>
<circle cx="657.5" cy="279.02" r="1.15" fill="#2f8593"/>
<circle cx="663.3" cy="280.99" r="1.15" fill="#2f8593"/>
<circle cx="660.7" cy="282.95" r="1.15" fill="#2f8593"/>
<circle cx="663.3" cy="284.92" r="1.15" fill="#2f8593"/>
<circle cx="658.1" cy="284.92" r="1.15" fill="#2f8593"/>
<line x1="654" y1="268.6" x2="667.5" y2="268.6" stroke="#2f8593" stroke-width="1"/>
<text x="0" y="0" font-size="8" text-anchor="end" fill="#1a1a1a" transform="translate(644.8,319.7) rotate(-30)">Ngn2 + shNC</text>
<text x="0" y="0" font-size="8" text-anchor="end" fill="#1a1a1a" transform="translate(664.7,319.7) rotate(-30)">Ngn2 + shOlig2</text>
<text x="47.8" y="391.1" font-size="12" fill="#1a1a1a">sEPSCs HP -70 mV</text>
<text x="0" y="0" font-size="12" text-anchor="middle" fill="#1a1a1a" transform="translate(11.99,440.7) rotate(-90)">Ngn2 +</text>
<text x="0" y="0" font-size="12" text-anchor="middle" fill="#1a1a1a" transform="translate(26.25,443.2) rotate(-90)">shNC</text>
<text x="0" y="0" font-size="12.3" text-anchor="middle" fill="#1a1a1a" transform="translate(12.41,537) rotate(-90)">Ngn2 +</text>
<text x="0" y="0" font-size="12.3" text-anchor="middle" fill="#1a1a1a" transform="translate(26.37,539.6) rotate(-90)">shOlig2</text>
<path d="M48.2,420.52 L48.7,420.46 L49.2,418.59 L49.7,418.4 L50.2,420.16 L50.7,419.9 L51.2,419.87 L51.7,420.32 L52.2,418.01 L52.7,419.94 L53.2,420.26 L53.7,418.98 L54.2,418.67 L54.7,419.44 L55.2,419.97 L55.7,419.92 L56.2,417.69 L56.7,420.1 L57.2,417.46 L57.7,418.46 L58.2,420.14 L58.7,418.81 L59.2,420.24 L59.7,419.1 L60.2,420.15 L60.7,419.12 L61.2,419.64 L61.7,420.62 L62.2,419.52 L62.7,419.37 L63.2,415.69 L63.7,420.45 L64.2,418.29 L64.7,420.85 L65.2,419.7 L65.7,421.14 L66.2,419.05 L66.7,418.72 L67.2,421.01 L67.7,421.5 L68.2,418.72 L68.7,420.69 L69.2,421.54 L69.7,420.59 L70.2,420.47 L70.7,416.17 L71.2,420.82 L71.7,419.05 L72.2,420.81 L72.7,421.29 L73.2,421.29 L73.7,422.01 L74.2,420.52 L74.7,421.63 L75.2,421.62 L75.7,420.29 L76.2,420.89 L76.7,421.54 L77.2,421.08 L77.7,421.55 L78.2,421.91 L78.7,422.51 L79.2,421.95 L79.7,419.07 L80.2,421.25 L80.7,421.27 L81.2,420.85 L81.7,420.32 L82.2,421.59 L82.7,421.43 L83.2,420.78 L83.7,420.5 L84.2,419.77 L84.7,419.57 L85.2,420.89 L85.7,420.78 L86.2,417.2 L86.7,419.34 L87.2,420.82 L87.7,419.69 L88.2,420.83 L88.7,420.1 L89.2,420.93 L89.7,420.28 L90.2,419.37 L90.7,421.28 L91.2,421.41 L91.7,421.3 L92.2,420.93 L92.7,421.85 L93.2,420.19 L93.7,420.55 L94.2,419.17 L94.7,419.07 L95.2,419.6 L95.7,420.36 L96.2,419.58 L96.7,420.91 L97.2,422.03 L97.7,419.27 L98.2,420.6 L98.7,420.99 L99.2,422.09 L99.7,422.49 L100.2,421.11 L100.7,421.99 L101.2,421.9 L101.7,421.1 L102.2,421.03 L102.7,420.91 L103.2,422.2 L103.7,422.58 L104.2,421.25 L104.7,421.24 L105.2,423.1 L105.7,422.95 L106.2,420.55 L106.7,422.2 L107.2,422.34 L107.7,421.37 L108.2,421.68 L108.7,420.55 L109.2,420.91 L109.7,420.25 L110.2,420.66 L110.7,422.12 L111.2,420.91 L111.7,422.72 L112.2,422.08 L112.7,421.72 L113.2,418.67 L113.7,419.27 L114.2,420.91 L114.7,421.41 L115.2,422.78 L115.7,419.95 L116.2,421.83 L116.7,421.4 L117.2,421.98 L117.7,421.67 L118.2,421.46 L118.7,420.09 L119.2,421.59 L119.7,420.72 L120.2,421.48 L120.7,421.21 L121.2,420.17 L121.7,421.12 L122.2,420.93 L122.7,420.74 L123.2,419.87 L123.7,420.78 L124.2,419.92 L124.7,418.89 L125.2,420.38 L125.7,420.36 L126.2,420.27 L126.7,420.12 L127.2,419.68 L127.7,420.28 L128.2,420.77 L128.7,420.29 L129.2,422.01 L129.7,421.29 L130.2,419.43 L130.7,419.54 L131.2,418.88 L131.7,421.24 L132.2,421.77 L132.7,421.55 L133.2,420.33 L133.7,418.3 L134.2,420.84 L134.7,420.31 L135.2,418.16 L135.7,420.8 L136.2,419.66 L136.7,420.44 L137.2,418.97 L137.7,420.75 L138.2,418.33 L138.7,420.16 L139.2,419.07 L139.7,419.67 L140.2,418.72 L140.7,418.27 L141.2,421.2 L141.7,420.18 L142.2,418.46 L142.7,421.56 L143.2,421.27 L143.7,419.79 L144.2,419.89 L144.7,420.66 L145.2,420.33 L145.7,419.9 L146.2,420 L146.7,417.74 L147.2,419.17 L147.7,420.09 L148.2,419.57 L148.7,419.27 L149.2,417.22 L149.7,417.53 L150.2,416.96 L150.7,418.15 L151.2,418.87 L151.7,418.57 L152.2,418.13 L152.7,419 L153.2,417.52 L153.7,417.64 L154.2,418.89 L154.7,419.83 L155.2,420.66 L155.7,420.05 L156.2,420.28 L156.7,420.23 L157.2,420.11 L157.7,419.37 L158.2,420.26 L158.7,419.7 L159.2,418.71 L159.7,420.99 L160.2,420.24 L160.7,420.55 L161.2,417.39 L161.7,420.39 L162.2,419.19 L162.7,419.88 L163.2,419.17 L163.7,418.45 L164.2,421.22 L164.7,421.11 L165.2,421.62 L165.7,419.89 L165.7,428.32 L165.2,428.01 L164.7,429.63 L164.2,429.44 L163.7,427.81 L163.2,429.14 L162.7,429.04 L162.2,429.83 L161.7,429.03 L161.2,427.78 L160.7,427.68 L160.2,429.8 L159.7,427.62 L159.2,429.82 L158.7,428.04 L158.2,428.42 L157.7,427.7 L157.2,427.99 L156.7,428.45 L156.2,427.14 L155.7,427.04 L155.2,430.52 L154.7,426.83 L154.2,428.06 L153.7,428.68 L153.2,427.5 L152.7,426.94 L152.2,428.93 L151.7,428.06 L151.2,426.34 L150.7,426.6 L150.2,428.66 L149.7,426.66 L149.2,429.39 L148.7,427.94 L148.2,426.79 L147.7,426.56 L147.2,427.14 L146.7,427.31 L146.2,427.12 L145.7,431.05 L145.2,427.71 L144.7,427.59 L144.2,428.31 L143.7,429.17 L143.2,429.08 L142.7,428.58 L142.2,429.45 L141.7,428.99 L141.2,429.69 L140.7,428.62 L140.2,428 L139.7,427.61 L139.2,428.01 L138.7,427.42 L138.2,427.09 L137.7,429.41 L137.2,427.6 L136.7,428.05 L136.2,427.9 L135.7,428.17 L135.2,428.47 L134.7,428.04 L134.2,430.36 L133.7,429.78 L133.2,427.93 L132.7,428.29 L132.2,431.3 L131.7,427.88 L131.2,428.8 L130.7,429 L130.2,428.79 L129.7,430.56 L129.2,429.23 L128.7,428.67 L128.2,428.65 L127.7,429.41 L127.2,428.66 L126.7,428.23 L126.2,428.18 L125.7,429.02 L125.2,430.9 L124.7,430.91 L124.2,428.34 L123.7,428.88 L123.2,428.87 L122.7,427.39 L122.2,428.22 L121.7,428.21 L121.2,429.14 L120.7,429.29 L120.2,427.76 L119.7,428.28 L119.2,429.24 L118.7,430.35 L118.2,430.88 L117.7,430.36 L117.2,429.29 L116.7,430.29 L116.2,430.6 L115.7,429.42 L115.2,430.95 L114.7,429.25 L114.2,429.17 L113.7,430.6 L113.2,432.55 L112.7,430.71 L112.2,429.5 L111.7,430.93 L111.2,432.54 L110.7,429.96 L110.2,430.86 L109.7,431.19 L109.2,431.08 L108.7,429.5 L108.2,431.74 L107.7,431.9 L107.2,430.24 L106.7,431.07 L106.2,430.09 L105.7,430.27 L105.2,430.34 L104.7,431.6 L104.2,430.59 L103.7,429.87 L103.2,431.24 L102.7,429.48 L102.2,429.59 L101.7,431.79 L101.2,431.16 L100.7,430.13 L100.2,431.55 L99.7,430.23 L99.2,428.83 L98.7,429.87 L98.2,429.27 L97.7,429.25 L97.2,428.83 L96.7,428.29 L96.2,429.03 L95.7,428.49 L95.2,428.73 L94.7,430.32 L94.2,429.17 L93.7,429.38 L93.2,428.29 L92.7,430.58 L92.2,430.95 L91.7,428.1 L91.2,429.51 L90.7,429.07 L90.2,429.46 L89.7,428.43 L89.2,428.16 L88.7,427.56 L88.2,429.19 L87.7,427.69 L87.2,428.62 L86.7,427.45 L86.2,427.66 L85.7,427.79 L85.2,427.79 L84.7,429.13 L84.2,427.96 L83.7,432.54 L83.2,427.84 L82.7,428.39 L82.2,428.71 L81.7,428.25 L81.2,432.4 L80.7,429.08 L80.2,430.54 L79.7,431.55 L79.2,428.55 L78.7,430.84 L78.2,430.03 L77.7,428.6 L77.2,431.45 L76.7,430.96 L76.2,429.31 L75.7,429.13 L75.2,429.46 L74.7,431.56 L74.2,431.26 L73.7,429.25 L73.2,432.91 L72.7,428.47 L72.2,428.5 L71.7,429.96 L71.2,429.34 L70.7,429.01 L70.2,430.68 L69.7,429.57 L69.2,429.11 L68.7,429.41 L68.2,429.5 L67.7,427.84 L67.2,430.96 L66.7,428.26 L66.2,427.6 L65.7,427.79 L65.2,428.01 L64.7,428.78 L64.2,427.52 L63.7,429.1 L63.2,428.06 L62.7,429.31 L62.2,427.42 L61.7,428.47 L61.2,430.35 L60.7,429.08 L60.2,427.47 L59.7,427.79 L59.2,426.78 L58.7,427.33 L58.2,427.29 L57.7,426.66 L57.2,428.58 L56.7,426.82 L56.2,427.78 L55.7,427.43 L55.2,429.34 L54.7,426.59 L54.2,427.23 L53.7,427.02 L53.2,428.41 L52.7,429.42 L52.2,427.55 L51.7,427.72 L51.2,428.26 L50.7,428.67 L50.2,427.64 L49.7,428.46 L49.2,427.55 L48.7,429.13 L48.2,428.5 Z" fill="#777777" opacity="1.0"/>
<rect x="73.3" y="406.4" width="13.3" height="37.9" fill="none" stroke="#555" stroke-width="0.7"/>
<line x1="73.3" y1="444.3" x2="48.2" y2="451.5" stroke="#555" stroke-width="0.7"/>
<line x1="86.6" y1="444.3" x2="165.2" y2="451.5" stroke="#555" stroke-width="0.7"/>
<rect x="48.2" y="451.5" width="117" height="9.2" fill="none" stroke="#555" stroke-width="0.7"/>
<path d="M50,454.93 L50.6,455.18 L51.2,455.16 L51.8,455.31 L52.4,455.25 L53,455.14 L53.6,456.1 L54.2,455.54 L54.8,455.42 L55.4,455.44 L56,455.52 L56.6,456.17 L57.2,455.84 L57.8,456.11 L58.4,454.36 L59,455.78 L59.6,456.09 L60.2,456.4 L60.8,455.58 L61.4,454.93 L62,455.84 L62.6,455.34 L63.2,454.9 L63.8,455.39 L64.4,455.96 L65,456.07 L65.6,455.93 L66.2,455.3 L66.8,456.89 L67.4,455.47 L68,455.97 L68.6,455.51 L69.2,456.54 L69.8,456.37 L70.4,456.63 L71,456.47 L71.6,456.55 L72.2,456.72 L72.8,455.97 L73.4,457.28 L74,457.26 L74.6,456.75 L75.2,456.92 L75.8,457.16 L76.4,457.58 L77,457.1 L77.6,457.01 L78.2,456.74 L78.8,456.28 L79.4,456.63 L80,456.82 L80.6,456.65 L81.2,456.77 L81.8,457.07 L82.4,457.1 L83,457.05 L83.6,457.25 L84.2,457.18 L84.8,457.2 L85.4,457.33 L86,456.51 L86.6,457.71 L87.2,456.65 L87.8,457.47 L88.4,457.2 L89,457.59 L89.6,457.05 L90.2,456.64 L90.8,457.36 L91.4,456.99 L92,456.94 L92.6,456.88 L93.2,457.23 L93.8,457.06 L94.4,456.65 L95,455.78 L95.6,456.04 L96.2,456.28 L96.8,456.91 L97.4,456.31 L98,456.18 L98.6,456.65 L99.2,456.2 L99.8,456.26 L100.4,456.36 L101,455.86 L101.6,456.85 L102.2,456.56 L102.8,456.34 L103.4,455.99 L104,456.49 L104.6,456.93 L105.2,456.22 L105.8,455.97 L106.4,456.46 L107,455.55 L107.6,455.26 L108.2,455.9 L108.8,455.71 L109.4,455.83 L110,455.61 L110.6,455.91 L111.2,455.71 L111.8,455.69 L112.4,455.83 L113,456.38 L113.6,456.6 L114.2,456.55 L114.8,456.4 L115.4,454.79 L116,455.58 L116.6,455.8 L117.2,456.13 L117.8,455.43 L118.4,456.79 L119,456.44 L119.6,456.1 L120.2,456.31 L120.8,456.18 L121.4,456.05 L122,456.59 L122.6,456.19 L123.2,455.7 L123.8,455.91 L124.4,456.05 L125,455.48 L125.6,456.39 L126.2,455.5 L126.8,456.64 L127.4,456.25 L128,455.58 L128.6,455.99 L129.2,456.34 L129.8,455.76 L130.4,455.35 L131,455.89 L131.6,456.6 L132.2,455.17 L132.8,455.91 L133.4,455.85 L134,455.89 L134.6,455.83 L135.2,455.96 L135.8,456.39 L136.4,456.19 L137,455.46 L137.6,456.52 L138.2,455.41 L138.8,456.28 L139.4,456.07 L140,456.61 L140.6,456.35 L141.2,456.43 L141.8,455.98 L142.4,456.3 L143,456.05 L143.6,456.74 L144.2,455.67 L144.8,456.4 L145.4,456.03 L146,455.79 L146.6,455.44 L147.2,455.85 L147.8,454.99 L148.4,455 L149,455.88 L149.6,454.97 L150.2,456.15 L150.8,455.44 L151.4,455.83 L152,455.79 L152.6,456.01 L153.2,455.68 L153.8,455.7 L154.4,455.81 L155,456.3 L155.6,456.37 L156.2,456.48 L156.8,456.21 L157.4,455.89 L158,455.28 L158.6,456.19 L159.2,456.16 L159.8,455.67 L160.4,456.12 L161,456.31 L161.6,455.77 L162.2,456.13 L162.8,455.81 L163.4,455" stroke="#858585" stroke-width="0.8" fill="none" stroke-linejoin="round"/>
<path d="M47.2,506.65 L47.7,504.22 L48.2,506.1 L48.7,506.06 L49.2,505.63 L49.7,505.24 L50.2,507.18 L50.7,506.08 L51.2,506.61 L51.7,507.01 L52.2,505.87 L52.7,506.75 L53.2,506.25 L53.7,504.18 L54.2,505.53 L54.7,506.13 L55.2,502.56 L55.7,505.16 L56.2,505.63 L56.7,506.92 L57.2,506.41 L57.7,506.11 L58.2,507.19 L58.7,504.53 L59.2,506.77 L59.7,505.95 L60.2,504.8 L60.7,506.87 L61.2,506.48 L61.7,506.31 L62.2,505.24 L62.7,506.14 L63.2,505.38 L63.7,506.43 L64.2,505.49 L64.7,505.78 L65.2,504.74 L65.7,506.43 L66.2,506.61 L66.7,505.9 L67.2,507.13 L67.7,506.28 L68.2,506.45 L68.7,505.67 L69.2,505.74 L69.7,506.26 L70.2,506.62 L70.7,505.76 L71.2,505.43 L71.7,507.25 L72.2,506.29 L72.7,505.28 L73.2,507.33 L73.7,507.12 L74.2,506.57 L74.7,507.77 L75.2,506.83 L75.7,505.19 L76.2,506.42 L76.7,504.81 L77.2,505.72 L77.7,506.15 L78.2,506.99 L78.7,505.14 L79.2,505.95 L79.7,507.19 L80.2,506.34 L80.7,507.14 L81.2,506.35 L81.7,505.74 L82.2,505.97 L82.7,505.08 L83.2,506.47 L83.7,506.02 L84.2,504.23 L84.7,505.07 L85.2,505.55 L85.7,504.18 L86.2,504.3 L86.7,505.28 L87.2,504.75 L87.7,502.93 L88.2,505.46 L88.7,504.37 L89.2,505.73 L89.7,505.55 L90.2,505.24 L90.7,504.12 L91.2,506.17 L91.7,505.07 L92.2,504.65 L92.7,504.69 L93.2,505.55 L93.7,505.66 L94.2,505.49 L94.7,505.66 L95.2,505.52 L95.7,504.35 L96.2,504.77 L96.7,505.05 L97.2,503.98 L97.7,503.7 L98.2,504.4 L98.7,504.28 L99.2,504.69 L99.7,505.76 L100.2,505.06 L100.7,504.64 L101.2,503.12 L101.7,504.36 L102.2,505.41 L102.7,505.94 L103.2,505.93 L103.7,504.68 L104.2,505.43 L104.7,505.06 L105.2,506.3 L105.7,506.46 L106.2,504.34 L106.7,505.19 L107.2,506.42 L107.7,506.25 L108.2,505.73 L108.7,503.09 L109.2,505.74 L109.7,504.99 L110.2,502.67 L110.7,504.82 L111.2,504.78 L111.7,503.42 L112.2,504.18 L112.7,505.13 L113.2,505.23 L113.7,505.49 L114.2,505.23 L114.7,504.16 L115.2,504.19 L115.7,505.02 L116.2,505.37 L116.7,503.02 L117.2,504.33 L117.7,504.88 L118.2,504.22 L118.7,503.7 L119.2,504.22 L119.7,504.93 L120.2,503.97 L120.7,505.98 L121.2,505.09 L121.7,502.71 L122.2,505.53 L122.7,503.53 L123.2,505.93 L123.7,506.04 L124.2,504.53 L124.7,504.25 L125.2,505.05 L125.7,504.93 L126.2,505.34 L126.7,504.22 L127.2,506.32 L127.7,503.36 L128.2,505.83 L128.7,506.6 L129.2,506.31 L129.7,506 L130.2,506.9 L130.7,506.77 L131.2,504.3 L131.7,506.14 L132.2,504.97 L132.7,506.55 L133.2,505.77 L133.7,506.06 L134.2,504.11 L134.7,506.47 L135.2,506.88 L135.7,505.93 L136.2,506.51 L136.7,506.87 L137.2,506.09 L137.7,506.33 L138.2,506.46 L138.7,502.89 L139.2,506.04 L139.7,505.45 L140.2,505.01 L140.7,505.73 L141.2,505.45 L141.7,505.51 L142.2,504.82 L142.7,506.43 L143.2,504.01 L143.7,505.44 L144.2,505.42 L144.7,506.22 L145.2,505.71 L145.7,506.39 L146.2,505.82 L146.7,506 L147.2,505.6 L147.7,505.31 L148.2,505.88 L148.7,505.9 L149.2,506.24 L149.7,503.11 L150.2,506.04 L150.7,504.28 L151.2,504.32 L151.7,504.35 L152.2,504.2 L152.7,505.4 L153.2,505.79 L153.7,505.24 L154.2,506.38 L154.7,505.7 L155.2,504.87 L155.7,505.81 L156.2,505.81 L156.7,503.7 L157.2,506.49 L157.7,502.97 L158.2,502.08 L158.7,504.46 L159.2,506.69 L159.7,505.43 L160.2,506.73 L160.7,506.17 L161.2,507.14 L161.7,505.68 L162.2,505.48 L162.7,506.71 L163.2,507.29 L163.7,507.07 L164.2,507.02 L164.7,506.4 L165.2,507.03 L165.7,506.57 L165.7,513.92 L165.2,515.29 L164.7,515.35 L164.2,514.29 L163.7,514.58 L163.2,514.99 L162.7,515.06 L162.2,515.31 L161.7,513.65 L161.2,513.88 L160.7,513.17 L160.2,514.56 L159.7,515.16 L159.2,514.88 L158.7,513.52 L158.2,513.36 L157.7,512.62 L157.2,512.6 L156.7,513.89 L156.2,513.57 L155.7,514.39 L155.2,514.02 L154.7,514.02 L154.2,512.79 L153.7,514.55 L153.2,513.43 L152.7,513.32 L152.2,513.48 L151.7,513.63 L151.2,513.26 L150.7,512.89 L150.2,514.29 L149.7,514.15 L149.2,514.61 L148.7,513.15 L148.2,512.92 L147.7,513.9 L147.2,513.25 L146.7,512.43 L146.2,514.32 L145.7,515.48 L145.2,513.9 L144.7,513.38 L144.2,513.94 L143.7,513.34 L143.2,513.3 L142.7,514.77 L142.2,512.57 L141.7,513.32 L141.2,512.39 L140.7,512.62 L140.2,514.34 L139.7,514.66 L139.2,514.36 L138.7,515.68 L138.2,514.13 L137.7,514.54 L137.2,513.25 L136.7,513.35 L136.2,515.57 L135.7,513 L135.2,521.03 L134.7,514.53 L134.2,514.22 L133.7,513.84 L133.2,513.55 L132.7,513.36 L132.2,513.13 L131.7,514.02 L131.2,514.14 L130.7,514.15 L130.2,516.35 L129.7,514.17 L129.2,514.77 L128.7,514.55 L128.2,514.12 L127.7,514.71 L127.2,513.17 L126.7,515.98 L126.2,512.71 L125.7,512.13 L125.2,513.85 L124.7,513.78 L124.2,512.57 L123.7,514.07 L123.2,512.92 L122.7,515.74 L122.2,512.34 L121.7,514.13 L121.2,512.58 L120.7,515.46 L120.2,515.71 L119.7,514.01 L119.2,512.5 L118.7,512.99 L118.2,512.65 L117.7,514.39 L117.2,512.89 L116.7,511.66 L116.2,511.82 L115.7,511.91 L115.2,512.49 L114.7,512.4 L114.2,511.7 L113.7,511.84 L113.2,512.55 L112.7,512.28 L112.2,512.83 L111.7,512.97 L111.2,512.99 L110.7,512.48 L110.2,513.14 L109.7,513.82 L109.2,511.87 L108.7,520.2 L108.2,517.7 L107.7,516.4 L107.2,513.21 L106.7,513.99 L106.2,513.04 L105.7,512.83 L105.2,516.19 L104.7,517.05 L104.2,512.74 L103.7,513.54 L103.2,513.7 L102.7,513.32 L102.2,513.32 L101.7,513.4 L101.2,512.97 L100.7,512.31 L100.2,514.32 L99.7,512.35 L99.2,513.53 L98.7,514.23 L98.2,512.05 L97.7,511.94 L97.2,512.78 L96.7,511.96 L96.2,512.1 L95.7,512.41 L95.2,513.29 L94.7,512.77 L94.2,512.44 L93.7,513.19 L93.2,514.28 L92.7,512.85 L92.2,512.27 L91.7,512.21 L91.2,514.82 L90.7,512.89 L90.2,512.91 L89.7,514.33 L89.2,515.09 L88.7,512.42 L88.2,517.83 L87.7,512.02 L87.2,512.07 L86.7,514.52 L86.2,513.2 L85.7,515.49 L85.2,515.61 L84.7,512.53 L84.2,512.48 L83.7,514.06 L83.2,513.96 L82.7,515.44 L82.2,513.8 L81.7,514.14 L81.2,513.79 L80.7,513.27 L80.2,515 L79.7,513.49 L79.2,514.88 L78.7,513.61 L78.2,515.41 L77.7,516.13 L77.2,514.95 L76.7,514.96 L76.2,515.44 L75.7,515.69 L75.2,513.84 L74.7,515.36 L74.2,514.64 L73.7,514.53 L73.2,514.93 L72.7,515.38 L72.2,513.47 L71.7,515.76 L71.2,513.64 L70.7,514.53 L70.2,521.03 L69.7,513.36 L69.2,514.23 L68.7,514.25 L68.2,513.37 L67.7,514.97 L67.2,513.59 L66.7,514.78 L66.2,514.12 L65.7,515.24 L65.2,513.56 L64.7,514.95 L64.2,514.23 L63.7,513.76 L63.2,513.66 L62.7,513.22 L62.2,513.09 L61.7,513.96 L61.2,515.1 L60.7,513.25 L60.2,516.96 L59.7,514.07 L59.2,513.71 L58.7,513.56 L58.2,516.33 L57.7,516.32 L57.2,513.8 L56.7,514.36 L56.2,515.02 L55.7,514.29 L55.2,513.6 L54.7,514.98 L54.2,516.52 L53.7,513.58 L53.2,514.34 L52.7,515.4 L52.2,514.09 L51.7,514.46 L51.2,513.88 L50.7,518.21 L50.2,514.04 L49.7,515.56 L49.2,515.57 L48.7,513.45 L48.2,516.03 L47.7,514.6 L47.2,515.75 Z" fill="#3a8e9b" opacity="1.0"/>
<rect x="101.8" y="499.8" width="13.5" height="37.6" fill="none" stroke="#555" stroke-width="0.7"/>
<line x1="101.8" y1="537.4" x2="49.2" y2="541.1" stroke="#555" stroke-width="0.7"/>
<line x1="115.3" y1="537.4" x2="164.7" y2="541.1" stroke="#555" stroke-width="0.7"/>
<rect x="49.2" y="541.1" width="115.5" height="26.2" fill="none" stroke="#555" stroke-width="0.7"/>
<path d="M51,547.25 L51.6,547.54 L52.2,547.28 L52.8,548.07 L53.4,548 L54,546.69 L54.6,546.93 L55.2,546.65 L55.8,546.77 L56.4,547.43 L57,546.78 L57.6,546.75 L58.2,547.12 L58.8,547.52 L59.4,547.06 L60,547.05 L60.6,547.56 L61.2,547.4 L61.8,547.35 L62.4,547.54 L63,546.81 L63.6,547.35 L64.2,547.07 L64.8,547.76 L65.4,547.71 L66,547 L66.6,547.95 L67.2,546.88 L67.8,547.82 L68.4,547.42 L69,546.88 L69.6,546.7 L70.2,546.95 L70.8,547.13 L71.4,546.86 L72,547.33 L72.6,546.59 L73.2,547.03 L73.8,547.09 L74.4,546.32 L75,547.23 L75.6,546.6 L76.2,546.12 L76.8,546.84 L77.4,546.99 L78,547.42 L78.6,546.87 L79.2,547.7 L79.8,547.61 L80.4,547.48 L81,547.6 L81.6,547.33 L82.2,546.98 L82.8,547.5 L83.4,547.65 L84,547.35 L84.6,547.14 L85.2,546.61 L85.8,547.54 L86.4,547.38 L87,546.66 L87.6,547.18 L88.2,547.4 L88.8,546.94 L89.4,547.31 L90,547.37 L90.6,546.42 L91.2,546.95 L91.8,547.2 L92.4,547.49 L93,547.65 L93.6,546.31 L94.2,547.08 L94.8,547.47 L95.4,547.68 L96,547.82 L96.6,546.82 L97.2,547.08 L97.8,546.82 L98.4,547.53 L99,546.6 L99.6,547.64 L100.2,547.58 L100.8,547.43 L101.4,546.44 L102,546.99 L102.6,547.51 L103.2,546.58 L103.8,547.09 L104.4,547.17 L105,547.56 L105.6,552.9 L106.2,549.24 L106.8,547.64 L107.4,547.42 L108,547.2 L108.6,547.56 L109.2,547.11 L109.8,547.55 L110.4,546.48 L111,547.64 L111.6,547.03 L112.2,547.51 L112.8,547.19 L113.4,547.47 L114,547.69 L114.6,546.91 L115.2,547.15 L115.8,547.18 L116.4,547.3 L117,546.64 L117.6,547.27 L118.2,547.25 L118.8,546.96 L119.4,547.19 L120,546.76 L120.6,547.97 L121.2,547.63 L121.8,548.11 L122.4,547 L123,546.94 L123.6,547.53 L124.2,546.78 L124.8,547.51 L125.4,547.08 L126,547.36 L126.6,547.6 L127.2,547.57 L127.8,548.29 L128.4,547.72 L129,546.99 L129.6,547.91 L130.2,546.91 L130.8,547.35 L131.4,546.64 L132,546.83 L132.6,547.59 L133.2,546.91 L133.8,546.85 L134.4,546.9 L135,547.01 L135.6,547.67 L136.2,546.59 L136.8,546.59 L137.4,547.33 L138,546.4 L138.6,546.89 L139.2,547.51 L139.8,547.08 L140.4,546.83 L141,546.76 L141.6,546.77 L142.2,546.9 L142.8,547.23 L143.4,547.59 L144,547.49 L144.6,546.82 L145.2,546.62 L145.8,547.24 L146.4,546.36 L147,546.98 L147.6,547.07 L148.2,546.72 L148.8,546.74 L149.4,547.26 L150,546.4 L150.6,546.74 L151.2,546.78 L151.8,547.03 L152.4,546.52 L153,547.47 L153.6,546.95 L154.2,547.01 L154.8,547.05 L155.4,547 L156,546.86 L156.6,547.72 L157.2,547.34 L157.8,547.26 L158.4,547.71 L159,547.05 L159.6,547.65 L160.2,547.48 L160.8,547.11 L161.4,547.75 L162,546.9 L162.6,547.76" stroke="#55a6b2" stroke-width="0.8" fill="none" stroke-linejoin="round"/>
<path d="M124.9,527.8 L151,527.8 L151,518.6" stroke="#333" stroke-width="0.8" fill="none"/>
<text x="153.8" y="526.8" font-size="9.8" fill="#1a1a1a">40 pA</text>
<text x="139.5" y="536" font-size="9.8" text-anchor="middle" fill="#1a1a1a">1 s</text>
<path d="M118.7,558.1 L141.6,558.1 L141.6,552.4" stroke="#333" stroke-width="0.8" fill="none"/>
<text x="142.7" y="557.5" font-size="8" fill="#1a1a1a">25 pA</text>
<text x="119.6" y="564" font-size="8" fill="#1a1a1a">20 ms</text>
<text x="334.1" y="391.5" font-size="12" fill="#1a1a1a">sIPSCs HP 0 mV</text>
<text x="0" y="0" font-size="12" text-anchor="middle" fill="#1a1a1a" transform="translate(293.59,435.1) rotate(-90)">Ngn2 +</text>
<text x="0" y="0" font-size="12" text-anchor="middle" fill="#1a1a1a" transform="translate(308.95,436.8) rotate(-90)">shNC</text>
<text x="0" y="0" font-size="12.3" text-anchor="middle" fill="#1a1a1a" transform="translate(293.91,533.1) rotate(-90)">Ngn2 +</text>
<text x="0" y="0" font-size="12.3" text-anchor="middle" fill="#1a1a1a" transform="translate(307.87,536.1) rotate(-90)">shOlig2</text>
<path d="M321.2,418.5 L321.7,418.45 L322.2,418.81 L322.7,418.36 L323.2,418.77 L323.7,418.47 L324.2,418.55 L324.7,419 L325.2,418.73 L325.7,418.38 L326.2,418.58 L326.7,419.06 L327.2,418.77 L327.7,418.64 L328.2,417.92 L328.7,418.6 L329.2,418.08 L329.7,419.01 L330.2,419.05 L330.7,418.58 L331.2,419.19 L331.7,419.21 L332.2,419.25 L332.7,419.09 L333.2,419.36 L333.7,419.2 L334.2,419.21 L334.7,418.95 L335.2,418.51 L335.7,419.22 L336.2,419.11 L336.7,418.75 L337.2,418.61 L337.7,418.21 L338.2,418.87 L338.7,418.52 L339.2,418.77 L339.7,418.82 L340.2,419.22 L340.7,419 L341.2,418.22 L341.7,418.95 L342.2,418.76 L342.7,419.23 L343.2,419.27 L343.7,418.86 L344.2,418.89 L344.7,418.23 L345.2,419.25 L345.7,419.02 L346.2,418.96 L346.7,418.89 L347.2,418.29 L347.7,419.01 L348.2,418.8 L348.7,419.04 L349.2,419.01 L349.7,419.12 L350.2,418.59 L350.7,417.48 L351.2,418.81 L351.7,418.45 L352.2,419 L352.7,417.75 L353.2,419.1 L353.7,417.84 L354.2,417.74 L354.7,418.94 L355.2,418.3 L355.7,418.51 L356.2,418.62 L356.7,418.84 L357.2,419.14 L357.7,418.33 L358.2,418.64 L358.7,418.19 L359.2,418.24 L359.7,419.03 L360.2,418.33 L360.7,417.87 L361.2,417.92 L361.7,418.08 L362.2,418.16 L362.7,417.8 L363.2,418.76 L363.7,418.66 L364.2,418.74 L364.7,418.57 L365.2,417.81 L365.7,418.61 L366.2,417.54 L366.7,417.4 L367.2,418.1 L367.7,418.02 L368.2,418.58 L368.7,418.21 L369.2,418.81 L369.7,418.63 L370.2,418.76 L370.7,418.47 L371.2,418.38 L371.7,418.38 L372.2,418.9 L372.7,417.44 L373.2,418.41 L373.7,418.5 L374.2,418.99 L374.7,418.52 L375.2,418.13 L375.7,418.97 L376.2,418.4 L376.7,418.8 L377.2,418.33 L377.7,418.17 L378.2,418.05 L378.7,418.43 L379.2,418.71 L379.7,418.05 L380.2,417.86 L380.7,418.58 L381.2,418.86 L381.7,417.74 L382.2,418.01 L382.7,418.36 L383.2,418.84 L383.7,418.86 L384.2,418.78 L384.7,418.06 L385.2,418.37 L385.7,418.93 L386.2,418.89 L386.7,418.06 L387.2,418.75 L387.7,419.14 L388.2,418.96 L388.7,418.89 L389.2,419.14 L389.7,418.69 L390.2,419.22 L390.7,418.43 L391.2,418.78 L391.7,419.08 L392.2,418.23 L392.7,419.07 L393.2,418.65 L393.7,418.25 L394.2,418.64 L394.7,418.84 L395.2,418 L395.7,418.25 L396.2,418.79 L396.7,418.77 L397.2,418.34 L397.7,419.38 L398.2,419.16 L398.7,419.07 L399.2,419.22 L399.7,418.31 L400.2,418.4 L400.7,418.65 L401.2,419.02 L401.7,419.06 L402.2,418.38 L402.7,418.83 L403.2,418.84 L403.7,419.24 L404.2,418.74 L404.7,419.16 L405.2,418.44 L405.7,418.74 L406.2,419.65 L406.7,419.15 L407.2,419.03 L407.7,419.18 L408.2,418.59 L408.7,418.67 L409.2,419.08 L409.7,418.29 L410.2,419.03 L410.7,419.33 L411.2,417.91 L411.7,419.36 L412.2,419.14 L412.7,418.93 L413.2,418.88 L413.7,418.27 L414.2,418.89 L414.7,419.16 L415.2,418.92 L415.7,418.71 L416.2,418.59 L416.7,418.05 L417.2,418.94 L417.7,418.89 L418.2,418.12 L418.7,418.84 L419.2,419.07 L419.7,418.39 L420.2,419.06 L420.7,419.14 L421.2,418.92 L421.7,418.76 L422.2,418.23 L422.7,418.42 L423.2,418.63 L423.7,418.82 L424.2,418.96 L424.7,418.68 L425.2,418.71 L425.7,418.8 L426.2,418.67 L426.7,418.86 L427.2,418.83 L427.7,419.07 L428.2,418.69 L428.7,419.14 L429.2,419.26 L429.7,418.55 L430.2,418.69 L430.7,418.68 L431.2,419.03 L431.7,418.69 L432.2,418.74 L432.7,418.88 L433.2,418.51 L433.7,418.18 L434.2,418.75 L434.7,418.91 L435.2,419.32 L435.7,419.04 L436.2,419.11 L436.7,419.49 L437.2,418.61 L437.7,419.19 L438.2,418.5 L438.7,417.5 L439.2,419.29 L439.7,417.75 L440.2,419.14 L440.7,418.73 L441.2,419.36 L441.2,422.05 L440.7,422.23 L440.2,423.24 L439.7,422.72 L439.2,421.94 L438.7,422.03 L438.2,422.89 L437.7,421.97 L437.2,422.56 L436.7,421.95 L436.2,422.25 L435.7,422.1 L435.2,422.86 L434.7,422.84 L434.2,423.35 L433.7,423.48 L433.2,421.88 L432.7,422.83 L432.2,422.87 L431.7,423.18 L431.2,422.89 L430.7,422.59 L430.2,422.12 L429.7,421.72 L429.2,422.46 L428.7,422.63 L428.2,422.18 L427.7,421.74 L427.2,422.27 L426.7,422.04 L426.2,421.76 L425.7,421.98 L425.2,421.56 L424.7,421.65 L424.2,423.03 L423.7,422.07 L423.2,421.84 L422.7,422.92 L422.2,421.99 L421.7,422.58 L421.2,421.87 L420.7,422.34 L420.2,421.88 L419.7,422.17 L419.2,421.68 L418.7,422.52 L418.2,422.23 L417.7,421.99 L417.2,422.01 L416.7,421.86 L416.2,422.4 L415.7,421.85 L415.2,422.62 L414.7,422.21 L414.2,422 L413.7,422.53 L413.2,421.87 L412.7,422.32 L412.2,421.93 L411.7,422.28 L411.2,422.74 L410.7,422.3 L410.2,422.2 L409.7,422.5 L409.2,422.2 L408.7,423.1 L408.2,422.62 L407.7,422.9 L407.2,422.54 L406.7,422.82 L406.2,422.13 L405.7,422.64 L405.2,423.01 L404.7,422.5 L404.2,422.58 L403.7,422.63 L403.2,422.05 L402.7,422.46 L402.2,422.03 L401.7,422.48 L401.2,422.58 L400.7,422.7 L400.2,422.54 L399.7,422.15 L399.2,421.87 L398.7,422.46 L398.2,422.38 L397.7,422.63 L397.2,422.59 L396.7,422.47 L396.2,422.1 L395.7,422.43 L395.2,422.76 L394.7,422.4 L394.2,421.88 L393.7,422.18 L393.2,422.22 L392.7,422.13 L392.2,421.74 L391.7,422.05 L391.2,422.44 L390.7,423.15 L390.2,421.77 L389.7,421.72 L389.2,421.7 L388.7,421.65 L388.2,421.8 L387.7,421.67 L387.2,422.29 L386.7,421.65 L386.2,421.81 L385.7,421.91 L385.2,421.73 L384.7,421.49 L384.2,421.84 L383.7,422.11 L383.2,421.72 L382.7,421.95 L382.2,422.06 L381.7,421.99 L381.2,422.12 L380.7,422.23 L380.2,421.83 L379.7,421.36 L379.2,422.67 L378.7,421.87 L378.2,421.86 L377.7,421.44 L377.2,422.75 L376.7,421.7 L376.2,422.09 L375.7,421.7 L375.2,421.75 L374.7,421.66 L374.2,423.55 L373.7,422.51 L373.2,421.98 L372.7,421.44 L372.2,422.06 L371.7,421.4 L371.2,421.63 L370.7,421.95 L370.2,422.33 L369.7,421.68 L369.2,422.1 L368.7,421.67 L368.2,422.15 L367.7,421.44 L367.2,421.14 L366.7,421.64 L366.2,422.7 L365.7,422.11 L365.2,421.99 L364.7,421.85 L364.2,422.74 L363.7,422.1 L363.2,422.02 L362.7,421.59 L362.2,422.16 L361.7,422.7 L361.2,421.94 L360.7,421.95 L360.2,422.06 L359.7,421.76 L359.2,421.69 L358.7,422.07 L358.2,421.69 L357.7,421.88 L357.2,421.83 L356.7,421.78 L356.2,421.87 L355.7,421.99 L355.2,422.19 L354.7,422.5 L354.2,422.64 L353.7,421.79 L353.2,422.12 L352.7,422.3 L352.2,423.26 L351.7,421.86 L351.2,422.03 L350.7,422.14 L350.2,422.34 L349.7,422.12 L349.2,422.54 L348.7,421.98 L348.2,422.56 L347.7,422.09 L347.2,422.35 L346.7,422.03 L346.2,422.4 L345.7,422.8 L345.2,422.11 L344.7,422.2 L344.2,422.79 L343.7,421.95 L343.2,422.85 L342.7,421.99 L342.2,422.94 L341.7,422.93 L341.2,422.67 L340.7,422.36 L340.2,421.79 L339.7,421.79 L339.2,421.55 L338.7,422.54 L338.2,423.16 L337.7,421.57 L337.2,422.67 L336.7,422.31 L336.2,421.68 L335.7,422.54 L335.2,422.47 L334.7,423.45 L334.2,421.89 L333.7,422.25 L333.2,421.9 L332.7,422.59 L332.2,423.05 L331.7,422.31 L331.2,423.12 L330.7,422.02 L330.2,422.17 L329.7,422.58 L329.2,422.19 L328.7,421.81 L328.2,421.94 L327.7,422.34 L327.2,422.26 L326.7,421.59 L326.2,422.27 L325.7,421.74 L325.2,421.52 L324.7,421.53 L324.2,422.09 L323.7,423.18 L323.2,421.51 L322.7,421.51 L322.2,422.18 L321.7,422.23 L321.2,421.41 Z" fill="#7a7a7a" opacity="1.0"/>
<rect x="386.1" y="403.1" width="11.4" height="35" fill="none" stroke="#555" stroke-width="0.7"/>
<line x1="386.1" y1="438.1" x2="323.3" y2="446.7" stroke="#555" stroke-width="0.7"/>
<line x1="397.5" y1="438.1" x2="439" y2="446.7" stroke="#555" stroke-width="0.7"/>
<rect x="323.3" y="446.7" width="115.7" height="12.5" fill="none" stroke="#555" stroke-width="0.7"/>
<path d="M325,451.87 L325.6,453.04 L326.2,453.31 L326.8,452.96 L327.4,452.87 L328,453.4 L328.6,453.01 L329.2,453.37 L329.8,453.88 L330.4,453.32 L331,453.4 L331.6,453.22 L332.2,453.12 L332.8,453.12 L333.4,452.97 L334,453.38 L334.6,452.35 L335.2,452.83 L335.8,453.19 L336.4,452.68 L337,452.98 L337.6,452.76 L338.2,453.26 L338.8,453.41 L339.4,453.65 L340,453.32 L340.6,452.9 L341.2,453.32 L341.8,453.45 L342.4,453.72 L343,452.37 L343.6,453.34 L344.2,452.47 L344.8,453.42 L345.4,453.3 L346,453.3 L346.6,453.39 L347.2,453.18 L347.8,452.81 L348.4,453.23 L349,453.52 L349.6,453.01 L350.2,452.99 L350.8,452.52 L351.4,453.41 L352,452.74 L352.6,452.57 L353.2,452.77 L353.8,452.59 L354.4,452.82 L355,453.44 L355.6,453.27 L356.2,453.52 L356.8,453.55 L357.4,452.79 L358,453.33 L358.6,453.75 L359.2,454.07 L359.8,452.67 L360.4,452.66 L361,453.39 L361.6,453.12 L362.2,452.86 L362.8,453.42 L363.4,453.03 L364,452.49 L364.6,453.36 L365.2,453.38 L365.8,453.64 L366.4,453.78 L367,453.5 L367.6,453.38 L368.2,453.21 L368.8,452.84 L369.4,453.3 L370,453.87 L370.6,453.72 L371.2,454.3 L371.8,453.44 L372.4,452.81 L373,453.82 L373.6,453.92 L374.2,453.08 L374.8,452.94 L375.4,453.63 L376,453.85 L376.6,453.14 L377.2,453.41 L377.8,453.18 L378.4,453.03 L379,452.95 L379.6,453.48 L380.2,453.27 L380.8,453.13 L381.4,452.37 L382,454 L382.6,452.94 L383.2,453.28 L383.8,452.9 L384.4,453.44 L385,452.67 L385.6,453.22 L386.2,453.17 L386.8,453.57 L387.4,452.75 L388,452.92 L388.6,453.09 L389.2,453.96 L389.8,452.53 L390.4,453.2 L391,452.85 L391.6,453.18 L392.2,453.31 L392.8,453.09 L393.4,453.09 L394,453.13 L394.6,452.76 L395.2,452.88 L395.8,452.38 L396.4,452.88 L397,452.75 L397.6,452.94 L398.2,453.36 L398.8,453.19 L399.4,453.19 L400,453.47 L400.6,452.16 L401.2,453.19 L401.8,453.04 L402.4,453.02 L403,452.53 L403.6,453.27 L404.2,453.55 L404.8,453.58 L405.4,453.08 L406,453.38 L406.6,453.45 L407.2,453.75 L407.8,453.52 L408.4,453.08 L409,453.1 L409.6,453.16 L410.2,453.06 L410.8,452.78 L411.4,453.28 L412,452.73 L412.6,452.68 L413.2,453.18 L413.8,452.85 L414.4,452.93 L415,452.2 L415.6,453.28 L416.2,452.97 L416.8,452.98 L417.4,453.3 L418,453.17 L418.6,452.87 L419.2,453.95 L419.8,452.95 L420.4,453.5 L421,453.84 L421.6,452.92 L422.2,453.21 L422.8,452.87 L423.4,453.62 L424,453.04 L424.6,452.73 L425.2,453.69 L425.8,453.55 L426.4,452.84 L427,453.66 L427.6,453.26 L428.2,454.2 L428.8,453.76 L429.4,452.91 L430,453 L430.6,452.81 L431.2,453.21 L431.8,453.17 L432.4,453.42 L433,453.18 L433.6,452.58 L434.2,452.85 L434.8,453.71 L435.4,453.61 L436,453.09 L436.6,453.08" stroke="#6e6e6e" stroke-width="0.8" fill="none" stroke-linejoin="round"/>
<path d="M322,505.53 L322.5,505.47 L323,504.86 L323.5,505.28 L324,504.19 L324.5,505.49 L325,503.92 L325.5,505.1 L326,504.76 L326.5,504.54 L327,505.01 L327.5,503.25 L328,504.75 L328.5,504.95 L329,503.8 L329.5,503.21 L330,500.27 L330.5,505.17 L331,503.53 L331.5,504.01 L332,501.73 L332.5,505.43 L333,503.47 L333.5,501.87 L334,504.7 L334.5,504.43 L335,505.08 L335.5,505.54 L336,502.82 L336.5,505.68 L337,504.83 L337.5,504.59 L338,504.72 L338.5,500.19 L339,505.23 L339.5,504.85 L340,505.66 L340.5,504.64 L341,505.6 L341.5,503.5 L342,505.52 L342.5,504.31 L343,505.15 L343.5,501.44 L344,502.66 L344.5,504.53 L345,504.86 L345.5,505.25 L346,503.95 L346.5,503.88 L347,505.36 L347.5,505.77 L348,503.8 L348.5,503.96 L349,504.79 L349.5,504.04 L350,504.61 L350.5,504.2 L351,504.13 L351.5,501.42 L352,504.53 L352.5,505.11 L353,503.69 L353.5,501.49 L354,503.18 L354.5,502.6 L355,504.98 L355.5,504.69 L356,504.78 L356.5,503.39 L357,504.72 L357.5,503.64 L358,504.9 L358.5,505.29 L359,503.12 L359.5,502.61 L360,504.33 L360.5,504.08 L361,504.22 L361.5,504.83 L362,499.69 L362.5,504.19 L363,503.7 L363.5,504.49 L364,503.34 L364.5,504.58 L365,504.06 L365.5,501.03 L366,504.2 L366.5,504.83 L367,505.04 L367.5,504.89 L368,505.01 L368.5,504.58 L369,505.32 L369.5,503.83 L370,504.26 L370.5,505.13 L371,503.41 L371.5,505.34 L372,503.84 L372.5,502.56 L373,504.16 L373.5,505.26 L374,504.68 L374.5,503.49 L375,503.92 L375.5,503.4 L376,503.66 L376.5,503.08 L377,504.15 L377.5,504.51 L378,502.97 L378.5,504.67 L379,504.78 L379.5,501.72 L380,503.39 L380.5,504.71 L381,505.68 L381.5,505.08 L382,503.74 L382.5,505.78 L383,505.88 L383.5,504.39 L384,504.22 L384.5,503.79 L385,506.11 L385.5,504.07 L386,504.24 L386.5,505.46 L387,504.02 L387.5,505.92 L388,503.46 L388.5,505.24 L389,505.02 L389.5,503.46 L390,503.15 L390.5,505.47 L391,504.09 L391.5,504.57 L392,503.74 L392.5,502.67 L393,504.6 L393.5,503.6 L394,504.52 L394.5,506.08 L395,505.61 L395.5,504.37 L396,504.2 L396.5,505.51 L397,504.98 L397.5,502.78 L398,502.79 L398.5,501.23 L399,505.52 L399.5,505.3 L400,504.38 L400.5,503.02 L401,504.92 L401.5,504.8 L402,504.68 L402.5,502.75 L403,503.69 L403.5,504.1 L404,504.31 L404.5,504.22 L405,503.51 L405.5,503.74 L406,503.5 L406.5,504.26 L407,505.21 L407.5,504.86 L408,505.26 L408.5,504.83 L409,504.98 L409.5,504.46 L410,505.25 L410.5,503.71 L411,504.12 L411.5,504.53 L412,505.57 L412.5,505.84 L413,504.87 L413.5,501.47 L414,505.74 L414.5,505.16 L415,503.95 L415.5,503.81 L416,504.6 L416.5,505.44 L417,504.36 L417.5,503.92 L418,504.81 L418.5,503.69 L419,504.38 L419.5,505.42 L420,505.59 L420.5,502.94 L421,504.39 L421.5,505.01 L422,503.88 L422.5,505.46 L423,505.54 L423.5,505.18 L424,504.61 L424.5,505.31 L425,504.97 L425.5,505.61 L426,505.57 L426.5,505.63 L427,505.75 L427.5,505.35 L428,502.74 L428.5,502.9 L429,504.07 L429.5,505.31 L430,505.74 L430.5,504.75 L431,505.2 L431.5,503.88 L432,503.52 L432.5,505.57 L433,502.93 L433.5,504.11 L434,503.61 L434.5,500.06 L435,503.18 L435.5,505.29 L436,505.39 L436.5,505.48 L437,505.13 L437.5,504.46 L438,504.14 L438.5,502.76 L439,505.62 L439.5,504.18 L440,502.84 L440.5,505.33 L440.5,512.09 L440,511.77 L439.5,513.88 L439,511.86 L438.5,511.6 L438,512.53 L437.5,513.13 L437,511.89 L436.5,512.75 L436,511.67 L435.5,511.92 L435,513.02 L434.5,512.33 L434,513.12 L433.5,512.09 L433,512.89 L432.5,512.17 L432,512.61 L431.5,511.71 L431,511.54 L430.5,512 L430,511.67 L429.5,513.53 L429,513.09 L428.5,512.22 L428,512.9 L427.5,512.18 L427,511.9 L426.5,512.64 L426,512.46 L425.5,512.29 L425,514.5 L424.5,513.64 L424,514.2 L423.5,513.45 L423,512 L422.5,512.98 L422,514.51 L421.5,511.91 L421,512.12 L420.5,511.84 L420,513.72 L419.5,513.27 L419,511.62 L418.5,513.19 L418,512.51 L417.5,512.71 L417,513.46 L416.5,513.54 L416,513.96 L415.5,512.49 L415,513.26 L414.5,515.67 L414,512.92 L413.5,512.34 L413,513.54 L412.5,512.14 L412,512.93 L411.5,513.17 L411,512.04 L410.5,513.3 L410,511.76 L409.5,511.65 L409,514.94 L408.5,512.11 L408,511.69 L407.5,511.23 L407,513.57 L406.5,511.88 L406,514.01 L405.5,512.87 L405,513.09 L404.5,512.1 L404,511.2 L403.5,511.98 L403,511.12 L402.5,512.48 L402,512.3 L401.5,512.34 L401,513.2 L400.5,511.81 L400,512.79 L399.5,512.87 L399,512.09 L398.5,512.4 L398,512.12 L397.5,513.76 L397,511.63 L396.5,513.84 L396,511.87 L395.5,512.14 L395,514.92 L394.5,512.17 L394,512.27 L393.5,512.05 L393,512.08 L392.5,513.66 L392,512.93 L391.5,511.99 L391,512.34 L390.5,512.17 L390,512.25 L389.5,512.69 L389,514.24 L388.5,511.85 L388,512.06 L387.5,512.06 L387,511.81 L386.5,512.26 L386,512.13 L385.5,513.79 L385,512.08 L384.5,513.15 L384,513.26 L383.5,512.65 L383,515.43 L382.5,514.06 L382,512.38 L381.5,512.29 L381,513.25 L380.5,512.37 L380,512.3 L379.5,512.91 L379,513.8 L378.5,516.3 L378,514.32 L377.5,512.56 L377,512.24 L376.5,512.29 L376,512.3 L375.5,515.25 L375,512.07 L374.5,511.16 L374,513.49 L373.5,511.54 L373,512.2 L372.5,512.98 L372,513.6 L371.5,512.97 L371,511.52 L370.5,511.64 L370,511.59 L369.5,511.49 L369,512.05 L368.5,511.32 L368,512.58 L367.5,511.5 L367,512.52 L366.5,511.05 L366,511.12 L365.5,512.3 L365,512.2 L364.5,512.26 L364,512.13 L363.5,513.48 L363,512.06 L362.5,511.42 L362,510.91 L361.5,513.51 L361,512.13 L360.5,512.39 L360,511.7 L359.5,511.51 L359,511.58 L358.5,511.36 L358,511.73 L357.5,513.58 L357,512.45 L356.5,513.99 L356,512.46 L355.5,511.6 L355,511.53 L354.5,511.53 L354,513.41 L353.5,512.34 L353,512.03 L352.5,512.36 L352,513.56 L351.5,511.36 L351,511.25 L350.5,512.97 L350,511.55 L349.5,513.48 L349,513.17 L348.5,512.76 L348,515.84 L347.5,513.42 L347,514.24 L346.5,512.22 L346,512.18 L345.5,511.65 L345,511.92 L344.5,511.5 L344,511.5 L343.5,512.25 L343,511.87 L342.5,512.48 L342,511.63 L341.5,514.43 L341,512.17 L340.5,512 L340,512.04 L339.5,511.6 L339,511.99 L338.5,512.63 L338,511.85 L337.5,512.76 L337,512.49 L336.5,512.18 L336,512.06 L335.5,512 L335,512.01 L334.5,514.03 L334,512.46 L333.5,514.15 L333,512.37 L332.5,512 L332,513.97 L331.5,512.84 L331,511.35 L330.5,513.37 L330,513.44 L329.5,511.53 L329,513.13 L328.5,512.01 L328,511.9 L327.5,513.31 L327,515.8 L326.5,513.04 L326,513.3 L325.5,511.9 L325,511.51 L324.5,512 L324,513.83 L323.5,512.58 L323,515.29 L322.5,513.79 L322,513.45 Z" fill="#3a8e9b" opacity="1.0"/>
<line x1="331.73" y1="507" x2="331.73" y2="503.27" stroke="#3a8e9b" stroke-width="0.6"/>
<line x1="409.5" y1="507" x2="409.5" y2="501.69" stroke="#3a8e9b" stroke-width="0.6"/>
<line x1="326.05" y1="507" x2="326.05" y2="501.75" stroke="#3a8e9b" stroke-width="0.6"/>
<line x1="358.27" y1="507" x2="358.27" y2="501.37" stroke="#3a8e9b" stroke-width="0.6"/>
<line x1="422.14" y1="507" x2="422.14" y2="502.77" stroke="#3a8e9b" stroke-width="0.6"/>
<line x1="389.73" y1="507" x2="389.73" y2="503.38" stroke="#3a8e9b" stroke-width="0.6"/>
<line x1="431.92" y1="507" x2="431.92" y2="501.38" stroke="#3a8e9b" stroke-width="0.6"/>
<line x1="423.86" y1="507" x2="423.86" y2="502.39" stroke="#3a8e9b" stroke-width="0.6"/>
<line x1="372.52" y1="507" x2="372.52" y2="501.71" stroke="#3a8e9b" stroke-width="0.6"/>
<line x1="355.94" y1="507" x2="355.94" y2="502.69" stroke="#3a8e9b" stroke-width="0.6"/>
<line x1="346.83" y1="507" x2="346.83" y2="502.45" stroke="#3a8e9b" stroke-width="0.6"/>
<line x1="327.95" y1="507" x2="327.95" y2="502.71" stroke="#3a8e9b" stroke-width="0.6"/>
<line x1="406.81" y1="507" x2="406.81" y2="502.02" stroke="#3a8e9b" stroke-width="0.6"/>
<line x1="417.31" y1="507" x2="417.31" y2="501.56" stroke="#3a8e9b" stroke-width="0.6"/>
<line x1="328.58" y1="507" x2="328.58" y2="502.79" stroke="#3a8e9b" stroke-width="0.6"/>
<line x1="380.53" y1="507" x2="380.53" y2="502.55" stroke="#3a8e9b" stroke-width="0.6"/>
<line x1="420.2" y1="507" x2="420.2" y2="502.11" stroke="#3a8e9b" stroke-width="0.6"/>
<line x1="397.82" y1="507" x2="397.82" y2="501.41" stroke="#3a8e9b" stroke-width="0.6"/>
<line x1="371.74" y1="507" x2="371.74" y2="502.39" stroke="#3a8e9b" stroke-width="0.6"/>
<line x1="434.08" y1="507" x2="434.08" y2="503.31" stroke="#3a8e9b" stroke-width="0.6"/>
<line x1="372.46" y1="507" x2="372.46" y2="501.94" stroke="#3a8e9b" stroke-width="0.6"/>
<line x1="359.54" y1="507" x2="359.54" y2="502.14" stroke="#3a8e9b" stroke-width="0.6"/>
<line x1="381.18" y1="507" x2="381.18" y2="500.51" stroke="#3a8e9b" stroke-width="0.6"/>
<line x1="363.58" y1="507" x2="363.58" y2="501.76" stroke="#3a8e9b" stroke-width="0.6"/>
<line x1="368.88" y1="507" x2="368.88" y2="503.36" stroke="#3a8e9b" stroke-width="0.6"/>
<line x1="381.15" y1="507" x2="381.15" y2="501.57" stroke="#3a8e9b" stroke-width="0.6"/>
<line x1="377.3" y1="509" x2="377.3" y2="484.9" stroke="#3a8e9b" stroke-width="0.9"/>
<line x1="348.7" y1="507" x2="348.7" y2="497.9" stroke="#5aa7b3" stroke-width="0.7"/>
<rect x="371.3" y="481.9" width="11.5" height="40.4" fill="none" stroke="#555" stroke-width="0.7"/>
<line x1="371.3" y1="522.3" x2="323.7" y2="541" stroke="#555" stroke-width="0.7"/>
<line x1="382.8" y1="522.3" x2="439.2" y2="541" stroke="#555" stroke-width="0.7"/>
<rect x="323.7" y="541" width="115.5" height="30.7" fill="none" stroke="#555" stroke-width="0.7"/>
<path d="M325.5,553.6 L326,554.84 L326.5,554.2 L327,553.29 L327.5,553.9 L328,555.12 L328.5,556.03 L329,554.11 L329.5,555.62 L330,555.29 L330.5,554.37 L331,555.04 L331.5,553.86 L332,554.13 L332.5,555.09 L333,554.26 L333.5,554.38 L334,554.4 L334.5,554.51 L335,555.21 L335.5,554.32 L336,555.09 L336.5,555.98 L337,555.09 L337.5,555.13 L338,555.83 L338.5,555.69 L339,554.08 L339.5,553.66 L340,554.3 L340.5,554.09 L341,553.66 L341.5,554.67 L342,554.99 L342.5,555.06 L343,557.03 L343.5,556.28 L344,555.99 L344.5,555.98 L345,556.85 L345.5,555.42 L346,554 L346.5,554.32 L347,554 L347.5,553.6 L348,554.22 L348.5,554.48 L349,554.64 L349.5,554.74 L350,555.81 L350.5,554.56 L351,556 L351.5,555.38 L352,555.27 L352.5,553.37 L353,555.4 L353.5,553.11 L354,553.45 L354.5,554.32 L355,553.72 L355.5,554.11 L356,553.38 L356.5,554.79 L357,555.46 L357.5,555.9 L358,555.34 L358.5,555.5 L359,555.36 L359.5,554.36 L360,553.96 L360.5,555.27 L361,553.45 L361.5,554.67 L362,554.13 L362.5,555.23 L363,554.33 L363.5,555.36 L364,555.53 L364.5,555.37 L365,555.69 L365.5,554.91 L366,555.04 L366.5,554.51 L367,554.84 L367.5,554.06 L368,553.13 L368.5,553.73 L369,554.04 L369.5,553.84 L370,555.5 L370.5,555.31 L371,555.84 L371.5,555.06 L372,555.27 L372.5,555.95 L373,554.23 L373.5,554.94 L374,554.43 L374.5,553.81 L375,554 L375.5,553.31 L376,554.24 L376.5,548.26 L377,542.61 L377.5,542.89 L378,541.7 L378.5,545.23 L379,546.94 L379.5,547.58 L380,548.43 L380.5,549.52 L381,549.11 L381.5,550.16 L382,551.04 L382.5,551.45 L383,551.84 L383.5,554.13 L384,552.77 L384.5,554.01 L385,552.84 L385.5,553.01 L386,554.32 L386.5,554.81 L387,554.08 L387.5,554.7 L388,555.65 L388.5,555.71 L389,554.77 L389.5,556.23 L390,556.2 L390.5,556 L391,554.84 L391.5,555.29 L392,555.94 L392.5,555.75 L393,555.88 L393.5,556.13 L394,556.06 L394.5,556.37 L395,556.83 L395.5,556.18 L396,555.91 L396.5,556.12 L397,555.55 L397.5,556.23 L398,556.79 L398.5,555.19 L399,555.28 L399.5,556.71 L400,555.88 L400.5,556.16 L401,556.44 L401.5,557.12 L402,556.69 L402.5,556.69 L403,556.54 L403.5,555.75 L404,556.38 L404.5,556.91 L405,554.79 L405.5,555.09 L406,556.36 L406.5,555.44 L407,555.86 L407.5,556.13 L408,556.81 L408.5,555.9 L409,556 L409.5,556.52 L410,555.45 L410.5,555.07 L411,556.41 L411.5,554.61 L412,554.85 L412.5,554.99 L413,555.97 L413.5,555.96 L414,555.79 L414.5,556.02 L415,555.04 L415.5,555.29 L416,555.07 L416.5,555.36 L417,555.31 L417.5,554.68 L418,555.42 L418.5,555.52 L419,555.55 L419.5,555.07 L420,555.24 L420.5,554.95 L421,554.15 L421.5,555.66 L422,555.66 L422.5,554.53 L423,554.85 L423.5,555.09 L424,555.18 L424.5,555 L425,554.91 L425.5,555.04 L426,554.15 L426.5,555 L427,554.76 L427.5,555.88 L428,555.71 L428.5,555.05 L429,554.64 L429.5,555.23 L430,554.36 L430.5,555.51 L431,554.66 L431.5,554.84 L432,554.31 L432.5,554.4 L433,555.69 L433.5,555.05 L434,554.63 L434.5,555.29 L435,554.67 L435.5,554.89 L436,554.94 L436.5,555.7 L437,554.66" stroke="#3a8f9c" stroke-width="0.9" fill="none"/>
<path d="M409.3,524.8 L432.2,524.8 L432.2,517.3" stroke="#333" stroke-width="0.8" fill="none"/>
<text x="434.3" y="524.5" font-size="8.5" fill="#1a1a1a">40 pA</text>
<text x="422.2" y="532.3" font-size="8.5" text-anchor="middle" fill="#1a1a1a">1 s</text>
<path d="M389.3,563.4 L414.2,563.4 L414.2,559.2" stroke="#333" stroke-width="0.8" fill="none"/>
<text x="416.3" y="563.9" font-size="8.3" fill="#1a1a1a">25 pA</text>
<text x="389.1" y="570.9" font-size="8.3" fill="#1a1a1a">100 ms</text>
<line x1="230.3" y1="371.1" x2="230.3" y2="449.1" stroke="#222" stroke-width="0.9"/>
<line x1="227.5" y1="371.1" x2="230.3" y2="371.1" stroke="#222" stroke-width="0.9"/>
<text x="227" y="373.12" font-size="5.6" font-weight="bold" text-anchor="end" fill="#222">12</text>
<line x1="227.5" y1="397.2" x2="230.3" y2="397.2" stroke="#222" stroke-width="0.9"/>
<text x="227" y="399.22" font-size="5.6" font-weight="bold" text-anchor="end" fill="#222">8</text>
<line x1="227.5" y1="423.5" x2="230.3" y2="423.5" stroke="#222" stroke-width="0.9"/>
<text x="227" y="425.52" font-size="5.6" font-weight="bold" text-anchor="end" fill="#222">4</text>
<line x1="227.5" y1="449.1" x2="230.3" y2="449.1" stroke="#222" stroke-width="0.9"/>
<text x="227" y="451.12" font-size="5.6" font-weight="bold" text-anchor="end" fill="#222">0</text>
<line x1="230.3" y1="449.1" x2="261.6" y2="449.1" stroke="#222" stroke-width="0.9"/>
<line x1="238.9" y1="449.1" x2="238.9" y2="452.3" stroke="#222" stroke-width="0.9"/>
<line x1="252.5" y1="449.1" x2="252.5" y2="452.3" stroke="#222" stroke-width="0.9"/>
<text x="0" y="0" font-size="10.5" text-anchor="middle" fill="#1a1a1a" transform="translate(212.3,410.8) rotate(-90)">Frequency (Hz)</text>
<text x="233.2" y="384.4" font-size="8" fill="#333"><tspan font-style="italic">p</tspan> = 0.0020</text>
<line x1="239.4" y1="385.9" x2="252.5" y2="385.9" stroke="#777" stroke-width="0.8"/>
<circle cx="252.5" cy="390.7" r="1.3" fill="#2f8593"/>
<circle cx="252.5" cy="410.3" r="1.3" fill="#2f8593"/>
<circle cx="252.5" cy="423.5" r="1.3" fill="#2f8593"/>
<circle cx="252.5" cy="430" r="1.3" fill="#2f8593"/>
<circle cx="252.5" cy="436.3" r="1.3" fill="#2f8593"/>
<circle cx="252.5" cy="442.8" r="1.3" fill="#2f8593"/>
<circle cx="248" cy="449" r="1.3" fill="#2f8593"/>
<circle cx="250.3" cy="449" r="1.3" fill="#2f8593"/>
<circle cx="254.7" cy="449" r="1.3" fill="#2f8593"/>
<circle cx="257" cy="449" r="1.3" fill="#2f8593"/>
<circle cx="252.5" cy="449" r="1.3" fill="#2f8593"/>
<line x1="248.3" y1="438" x2="256.8" y2="438" stroke="#2f8593" stroke-width="1"/>
<line x1="252.5" y1="421.1" x2="252.5" y2="449" stroke="#5aaab6" stroke-width="0.8"/>
<line x1="250" y1="421.1" x2="255" y2="421.1" stroke="#5aaab6" stroke-width="0.8"/>
<line x1="234.5" y1="448.8" x2="243.5" y2="448.8" stroke="#777" stroke-width="2.6"/>
<line x1="228.6" y1="469.5" x2="228.6" y2="548" stroke="#222" stroke-width="0.9"/>
<line x1="225.8" y1="469.5" x2="228.6" y2="469.5" stroke="#222" stroke-width="0.9"/>
<text x="225.3" y="471.52" font-size="5.6" font-weight="bold" text-anchor="end" fill="#222">50</text>
<line x1="225.8" y1="485.2" x2="228.6" y2="485.2" stroke="#222" stroke-width="0.9"/>
<text x="225.3" y="487.22" font-size="5.6" font-weight="bold" text-anchor="end" fill="#222">40</text>
<line x1="225.8" y1="500.7" x2="228.6" y2="500.7" stroke="#222" stroke-width="0.9"/>
<text x="225.3" y="502.72" font-size="5.6" font-weight="bold" text-anchor="end" fill="#222">30</text>
<line x1="225.8" y1="516.4" x2="228.6" y2="516.4" stroke="#222" stroke-width="0.9"/>
<text x="225.3" y="518.42" font-size="5.6" font-weight="bold" text-anchor="end" fill="#222">20</text>
<line x1="225.8" y1="532.1" x2="228.6" y2="532.1" stroke="#222" stroke-width="0.9"/>
<text x="225.3" y="534.12" font-size="5.6" font-weight="bold" text-anchor="end" fill="#222">10</text>
<line x1="225.8" y1="548" x2="228.6" y2="548" stroke="#222" stroke-width="0.9"/>
<text x="225.3" y="550.02" font-size="5.6" font-weight="bold" text-anchor="end" fill="#222">0</text>
<line x1="228.6" y1="548" x2="259.4" y2="548" stroke="#222" stroke-width="0.9"/>
<line x1="237.6" y1="548" x2="237.6" y2="551.2" stroke="#222" stroke-width="0.9"/>
<line x1="250.4" y1="548" x2="250.4" y2="551.2" stroke="#222" stroke-width="0.9"/>
<text x="0" y="0" font-size="10.5" text-anchor="middle" fill="#1a1a1a" transform="translate(212.3,506.9) rotate(-90)">Amplitude (pA)</text>
<text x="231.5" y="467.8" font-size="8" fill="#333"><tspan font-style="italic">p</tspan> &lt; 0.0001</text>
<line x1="237.7" y1="470" x2="250.8" y2="470" stroke="#777" stroke-width="0.8"/>
<circle cx="250.4" cy="475.09" r="1.3" fill="#2f8593"/>
<circle cx="250.4" cy="503.62" r="1.3" fill="#2f8593"/>
<circle cx="249" cy="509.96" r="1.3" fill="#2f8593"/>
<circle cx="252.5" cy="510.75" r="1.3" fill="#2f8593"/>
<circle cx="248.2" cy="514.72" r="1.3" fill="#2f8593"/>
<circle cx="251" cy="514.72" r="1.3" fill="#2f8593"/>
<circle cx="253.5" cy="516.3" r="1.3" fill="#2f8593"/>
<circle cx="247.5" cy="517.88" r="1.3" fill="#2f8593"/>
<circle cx="250.4" cy="518.68" r="1.3" fill="#2f8593"/>
<circle cx="253" cy="519.47" r="1.3" fill="#2f8593"/>
<circle cx="249" cy="521.05" r="1.3" fill="#2f8593"/>
<circle cx="251.5" cy="522.64" r="1.3" fill="#2f8593"/>
<line x1="246.6" y1="511.3" x2="255.1" y2="511.3" stroke="#2f8593" stroke-width="1"/>
<line x1="250.4" y1="498.5" x2="250.4" y2="524.1" stroke="#3f97a4" stroke-width="0.8"/>
<line x1="248" y1="498.5" x2="252.8" y2="498.5" stroke="#3f97a4" stroke-width="0.8"/>
<line x1="248" y1="524.1" x2="252.8" y2="524.1" stroke="#3f97a4" stroke-width="0.8"/>
<line x1="233.2" y1="547.6" x2="241.5" y2="547.6" stroke="#777" stroke-width="2.6"/>
<text x="0" y="0" font-size="8" text-anchor="end" fill="#1a1a1a" transform="translate(240.1,555.6) rotate(-30)">Ngn2 + shNC</text>
<text x="0" y="0" font-size="8" text-anchor="end" fill="#1a1a1a" transform="translate(254.8,556.5) rotate(-30)">Ngn2 + shOlig2</text>
<line x1="505.9" y1="371.6" x2="505.9" y2="448.7" stroke="#222" stroke-width="0.9"/>
<line x1="503.1" y1="371.6" x2="505.9" y2="371.6" stroke="#222" stroke-width="0.9"/>
<text x="502.6" y="373.62" font-size="5.6" font-weight="bold" text-anchor="end" fill="#222">8</text>
<line x1="503.1" y1="391.1" x2="505.9" y2="391.1" stroke="#222" stroke-width="0.9"/>
<text x="502.6" y="393.12" font-size="5.6" font-weight="bold" text-anchor="end" fill="#222">6</text>
<line x1="503.1" y1="410.3" x2="505.9" y2="410.3" stroke="#222" stroke-width="0.9"/>
<text x="502.6" y="412.32" font-size="5.6" font-weight="bold" text-anchor="end" fill="#222">4</text>
<line x1="503.1" y1="429.6" x2="505.9" y2="429.6" stroke="#222" stroke-width="0.9"/>
<text x="502.6" y="431.62" font-size="5.6" font-weight="bold" text-anchor="end" fill="#222">2</text>
<line x1="503.1" y1="448.7" x2="505.9" y2="448.7" stroke="#222" stroke-width="0.9"/>
<text x="502.6" y="450.72" font-size="5.6" font-weight="bold" text-anchor="end" fill="#222">0</text>
<line x1="505.9" y1="448.7" x2="537.3" y2="448.7" stroke="#222" stroke-width="0.9"/>
<line x1="514.7" y1="448.7" x2="514.7" y2="451.9" stroke="#222" stroke-width="0.9"/>
<line x1="528.4" y1="448.7" x2="528.4" y2="451.9" stroke="#222" stroke-width="0.9"/>
<text x="0" y="0" font-size="10.5" text-anchor="middle" fill="#1a1a1a" transform="translate(492.5,411.2) rotate(-90)">Frequency (Hz)</text>
<text x="508.2" y="392.4" font-size="8" fill="#333"><tspan font-style="italic">p</tspan> = 0.0001</text>
<line x1="513.9" y1="394.1" x2="528" y2="394.1" stroke="#777" stroke-width="0.8"/>
<circle cx="528.4" cy="400.7" r="1.3" fill="#2f8593"/>
<circle cx="526" cy="419.9" r="1.3" fill="#2f8593"/>
<circle cx="530.8" cy="419.9" r="1.3" fill="#2f8593"/>
<circle cx="528.4" cy="422.78" r="1.3" fill="#2f8593"/>
<circle cx="528.4" cy="429.5" r="1.3" fill="#2f8593"/>
<circle cx="528.4" cy="434.3" r="1.3" fill="#2f8593"/>
<circle cx="528.4" cy="439.1" r="1.3" fill="#2f8593"/>
<circle cx="524" cy="448.7" r="1.3" fill="#2f8593"/>
<circle cx="526.2" cy="448.7" r="1.3" fill="#2f8593"/>
<circle cx="528.4" cy="448.7" r="1.3" fill="#2f8593"/>
<circle cx="530.6" cy="448.7" r="1.3" fill="#2f8593"/>
<circle cx="532.8" cy="448.7" r="1.3" fill="#2f8593"/>
<line x1="524.1" y1="435.9" x2="532.6" y2="435.9" stroke="#2f8593" stroke-width="1"/>
<line x1="528.4" y1="435.9" x2="528.4" y2="420" stroke="#8cc4cc" stroke-width="0.8"/>
<line x1="510.2" y1="448.4" x2="519.2" y2="448.4" stroke="#777" stroke-width="2.6"/>
<line x1="507" y1="469.5" x2="507" y2="546.3" stroke="#222" stroke-width="0.9"/>
<line x1="504.2" y1="469.5" x2="507" y2="469.5" stroke="#222" stroke-width="0.9"/>
<text x="503.7" y="471.52" font-size="5.6" font-weight="bold" text-anchor="end" fill="#222">80</text>
<line x1="504.2" y1="488.6" x2="507" y2="488.6" stroke="#222" stroke-width="0.9"/>
<text x="503.7" y="490.62" font-size="5.6" font-weight="bold" text-anchor="end" fill="#222">60</text>
<line x1="504.2" y1="507.6" x2="507" y2="507.6" stroke="#222" stroke-width="0.9"/>
<text x="503.7" y="509.62" font-size="5.6" font-weight="bold" text-anchor="end" fill="#222">40</text>
<line x1="504.2" y1="527" x2="507" y2="527" stroke="#222" stroke-width="0.9"/>
<text x="503.7" y="529.02" font-size="5.6" font-weight="bold" text-anchor="end" fill="#222">20</text>
<line x1="504.2" y1="546.3" x2="507" y2="546.3" stroke="#222" stroke-width="0.9"/>
<text x="503.7" y="548.32" font-size="5.6" font-weight="bold" text-anchor="end" fill="#222">0</text>
<line x1="507" y1="546.3" x2="538.6" y2="546.3" stroke="#222" stroke-width="0.9"/>
<line x1="516.1" y1="546.3" x2="516.1" y2="549.5" stroke="#222" stroke-width="0.9"/>
<line x1="529.2" y1="546.3" x2="529.2" y2="549.5" stroke="#222" stroke-width="0.9"/>
<text x="0" y="0" font-size="10.5" text-anchor="middle" fill="#1a1a1a" transform="translate(492.3,506.6) rotate(-90)">Amplitude (pA)</text>
<text x="510" y="477.5" font-size="8" fill="#333"><tspan font-style="italic">p</tspan> &lt; 0.0001</text>
<line x1="516.1" y1="479.2" x2="529.2" y2="479.2" stroke="#777" stroke-width="0.8"/>
<circle cx="525.8" cy="485.82" r="1.3" fill="#2f8593"/>
<circle cx="532.6" cy="485.82" r="1.3" fill="#2f8593"/>
<circle cx="529.2" cy="491.58" r="1.3" fill="#2f8593"/>
<circle cx="529.2" cy="496.38" r="1.3" fill="#2f8593"/>
<circle cx="526.2" cy="500.22" r="1.3" fill="#2f8593"/>
<circle cx="532.2" cy="501.18" r="1.3" fill="#2f8593"/>
<circle cx="529.2" cy="503.1" r="1.3" fill="#2f8593"/>
<circle cx="526.2" cy="504.06" r="1.3" fill="#2f8593"/>
<circle cx="532.2" cy="505.02" r="1.3" fill="#2f8593"/>
<circle cx="529.2" cy="506.94" r="1.3" fill="#2f8593"/>
<circle cx="526.2" cy="507.9" r="1.3" fill="#2f8593"/>
<circle cx="532.2" cy="509.82" r="1.3" fill="#2f8593"/>
<circle cx="529.2" cy="512.7" r="1.3" fill="#2f8593"/>
<circle cx="529.2" cy="514.62" r="1.3" fill="#2f8593"/>
<line x1="524.5" y1="500.2" x2="533.8" y2="500.2" stroke="#2f8593" stroke-width="1"/>
<line x1="529.2" y1="488" x2="529.2" y2="512" stroke="#3f97a4" stroke-width="0.7"/>
<line x1="511.6" y1="546" x2="520.6" y2="546" stroke="#777" stroke-width="2.6"/>
<text x="0" y="0" font-size="8" text-anchor="end" fill="#1a1a1a" transform="translate(518.6,554) rotate(-30)">Ngn2 + shNC</text>
<text x="0" y="0" font-size="8" text-anchor="end" fill="#1a1a1a" transform="translate(533.1,554) rotate(-30)">Ngn2 + shOlig2</text>
<path d="M613,472.7 L613,438.2 A34.5,34.5 0 0 1 618.18,506.81 Z" fill="#808280"/>
<path d="M613,472.7 L618.18,506.81 A34.5,34.5 0 1 1 613,438.2 Z" fill="#4ea7b2"/>
<text x="557.3" y="400.8" font-size="11.5" fill="#1a1a1a">AP with PSCs</text>
<text x="597.2" y="421.7" font-size="11.4" fill="#1a1a1a">AP without PSCs</text>
<line x1="587.3" y1="408.4" x2="600.5" y2="456.8" stroke="#222" stroke-width="0.8"/>
<line x1="637" y1="432.5" x2="631.9" y2="460.6" stroke="#222" stroke-width="0.8"/>
<text x="584.5" y="472.8" font-size="9.6" fill="#1a1a1a">52.4%</text>
<text x="617.8" y="478.5" font-size="9.6" fill="#1a1a1a">47.6%</text>
<text x="569.3" y="526.1" font-size="9.3" fill="#1a1a1a">n = 21 cells from 5 mice</text>
<text x="569.3" y="536.5" font-size="9.3" fill="#1a1a1a">that can fire AP</text>
<text x="570.4" y="556.5" font-size="9.3" fill="#1a1a1a">AP: Action Potentials</text>
</svg></body></html>
